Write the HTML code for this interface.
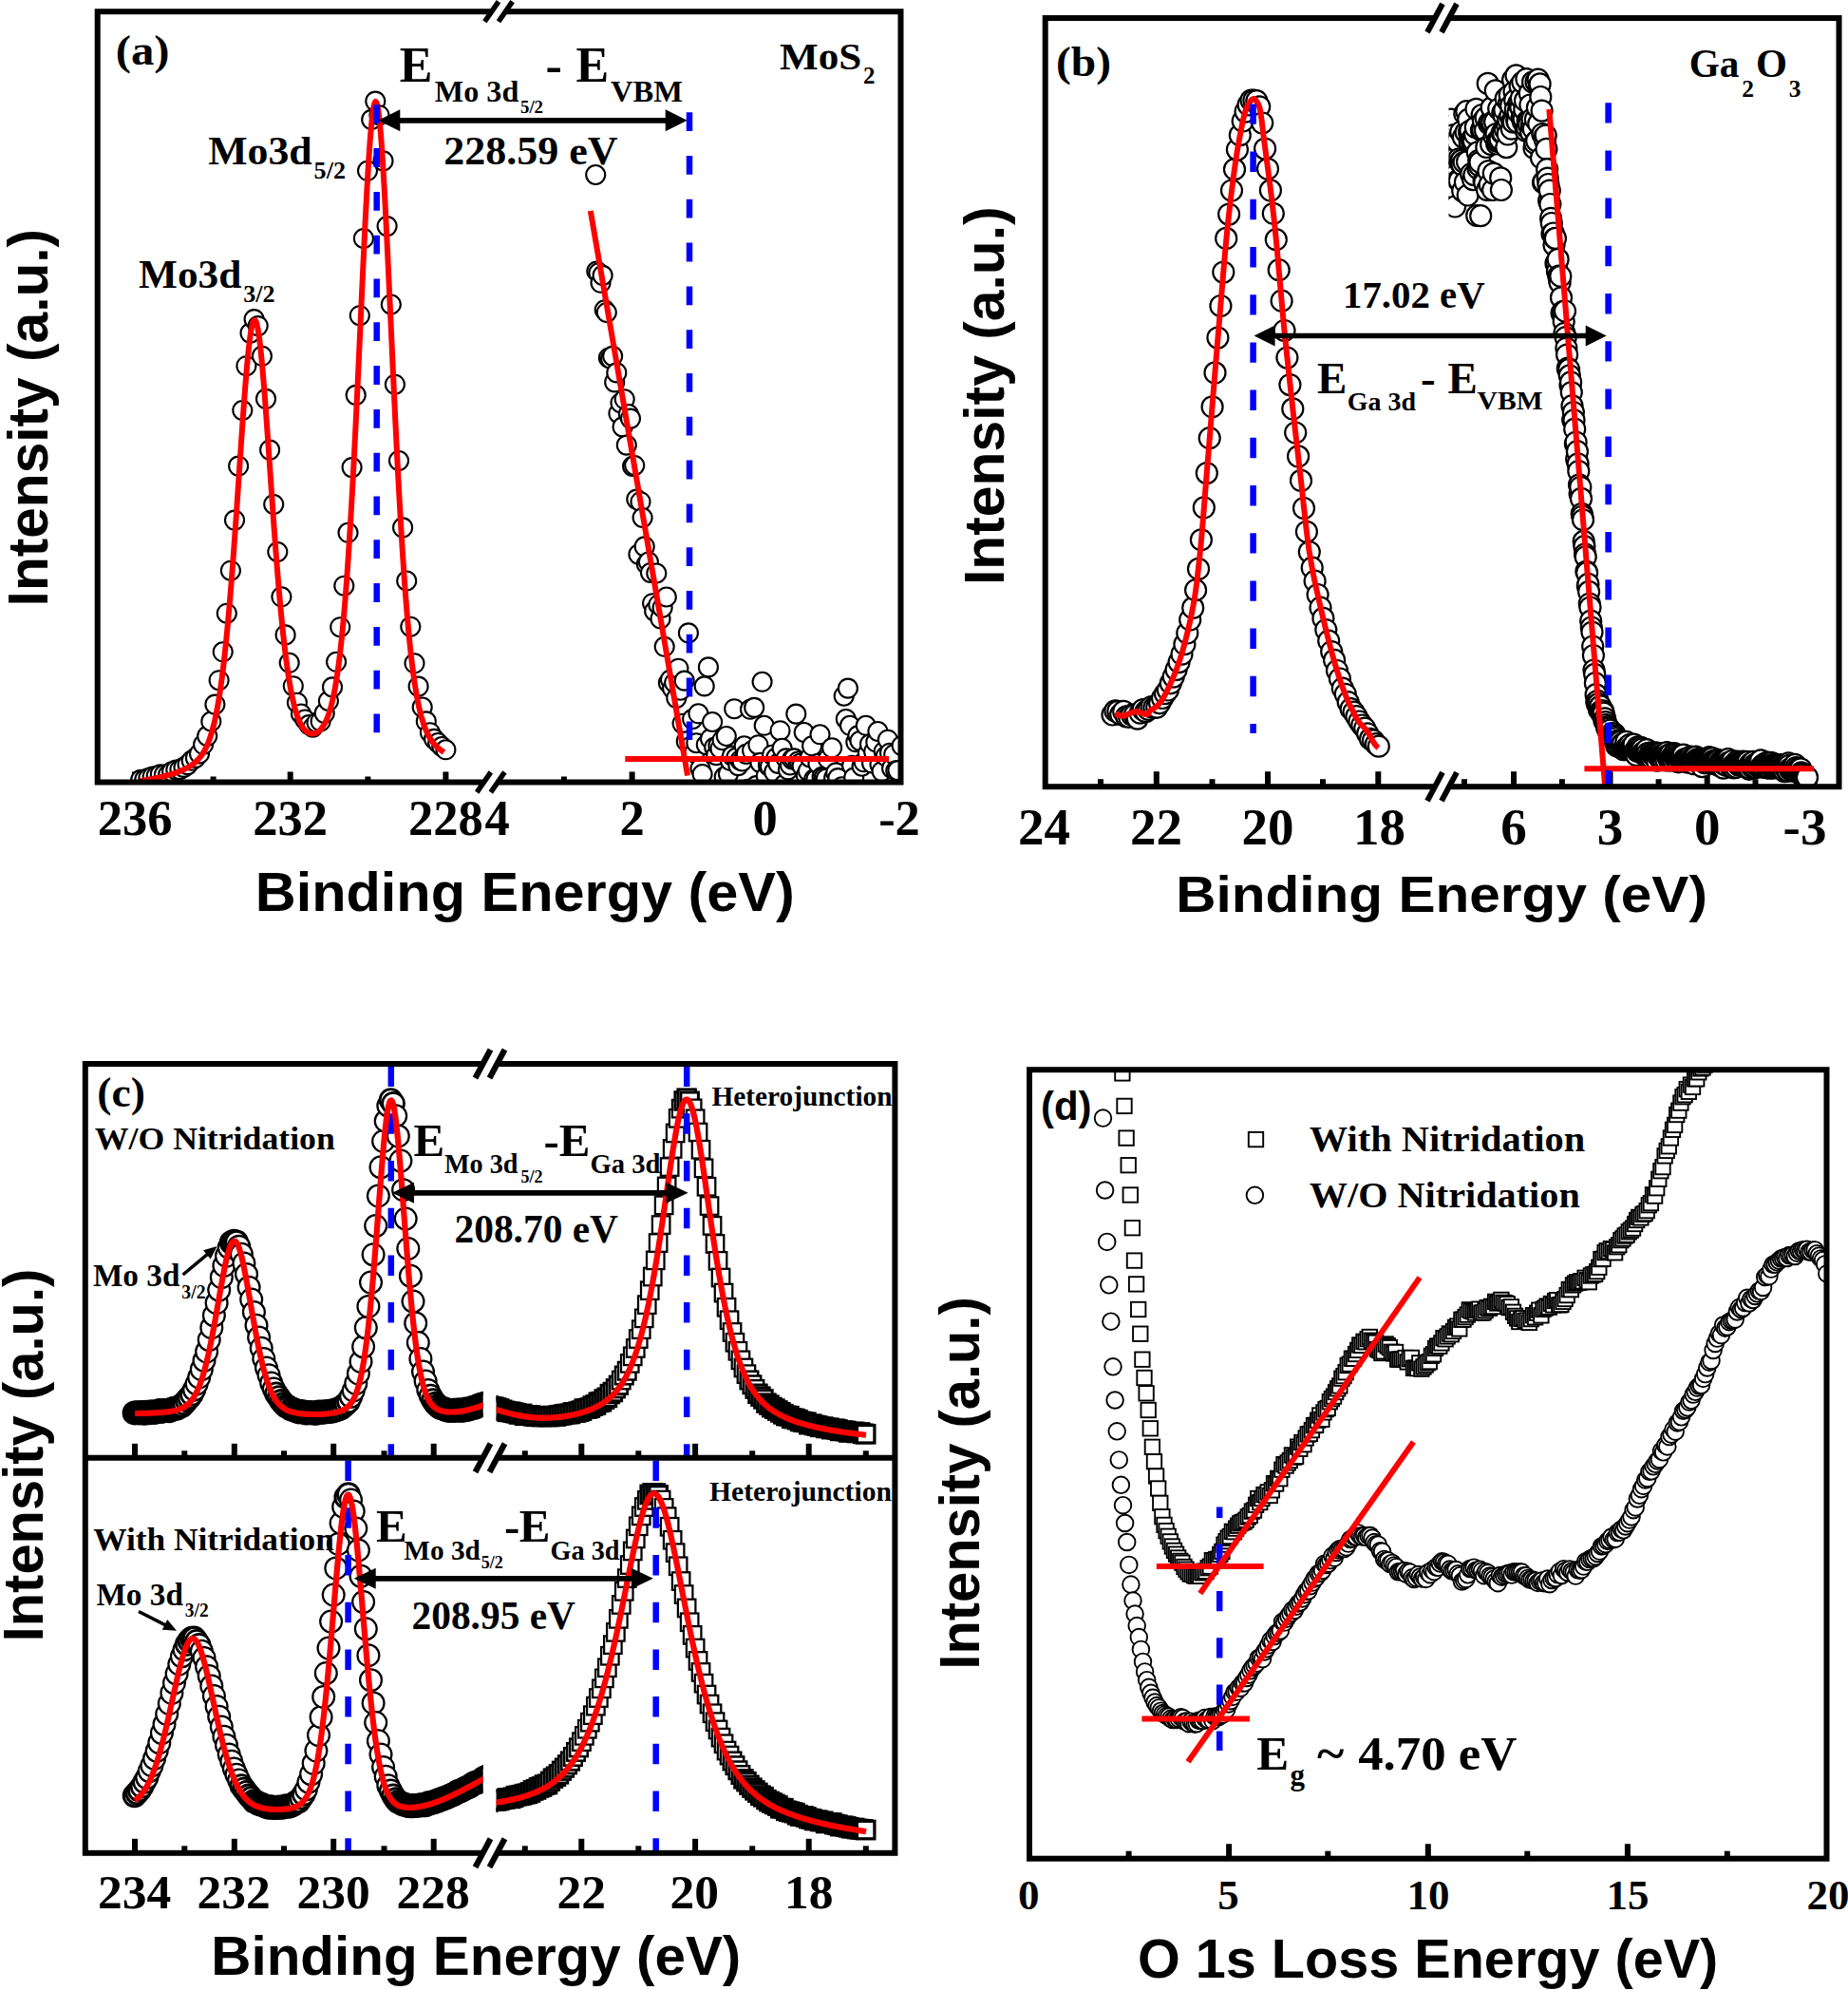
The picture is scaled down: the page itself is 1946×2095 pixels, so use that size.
<!DOCTYPE html>
<html><head><meta charset="utf-8"><title>XPS band alignment figure</title><style>html,body{margin:0;padding:0;background:#fff}svg{display:block}</style></head><body>
<svg width="1946" height="2095" viewBox="0 0 1946 2095">
<style>.se{font-family:'Liberation Serif',serif;font-weight:bold;fill:#000}.sa{font-family:'Liberation Sans',sans-serif;font-weight:bold;fill:#000}</style>
<rect width="1946" height="2095" fill="#fff"/>
<defs>
<clipPath id="ca"><rect x="102.7" y="12.2" width="845.8" height="811.3"/></clipPath>
<clipPath id="cb"><rect x="1525.5" y="19" width="411" height="809.2"/></clipPath>
<clipPath id="cb0"><rect x="1100.5" y="19" width="836" height="809.2"/></clipPath>
<clipPath id="cc1"><rect x="90" y="1120" width="852.4" height="414.8"/></clipPath>
<clipPath id="cc2"><rect x="90" y="1534.8" width="852.4" height="416"/></clipPath>
<clipPath id="cd"><rect x="1084" y="1126.2" width="839.5" height="830.5"/></clipPath>
</defs>
<line x1="142" y1="823.5" x2="142" y2="812.5" stroke="#000" stroke-width="6"/>
<line x1="305.7" y1="823.5" x2="305.7" y2="812.5" stroke="#000" stroke-width="6"/>
<line x1="469.4" y1="823.5" x2="469.4" y2="812.5" stroke="#000" stroke-width="6"/>
<line x1="665.6" y1="823.5" x2="665.6" y2="812.5" stroke="#000" stroke-width="6"/>
<line x1="805.7" y1="823.5" x2="805.7" y2="812.5" stroke="#000" stroke-width="6"/>
<line x1="224.6" y1="823.5" x2="224.6" y2="817.5" stroke="#000" stroke-width="6"/>
<line x1="387.4" y1="823.5" x2="387.4" y2="817.5" stroke="#000" stroke-width="6"/>
<line x1="593.9" y1="823.5" x2="593.9" y2="817.5" stroke="#000" stroke-width="6"/>
<line x1="735.6" y1="823.5" x2="735.6" y2="817.5" stroke="#000" stroke-width="6"/>
<line x1="875.8" y1="823.5" x2="875.8" y2="817.5" stroke="#000" stroke-width="6"/>
<g fill="#fff" stroke="#000" stroke-width="2.1" clip-path="url(#ca)">
<circle cx="148.2" cy="820.9" r="10"/><circle cx="152.3" cy="820.5" r="10"/><circle cx="156.4" cy="819.1" r="10"/><circle cx="160.6" cy="817.5" r="10"/><circle cx="164.7" cy="817.1" r="10"/><circle cx="168.8" cy="815.4" r="10"/><circle cx="172.9" cy="815.5" r="10"/><circle cx="177" cy="815.8" r="10"/><circle cx="181.1" cy="812.3" r="10"/><circle cx="185.3" cy="810.5" r="10"/><circle cx="189.4" cy="810.1" r="10"/><circle cx="193.5" cy="807.9" r="10"/><circle cx="197.6" cy="805.1" r="10"/><circle cx="201.7" cy="800.8" r="10"/><circle cx="205.9" cy="797.9" r="10"/><circle cx="210" cy="793.5" r="10"/><circle cx="214.1" cy="783.8" r="10"/><circle cx="218.2" cy="774.9" r="10"/><circle cx="222.3" cy="759.5" r="10"/><circle cx="226.4" cy="741.6" r="10"/><circle cx="230.6" cy="716.2" r="10"/><circle cx="234.7" cy="686.3" r="10"/><circle cx="238.8" cy="645.7" r="10"/><circle cx="242.9" cy="600.7" r="10"/><circle cx="247" cy="547.6" r="10"/><circle cx="251.1" cy="490.6" r="10"/><circle cx="255.3" cy="432" r="10"/><circle cx="259.4" cy="385.2" r="10"/><circle cx="263.5" cy="350.6" r="10"/><circle cx="267.6" cy="336.1" r="10"/><circle cx="271.7" cy="343.1" r="10"/><circle cx="275.9" cy="374.8" r="10"/><circle cx="280" cy="419.9" r="10"/><circle cx="284.1" cy="473.6" r="10"/><circle cx="288.2" cy="531" r="10"/><circle cx="292.3" cy="581" r="10"/><circle cx="296.4" cy="628.3" r="10"/><circle cx="300.6" cy="668.4" r="10"/><circle cx="304.7" cy="697.8" r="10"/><circle cx="308.8" cy="722.2" r="10"/><circle cx="312.9" cy="739.7" r="10"/><circle cx="317" cy="751.5" r="10"/><circle cx="321.2" cy="757.5" r="10"/><circle cx="325.3" cy="763" r="10"/><circle cx="329.4" cy="765.7" r="10"/><circle cx="333.5" cy="760.7" r="10"/><circle cx="337.6" cy="759.4" r="10"/><circle cx="341.7" cy="750.9" r="10"/><circle cx="345.9" cy="738" r="10"/><circle cx="350" cy="723.4" r="10"/><circle cx="354.1" cy="696.8" r="10"/><circle cx="358.2" cy="660.2" r="10"/><circle cx="362.3" cy="616.7" r="10"/><circle cx="366.5" cy="560.8" r="10"/><circle cx="370.6" cy="492.1" r="10"/><circle cx="374.7" cy="415.9" r="10"/><circle cx="378.8" cy="332.2" r="10"/><circle cx="382.9" cy="251" r="10"/><circle cx="387" cy="179.8" r="10"/><circle cx="391.2" cy="125.9" r="10"/><circle cx="395.3" cy="106.6" r="10"/><circle cx="399.4" cy="121.2" r="10"/><circle cx="403.5" cy="169.4" r="10"/><circle cx="407.6" cy="238.1" r="10"/><circle cx="411.8" cy="320.5" r="10"/><circle cx="415.9" cy="404.7" r="10"/><circle cx="420" cy="485" r="10"/><circle cx="424.1" cy="555.4" r="10"/><circle cx="428.2" cy="611.5" r="10"/><circle cx="432.3" cy="659.7" r="10"/><circle cx="436.5" cy="698.3" r="10"/><circle cx="440.6" cy="722.6" r="10"/><circle cx="444.7" cy="744.5" r="10"/><circle cx="448.8" cy="759.4" r="10"/><circle cx="452.9" cy="771.2" r="10"/><circle cx="457.1" cy="777.9" r="10"/><circle cx="461.2" cy="782" r="10"/><circle cx="465.3" cy="786" r="10"/><circle cx="469.4" cy="789.3" r="10"/>
</g>
<g fill="#fff" stroke="#000" stroke-width="2.1" clip-path="url(#ca)">
<circle cx="627.2" cy="184" r="10"/><circle cx="628.3" cy="285.5" r="10"/><circle cx="630.4" cy="287.3" r="10"/><circle cx="632.5" cy="297.8" r="10"/><circle cx="634.6" cy="289.9" r="10"/><circle cx="636.7" cy="326.3" r="10"/><circle cx="638.8" cy="329" r="10"/><circle cx="640.9" cy="376.7" r="10"/><circle cx="643" cy="377.6" r="10"/><circle cx="645.1" cy="374.9" r="10"/><circle cx="647.2" cy="402.4" r="10"/><circle cx="649.3" cy="392.4" r="10"/><circle cx="651.4" cy="435.2" r="10"/><circle cx="653.5" cy="424.2" r="10"/><circle cx="655.6" cy="449.4" r="10"/><circle cx="657.7" cy="420.3" r="10"/><circle cx="659.8" cy="468.6" r="10"/><circle cx="661.9" cy="436" r="10"/><circle cx="664" cy="440.6" r="10"/><circle cx="666.1" cy="490.9" r="10"/><circle cx="668.2" cy="490" r="10"/><circle cx="670.3" cy="525.6" r="10"/><circle cx="672.4" cy="583.6" r="10"/><circle cx="674.5" cy="528.2" r="10"/><circle cx="676.6" cy="545" r="10"/><circle cx="678.7" cy="575.4" r="10"/><circle cx="680.8" cy="594" r="10"/><circle cx="682.9" cy="591.5" r="10"/><circle cx="685" cy="603" r="10"/><circle cx="687.1" cy="635.2" r="10"/><circle cx="689.2" cy="643.4" r="10"/><circle cx="691.3" cy="603.5" r="10"/><circle cx="693.4" cy="636.7" r="10"/><circle cx="695.5" cy="651.4" r="10"/><circle cx="697.6" cy="639.7" r="10"/><circle cx="699.7" cy="680.8" r="10"/><circle cx="701.8" cy="628.5" r="10"/><circle cx="703.9" cy="718.9" r="10"/><circle cx="706" cy="715.6" r="10"/><circle cx="708.1" cy="724.7" r="10"/><circle cx="710.2" cy="718.7" r="10"/><circle cx="712.3" cy="735" r="10"/><circle cx="714.4" cy="703.7" r="10"/><circle cx="716.5" cy="726.7" r="10"/><circle cx="718.6" cy="761.7" r="10"/><circle cx="720.7" cy="716.6" r="10"/><circle cx="722.8" cy="780.4" r="10"/><circle cx="724.9" cy="666.4" r="10"/><circle cx="727" cy="786" r="10"/><circle cx="729.1" cy="757.1" r="10"/><circle cx="731.2" cy="792.5" r="10"/><circle cx="733.3" cy="782.2" r="10"/><circle cx="735.4" cy="751.3" r="10"/><circle cx="737.5" cy="809.2" r="10"/><circle cx="739.6" cy="815" r="10"/><circle cx="741.7" cy="722.4" r="10"/><circle cx="743.8" cy="784.1" r="10"/><circle cx="745.9" cy="702.4" r="10"/><circle cx="748" cy="777.8" r="10"/><circle cx="750.1" cy="760" r="10"/><circle cx="752.2" cy="786.7" r="10"/><circle cx="754.3" cy="795.1" r="10"/><circle cx="756.4" cy="784.9" r="10"/><circle cx="758.5" cy="788.2" r="10"/><circle cx="760.6" cy="779.2" r="10"/><circle cx="762.7" cy="817.9" r="10"/><circle cx="764.8" cy="775" r="10"/><circle cx="766.9" cy="814.8" r="10"/><circle cx="769" cy="801" r="10"/><circle cx="771.1" cy="795.6" r="10"/><circle cx="773.2" cy="746.2" r="10"/><circle cx="775.3" cy="797.6" r="10"/><circle cx="777.4" cy="806.1" r="10"/><circle cx="779.5" cy="800.4" r="10"/><circle cx="781.6" cy="801.5" r="10"/><circle cx="783.7" cy="785.3" r="10"/><circle cx="785.8" cy="793.9" r="10"/><circle cx="787.9" cy="830.8" r="10"/><circle cx="790" cy="746.8" r="10"/><circle cx="792.1" cy="790.2" r="10"/><circle cx="794.2" cy="744.9" r="10"/><circle cx="796.3" cy="827.1" r="10"/><circle cx="798.4" cy="784.2" r="10"/><circle cx="800.5" cy="802.9" r="10"/><circle cx="802.6" cy="717.8" r="10"/><circle cx="804.7" cy="763.8" r="10"/><circle cx="806.8" cy="817" r="10"/><circle cx="808.9" cy="805.6" r="10"/><circle cx="811" cy="807.1" r="10"/><circle cx="813.1" cy="794.7" r="10"/><circle cx="815.2" cy="812.8" r="10"/><circle cx="817.3" cy="797.9" r="10"/><circle cx="819.4" cy="803.9" r="10"/><circle cx="821.5" cy="769.2" r="10"/><circle cx="823.6" cy="787.8" r="10"/><circle cx="825.7" cy="826" r="10"/><circle cx="827.8" cy="798.4" r="10"/><circle cx="829.9" cy="810.4" r="10"/><circle cx="832" cy="805.5" r="10"/><circle cx="834.1" cy="799.4" r="10"/><circle cx="836.2" cy="798.4" r="10"/><circle cx="838.3" cy="751.6" r="10"/><circle cx="840.4" cy="801.5" r="10"/><circle cx="842.5" cy="803.7" r="10"/><circle cx="844.6" cy="806.3" r="10"/><circle cx="846.7" cy="771" r="10"/><circle cx="848.8" cy="816.2" r="10"/><circle cx="850.9" cy="811.7" r="10"/><circle cx="853" cy="797.5" r="10"/><circle cx="855.1" cy="785.3" r="10"/><circle cx="857.2" cy="820.2" r="10"/><circle cx="859.3" cy="820.5" r="10"/><circle cx="861.4" cy="803.9" r="10"/><circle cx="863.5" cy="773.3" r="10"/><circle cx="865.6" cy="817.7" r="10"/><circle cx="867.7" cy="818.5" r="10"/><circle cx="869.8" cy="819.8" r="10"/><circle cx="871.9" cy="799.2" r="10"/><circle cx="874" cy="828.7" r="10"/><circle cx="876.1" cy="787.3" r="10"/><circle cx="878.2" cy="818.9" r="10"/><circle cx="880.3" cy="813.4" r="10"/><circle cx="882.4" cy="819.1" r="10"/><circle cx="884.5" cy="834.2" r="10"/><circle cx="886.6" cy="828.3" r="10"/><circle cx="888.7" cy="732.7" r="10"/><circle cx="890.8" cy="757" r="10"/><circle cx="892.9" cy="724.6" r="10"/><circle cx="895" cy="763.8" r="10"/><circle cx="897.1" cy="805.8" r="10"/><circle cx="899.2" cy="818.6" r="10"/><circle cx="901.3" cy="781.3" r="10"/><circle cx="903.4" cy="774.4" r="10"/><circle cx="905.5" cy="780" r="10"/><circle cx="907.6" cy="806.7" r="10"/><circle cx="909.7" cy="802.3" r="10"/><circle cx="911.8" cy="763.8" r="10"/><circle cx="913.9" cy="793.1" r="10"/><circle cx="916" cy="783.3" r="10"/><circle cx="918.1" cy="803.5" r="10"/><circle cx="920.2" cy="791.4" r="10"/><circle cx="922.3" cy="781.3" r="10"/><circle cx="924.4" cy="770" r="10"/><circle cx="926.5" cy="805.1" r="10"/><circle cx="928.6" cy="812.1" r="10"/><circle cx="930.7" cy="791.2" r="10"/><circle cx="932.8" cy="796.1" r="10"/><circle cx="934.9" cy="778.7" r="10"/><circle cx="937" cy="792.7" r="10"/><circle cx="939.1" cy="808.9" r="10"/><circle cx="941.2" cy="794.3" r="10"/><circle cx="943.3" cy="811.3" r="10"/><circle cx="945.4" cy="811.1" r="10"/><circle cx="947.5" cy="836.4" r="10"/><circle cx="949.6" cy="785.1" r="10"/>
</g>
<polyline points="147.5,822.2 148.5,822.1 149.5,821.9 150.5,821.7 151.5,821.6 152.5,821.4 153.5,821.2 154.5,821.1 155.5,820.9 156.5,820.7 157.5,820.5 158.5,820.3 159.5,820.1 160.5,819.9 161.5,819.7 162.5,819.5 163.5,819.3 164.5,819.1 165.5,818.9 166.5,818.7 167.5,818.5 168.5,818.2 169.5,818 170.5,817.8 171.5,817.5 172.5,817.3 173.5,817 174.5,816.7 175.5,816.5 176.5,816.2 177.5,815.9 178.5,815.6 179.5,815.3 180.5,815 181.5,814.7 182.5,814.4 183.5,814.1 184.5,813.7 185.5,813.4 186.5,813 187.5,812.6 188.5,812.2 189.5,811.8 190.5,811.4 191.5,811 192.5,810.6 193.5,810.1 194.5,809.6 195.5,809.1 196.5,808.6 197.5,808.1 198.5,807.5 199.5,806.9 200.5,806.3 201.5,805.6 202.5,804.9 203.5,804.2 204.5,803.4 205.5,802.6 206.5,801.7 207.5,800.7 208.5,799.7 209.5,798.6 210.5,797.4 211.5,796.1 212.5,794.8 213.5,793.3 214.5,791.7 215.5,789.9 216.5,788 217.5,786 218.5,783.7 219.5,781.3 220.5,778.6 221.5,775.7 222.5,772.5 223.5,769.1 224.5,765.4 225.5,761.4 226.5,757 227.5,752.3 228.5,747.2 229.5,741.7 230.5,735.7 231.5,729.4 232.5,722.5 233.5,715.3 234.5,707.5 235.5,699.2 236.5,690.4 237.5,681.1 238.5,671.3 239.5,660.9 240.5,650 241.5,638.7 242.5,626.8 243.5,614.5 244.5,601.7 245.5,588.5 246.5,574.8 247.5,560.9 248.5,546.7 249.5,532.2 250.5,517.5 251.5,502.7 252.5,487.9 253.5,473.2 254.5,458.6 255.5,444.3 256.5,430.3 257.5,416.9 258.5,404 259.5,391.9 260.5,380.7 261.5,370.5 262.5,361.5 263.5,353.7 264.5,347.3 265.5,342.3 266.5,338.9 267.5,337.2 268.5,337 269.5,338.5 270.5,341.5 271.5,346.2 272.5,352.2 273.5,359.7 274.5,368.4 275.5,378.3 276.5,389.2 277.5,401 278.5,413.5 279.5,426.6 280.5,440.2 281.5,454.2 282.5,468.5 283.5,482.9 284.5,497.3 285.5,511.8 286.5,526.1 287.5,540.2 288.5,554.1 289.5,567.7 290.5,580.9 291.5,593.8 292.5,606.2 293.5,618.2 294.5,629.7 295.5,640.7 296.5,651.1 297.5,661.1 298.5,670.5 299.5,679.4 300.5,687.8 301.5,695.6 302.5,703 303.5,709.8 304.5,716.2 305.5,722.1 306.5,727.6 307.5,732.6 308.5,737.2 309.5,741.5 310.5,745.3 311.5,748.8 312.5,752 313.5,754.9 314.5,757.5 315.5,759.8 316.5,761.9 317.5,763.7 318.5,765.4 319.5,766.8 320.5,768 321.5,769.1 322.5,770 323.5,770.7 324.5,771.3 325.5,771.8 326.5,772.1 327.5,772.3 328.5,772.4 329.5,772.4 330.5,772.3 331.5,772 332.5,771.7 333.5,771.2 334.5,770.6 335.5,769.9 336.5,769 337.5,768 338.5,766.9 339.5,765.6 340.5,764.1 341.5,762.4 342.5,760.5 343.5,758.5 344.5,756.1 345.5,753.5 346.5,750.7 347.5,747.5 348.5,744 349.5,740.1 350.5,735.8 351.5,731.2 352.5,726.1 353.5,720.5 354.5,714.3 355.5,707.7 356.5,700.5 357.5,692.6 358.5,684.1 359.5,675 360.5,665.2 361.5,654.6 362.5,643.3 363.5,631.3 364.5,618.5 365.5,604.9 366.5,590.5 367.5,575.3 368.5,559.3 369.5,542.6 370.5,525.1 371.5,507 372.5,488.1 373.5,468.6 374.5,448.5 375.5,427.9 376.5,406.9 377.5,385.6 378.5,364 379.5,342.2 380.5,320.4 381.5,298.8 382.5,277.4 383.5,256.5 384.5,236.2 385.5,216.6 386.5,198 387.5,180.7 388.5,164.7 389.5,150.3 390.5,137.7 391.5,127.1 392.5,118.6 393.5,112.3 394.5,108.5 395.5,107 396.5,108.1 397.5,111.5 398.5,117.4 399.5,125.5 400.5,135.8 401.5,148.2 402.5,162.3 403.5,178.1 404.5,195.3 405.5,213.7 406.5,233.2 407.5,253.5 408.5,274.4 409.5,295.8 410.5,317.5 411.5,339.4 412.5,361.2 413.5,383 414.5,404.5 415.5,425.7 416.5,446.5 417.5,466.8 418.5,486.5 419.5,505.6 420.5,524.1 421.5,541.8 422.5,558.8 423.5,575.1 424.5,590.6 425.5,605.3 426.5,619.2 427.5,632.3 428.5,644.7 429.5,656.3 430.5,667.1 431.5,677.3 432.5,686.7 433.5,695.5 434.5,703.7 435.5,711.2 436.5,718.2 437.5,724.6 438.5,730.6 439.5,736 440.5,741 441.5,745.6 442.5,749.8 443.5,753.7 444.5,757.2 445.5,760.4 446.5,763.4 447.5,766.1 448.5,768.5 449.5,770.8 450.5,772.9 451.5,774.8 452.5,776.6 453.5,778.2 454.5,779.7 455.5,781.1 456.5,782.3 457.5,783.5 458.5,784.6 459.5,785.7 460.5,786.6 461.5,787.5 462.5,788.4 463.5,789.2 464.5,789.9 465.5,790.7 466.5,791.3 467.5,792" fill="none" stroke="#f00" stroke-width="6" stroke-linejoin="round"/>
<line x1="621.8" y1="221.9" x2="724" y2="816.5" stroke="#f00" stroke-width="6"/>
<line x1="658.3" y1="799" x2="936" y2="799" stroke="#f00" stroke-width="6"/>
<line x1="396.7" y1="110.3" x2="396.7" y2="772" stroke="#00f" stroke-width="6.5" stroke-dasharray="19.8 26" stroke-dashoffset="0"/>
<line x1="726" y1="118.2" x2="726" y2="779" stroke="#00f" stroke-width="6.5" stroke-dasharray="19.8 26" stroke-dashoffset="0"/>
<rect x="102.7" y="12.2" width="845.8" height="811.3" fill="none" stroke="#000" stroke-width="6"/>
<path d="M502.2 834.1 L516.8 812.9 L531.4 812.9 L516.8 834.1 z" fill="#fff"/>
<line x1="502.2" y1="834.1" x2="516.8" y2="812.9" stroke="#000" stroke-width="5.4"/>
<line x1="516.8" y1="834.1" x2="531.4" y2="812.9" stroke="#000" stroke-width="5.4"/>
<path d="M510.4 22.8 L525 1.6 L539.6 1.6 L525 22.8 z" fill="#fff"/>
<line x1="510.4" y1="22.8" x2="525" y2="1.6" stroke="#000" stroke-width="5.4"/>
<line x1="525" y1="22.8" x2="539.6" y2="1.6" stroke="#000" stroke-width="5.4"/>
<line x1="414.4" y1="126.8" x2="707.6" y2="126.8" stroke="#000" stroke-width="5.7"/>
<path d="M398.3 126.8 l23 -11.5 l0 23 z M723.7 126.8 l-23 -11.5 l0 23 z" fill="#000"/>
<text class="se" x="121.8" y="67.6" font-size="44" textLength="56.8" lengthAdjust="spacingAndGlyphs">(a)</text>
<text class="se" x="420.8" y="86.3" font-size="52">E</text>
<text class="se" x="457.8" y="106.7" font-size="31" textLength="88.5" lengthAdjust="spacingAndGlyphs">Mo 3d</text>
<text class="se" x="548" y="118.6" font-size="18" textLength="24" lengthAdjust="spacingAndGlyphs">5/2</text>
<text class="se" x="574.6" y="86.3" font-size="52">-</text>
<text class="se" x="606.6" y="86.3" font-size="52">E</text>
<text class="se" x="643" y="106.7" font-size="31" textLength="76" lengthAdjust="spacingAndGlyphs">VBM</text>
<text class="se" x="821" y="72.8" font-size="41" textLength="86.3" lengthAdjust="spacingAndGlyphs">MoS</text>
<text class="se" x="908.9" y="87.9" font-size="25">2</text>
<text class="se" x="467.3" y="173.3" font-size="42" textLength="183.3" lengthAdjust="spacingAndGlyphs">228.59 eV</text>
<text class="se" x="219.2" y="173.2" font-size="43" textLength="109.5" lengthAdjust="spacingAndGlyphs">Mo3d</text>
<text class="se" x="330.6" y="188" font-size="26" textLength="33.4" lengthAdjust="spacingAndGlyphs">5/2</text>
<text class="se" x="146.1" y="303" font-size="43" textLength="108.2" lengthAdjust="spacingAndGlyphs">Mo3d</text>
<text class="se" x="256.2" y="318" font-size="26" textLength="33.3" lengthAdjust="spacingAndGlyphs">3/2</text>
<text class="se" x="142" y="879.3" font-size="52.5" text-anchor="middle">236</text>
<text class="se" x="305.7" y="879.3" font-size="52.5" text-anchor="middle">232</text>
<text class="se" x="469.4" y="879.3" font-size="52.5" text-anchor="middle">228</text>
<text class="se" x="523.6" y="879.3" font-size="52.5" text-anchor="middle">4</text>
<text class="se" x="665.6" y="879.3" font-size="52.5" text-anchor="middle">2</text>
<text class="se" x="805.7" y="879.3" font-size="52.5" text-anchor="middle">0</text>
<text class="se" x="947" y="879.3" font-size="52.5" text-anchor="middle">-2</text>
<text class="sa" x="268.8" y="958.6" font-size="57" textLength="568" lengthAdjust="spacingAndGlyphs">Binding Energy (eV)</text>
<text class="sa" x="0" y="0" font-size="60" textLength="397.5" lengthAdjust="spacingAndGlyphs" transform="translate(50.3 638.4) rotate(-90)">Intensity (a.u.)</text>
<line x1="1217.8" y1="828.2" x2="1217.8" y2="812.2" stroke="#000" stroke-width="6"/>
<line x1="1335" y1="828.2" x2="1335" y2="812.2" stroke="#000" stroke-width="6"/>
<line x1="1451.3" y1="828.2" x2="1451.3" y2="812.2" stroke="#000" stroke-width="6"/>
<line x1="1594" y1="828.2" x2="1594" y2="812.2" stroke="#000" stroke-width="6"/>
<line x1="1695.5" y1="828.2" x2="1695.5" y2="812.2" stroke="#000" stroke-width="6"/>
<line x1="1797.7" y1="828.2" x2="1797.7" y2="812.2" stroke="#000" stroke-width="6"/>
<line x1="1899.3" y1="828.2" x2="1899.3" y2="812.2" stroke="#000" stroke-width="6"/>
<line x1="1159" y1="828.2" x2="1159" y2="820.2" stroke="#000" stroke-width="6"/>
<line x1="1276.5" y1="828.2" x2="1276.5" y2="820.2" stroke="#000" stroke-width="6"/>
<line x1="1393" y1="828.2" x2="1393" y2="820.2" stroke="#000" stroke-width="6"/>
<line x1="1542" y1="828.2" x2="1542" y2="820.2" stroke="#000" stroke-width="6"/>
<line x1="1644.9" y1="828.2" x2="1644.9" y2="820.2" stroke="#000" stroke-width="6"/>
<line x1="1746.6" y1="828.2" x2="1746.6" y2="820.2" stroke="#000" stroke-width="6"/>
<line x1="1848.5" y1="828.2" x2="1848.5" y2="820.2" stroke="#000" stroke-width="6"/>
<g fill="#fff" stroke="#000" stroke-width="2.2" clip-path="url(#cb0)">
<circle cx="1171.5" cy="752.5" r="11"/><circle cx="1174.4" cy="748.4" r="11"/><circle cx="1177.3" cy="748.8" r="11"/><circle cx="1180.2" cy="752.1" r="11"/><circle cx="1183.2" cy="748.9" r="11"/><circle cx="1186.1" cy="754.4" r="11"/><circle cx="1189" cy="754.8" r="11"/><circle cx="1191.9" cy="752.6" r="11"/><circle cx="1194.8" cy="752.7" r="11"/><circle cx="1197.8" cy="756.6" r="11"/><circle cx="1200.7" cy="750.7" r="11"/><circle cx="1203.6" cy="747.1" r="11"/><circle cx="1206.5" cy="749.2" r="11"/><circle cx="1209.4" cy="746.9" r="11"/><circle cx="1212.4" cy="744.2" r="11"/><circle cx="1215.3" cy="745" r="11"/><circle cx="1218.2" cy="744.7" r="11"/><circle cx="1221.1" cy="740.3" r="11"/><circle cx="1224" cy="735" r="11"/><circle cx="1227" cy="730.2" r="11"/><circle cx="1229.9" cy="726.5" r="11"/><circle cx="1232.8" cy="719.3" r="11"/><circle cx="1235.7" cy="712.6" r="11"/><circle cx="1238.6" cy="705.1" r="11"/><circle cx="1241.6" cy="697.1" r="11"/><circle cx="1244.5" cy="688.7" r="11"/><circle cx="1247.4" cy="678.2" r="11"/><circle cx="1250.3" cy="666.5" r="11"/><circle cx="1253.2" cy="652.5" r="11"/><circle cx="1256.2" cy="639.9" r="11"/><circle cx="1259.1" cy="621.2" r="11"/><circle cx="1262" cy="598.9" r="11"/><circle cx="1264.9" cy="568.3" r="11"/><circle cx="1267.8" cy="534.4" r="11"/><circle cx="1270.8" cy="498.1" r="11"/><circle cx="1273.7" cy="461.2" r="11"/><circle cx="1276.6" cy="428.3" r="11"/><circle cx="1279.5" cy="392.4" r="11"/><circle cx="1282.4" cy="355.6" r="11"/><circle cx="1285.4" cy="322" r="11"/><circle cx="1288.3" cy="286.6" r="11"/><circle cx="1291.2" cy="250.9" r="11"/><circle cx="1294.1" cy="225.6" r="11"/><circle cx="1297" cy="200.5" r="11"/><circle cx="1300" cy="178.2" r="11"/><circle cx="1302.9" cy="157.6" r="11"/><circle cx="1305.8" cy="142.2" r="11"/><circle cx="1308.7" cy="127.5" r="11"/><circle cx="1311.6" cy="117.6" r="11"/><circle cx="1314.6" cy="110.4" r="11"/><circle cx="1317.5" cy="105.5" r="11"/><circle cx="1320.4" cy="105.6" r="11"/><circle cx="1323.3" cy="106.2" r="11"/><circle cx="1326.2" cy="112.3" r="11"/><circle cx="1329.2" cy="129.5" r="11"/><circle cx="1332.1" cy="156.6" r="11"/><circle cx="1335" cy="177.8" r="11"/><circle cx="1337.9" cy="200.4" r="11"/><circle cx="1340.8" cy="224.8" r="11"/><circle cx="1343.8" cy="252.2" r="11"/><circle cx="1346.7" cy="284.2" r="11"/><circle cx="1349.6" cy="316.7" r="11"/><circle cx="1352.5" cy="348" r="11"/><circle cx="1355.4" cy="376.6" r="11"/><circle cx="1358.4" cy="405.1" r="11"/><circle cx="1361.3" cy="430.4" r="11"/><circle cx="1364.2" cy="455.5" r="11"/><circle cx="1367.1" cy="480.4" r="11"/><circle cx="1370" cy="505.9" r="11"/><circle cx="1373" cy="535" r="11"/><circle cx="1375.9" cy="559.8" r="11"/><circle cx="1378.8" cy="581.1" r="11"/><circle cx="1381.7" cy="597.7" r="11"/><circle cx="1384.6" cy="611.7" r="11"/><circle cx="1387.6" cy="626" r="11"/><circle cx="1390.5" cy="639.7" r="11"/><circle cx="1393.4" cy="650.9" r="11"/><circle cx="1396.3" cy="663.1" r="11"/><circle cx="1399.2" cy="674.7" r="11"/><circle cx="1402.2" cy="686.1" r="11"/><circle cx="1405.1" cy="694.9" r="11"/><circle cx="1408" cy="706" r="11"/><circle cx="1410.9" cy="714.5" r="11"/><circle cx="1413.8" cy="724.7" r="11"/><circle cx="1416.8" cy="730.8" r="11"/><circle cx="1419.7" cy="739.2" r="11"/><circle cx="1422.6" cy="746.2" r="11"/><circle cx="1425.5" cy="749.7" r="11"/><circle cx="1428.4" cy="754.2" r="11"/><circle cx="1431.4" cy="759.5" r="11"/><circle cx="1434.3" cy="763.5" r="11"/><circle cx="1437.2" cy="766.7" r="11"/><circle cx="1440.1" cy="772.3" r="11"/><circle cx="1443" cy="777.9" r="11"/><circle cx="1446" cy="779.5" r="11"/><circle cx="1448.9" cy="783.2" r="11"/><circle cx="1451.8" cy="785.7" r="11"/>
</g>
<g fill="#fff" stroke="#000" stroke-width="2.2" clip-path="url(#cb)">
<circle cx="1522.6" cy="170.5" r="11"/><circle cx="1523.3" cy="155.7" r="11"/><circle cx="1524" cy="146.9" r="11"/><circle cx="1524.6" cy="162.8" r="11"/><circle cx="1525.3" cy="140.8" r="11"/><circle cx="1526" cy="132.9" r="11"/><circle cx="1526.7" cy="170.5" r="11"/><circle cx="1527.4" cy="198.8" r="11"/><circle cx="1528" cy="125.6" r="11"/><circle cx="1528.7" cy="172.1" r="11"/><circle cx="1529.4" cy="152.3" r="11"/><circle cx="1530.1" cy="142.3" r="11"/><circle cx="1530.7" cy="197.9" r="11"/><circle cx="1531.4" cy="156.3" r="11"/><circle cx="1532.1" cy="217.5" r="11"/><circle cx="1532.8" cy="148.3" r="11"/><circle cx="1533.5" cy="183.7" r="11"/><circle cx="1534.1" cy="165.1" r="11"/><circle cx="1534.8" cy="149.1" r="11"/><circle cx="1535.5" cy="189.8" r="11"/><circle cx="1536.2" cy="167.3" r="11"/><circle cx="1536.8" cy="190.3" r="11"/><circle cx="1537.5" cy="170.6" r="11"/><circle cx="1538.2" cy="139" r="11"/><circle cx="1538.9" cy="168.9" r="11"/><circle cx="1539.6" cy="173.6" r="11"/><circle cx="1540.2" cy="201.1" r="11"/><circle cx="1540.9" cy="144.5" r="11"/><circle cx="1541.6" cy="170.8" r="11"/><circle cx="1542.3" cy="119.7" r="11"/><circle cx="1542.9" cy="191.8" r="11"/><circle cx="1543.6" cy="139.2" r="11"/><circle cx="1544.3" cy="117.2" r="11"/><circle cx="1545" cy="170.2" r="11"/><circle cx="1545.7" cy="205.5" r="11"/><circle cx="1546.3" cy="125.7" r="11"/><circle cx="1547" cy="138.9" r="11"/><circle cx="1547.7" cy="149.3" r="11"/><circle cx="1548.4" cy="137.5" r="11"/><circle cx="1549.1" cy="183.2" r="11"/><circle cx="1549.7" cy="147.1" r="11"/><circle cx="1550.4" cy="149.6" r="11"/><circle cx="1551.1" cy="189.1" r="11"/><circle cx="1551.8" cy="148.3" r="11"/><circle cx="1552.4" cy="184.2" r="11"/><circle cx="1553.1" cy="141.4" r="11"/><circle cx="1553.8" cy="133.9" r="11"/><circle cx="1554.5" cy="114.8" r="11"/><circle cx="1555.2" cy="227" r="11"/><circle cx="1555.8" cy="160.4" r="11"/><circle cx="1556.5" cy="177.4" r="11"/><circle cx="1557.2" cy="168.8" r="11"/><circle cx="1557.9" cy="174.4" r="11"/><circle cx="1558.5" cy="170.8" r="11"/><circle cx="1559.2" cy="227.2" r="11"/><circle cx="1559.9" cy="137.1" r="11"/><circle cx="1560.6" cy="121" r="11"/><circle cx="1561.3" cy="137.4" r="11"/><circle cx="1561.9" cy="127.3" r="11"/><circle cx="1562.6" cy="190.5" r="11"/><circle cx="1563.3" cy="192.4" r="11"/><circle cx="1564" cy="137.5" r="11"/><circle cx="1564.6" cy="123.9" r="11"/><circle cx="1565.3" cy="155" r="11"/><circle cx="1566" cy="200" r="11"/><circle cx="1566.7" cy="87.9" r="11"/><circle cx="1567.4" cy="180.1" r="11"/><circle cx="1568" cy="130.1" r="11"/><circle cx="1568.7" cy="194.4" r="11"/><circle cx="1569.4" cy="128.4" r="11"/><circle cx="1570.1" cy="152" r="11"/><circle cx="1570.7" cy="113.4" r="11"/><circle cx="1571.4" cy="128.8" r="11"/><circle cx="1572.1" cy="200" r="11"/><circle cx="1572.8" cy="182.6" r="11"/><circle cx="1573.5" cy="143.8" r="11"/><circle cx="1574.1" cy="128.2" r="11"/><circle cx="1574.8" cy="95.4" r="11"/><circle cx="1575.5" cy="141.1" r="11"/><circle cx="1576.2" cy="151.5" r="11"/><circle cx="1576.8" cy="148.9" r="11"/><circle cx="1577.5" cy="147.7" r="11"/><circle cx="1578.2" cy="114.6" r="11"/><circle cx="1578.9" cy="146.7" r="11"/><circle cx="1579.6" cy="146.5" r="11"/><circle cx="1580.2" cy="187.3" r="11"/><circle cx="1580.9" cy="200" r="11"/><circle cx="1581.6" cy="140" r="11"/><circle cx="1582.3" cy="118.9" r="11"/><circle cx="1583" cy="139.9" r="11"/><circle cx="1583.6" cy="121.4" r="11"/><circle cx="1584.3" cy="115.8" r="11"/><circle cx="1585" cy="136.3" r="11"/><circle cx="1585.7" cy="103.7" r="11"/><circle cx="1586.3" cy="155.1" r="11"/><circle cx="1587" cy="131.3" r="11"/><circle cx="1587.7" cy="141.5" r="11"/><circle cx="1588.4" cy="126.5" r="11"/><circle cx="1589.1" cy="108" r="11"/><circle cx="1589.7" cy="100" r="11"/><circle cx="1590.4" cy="122" r="11"/><circle cx="1591.1" cy="111.2" r="11"/><circle cx="1591.8" cy="135.7" r="11"/><circle cx="1592.4" cy="127.5" r="11"/><circle cx="1593.1" cy="84" r="11"/><circle cx="1593.8" cy="128.7" r="11"/><circle cx="1594.5" cy="96.5" r="11"/><circle cx="1595.2" cy="105.7" r="11"/><circle cx="1595.8" cy="115.5" r="11"/><circle cx="1596.5" cy="79.4" r="11"/><circle cx="1597.2" cy="127" r="11"/><circle cx="1597.9" cy="128.5" r="11"/><circle cx="1598.5" cy="118.1" r="11"/><circle cx="1599.2" cy="109.1" r="11"/><circle cx="1599.9" cy="110.4" r="11"/><circle cx="1600.6" cy="90.6" r="11"/><circle cx="1601.3" cy="113" r="11"/><circle cx="1601.9" cy="103.6" r="11"/><circle cx="1602.6" cy="124.1" r="11"/><circle cx="1603.3" cy="86.6" r="11"/><circle cx="1604" cy="128.2" r="11"/><circle cx="1604.6" cy="125" r="11"/><circle cx="1605.3" cy="115.6" r="11"/><circle cx="1606" cy="105.9" r="11"/><circle cx="1606.7" cy="137.6" r="11"/><circle cx="1607.4" cy="83.1" r="11"/><circle cx="1608" cy="134.4" r="11"/><circle cx="1608.7" cy="127.2" r="11"/><circle cx="1609.4" cy="128.4" r="11"/><circle cx="1610.1" cy="131.5" r="11"/><circle cx="1610.7" cy="97.9" r="11"/><circle cx="1611.4" cy="110.5" r="11"/><circle cx="1612.1" cy="139.3" r="11"/><circle cx="1612.8" cy="132.5" r="11"/><circle cx="1613.5" cy="125.2" r="11"/><circle cx="1614.1" cy="86.4" r="11"/><circle cx="1614.8" cy="135.7" r="11"/><circle cx="1615.5" cy="155.9" r="11"/><circle cx="1616.2" cy="150.7" r="11"/><circle cx="1616.9" cy="125.7" r="11"/><circle cx="1617.5" cy="86.2" r="11"/><circle cx="1618.2" cy="148.4" r="11"/><circle cx="1618.9" cy="113.3" r="11"/><circle cx="1619.6" cy="83.7" r="11"/><circle cx="1620.2" cy="130.2" r="11"/><circle cx="1620.9" cy="90.4" r="11"/><circle cx="1621.6" cy="88.4" r="11"/><circle cx="1622.3" cy="102" r="11"/><circle cx="1623" cy="166.2" r="11"/><circle cx="1623.6" cy="116.6" r="11"/><circle cx="1624.3" cy="141" r="11"/><circle cx="1625" cy="192.2" r="11"/><circle cx="1625.7" cy="191.4" r="11"/><circle cx="1626.3" cy="144.3" r="11"/><circle cx="1627" cy="147.5" r="11"/><circle cx="1627.7" cy="142.6" r="11"/><circle cx="1628.4" cy="156.9" r="11"/><circle cx="1629.1" cy="178.2" r="11"/><circle cx="1629.7" cy="187.6" r="11"/><circle cx="1630.4" cy="194" r="11"/><circle cx="1631.1" cy="211.2" r="11"/><circle cx="1631.8" cy="200.6" r="11"/><circle cx="1632.4" cy="215" r="11"/><circle cx="1633.1" cy="229.8" r="11"/><circle cx="1633.8" cy="235" r="11"/><circle cx="1634.5" cy="246.3" r="11"/><circle cx="1635.2" cy="246.1" r="11"/><circle cx="1635.8" cy="245.5" r="11"/><circle cx="1636.5" cy="258.1" r="11"/><circle cx="1637.2" cy="251" r="11"/><circle cx="1637.9" cy="250.9" r="11"/><circle cx="1638.5" cy="277.3" r="11"/><circle cx="1639.2" cy="276.9" r="11"/><circle cx="1639.9" cy="285.7" r="11"/><circle cx="1640.6" cy="272.9" r="11"/><circle cx="1641.3" cy="290.6" r="11"/><circle cx="1641.9" cy="294.1" r="11"/><circle cx="1642.6" cy="297.4" r="11"/><circle cx="1643.3" cy="290.8" r="11"/><circle cx="1644" cy="313.3" r="11"/><circle cx="1644.6" cy="329.6" r="11"/><circle cx="1645.3" cy="330.7" r="11"/><circle cx="1646" cy="327.9" r="11"/><circle cx="1646.7" cy="338.6" r="11"/><circle cx="1647.4" cy="350.8" r="11"/><circle cx="1648" cy="327.5" r="11"/><circle cx="1648.7" cy="355.2" r="11"/><circle cx="1649.4" cy="366.6" r="11"/><circle cx="1650.1" cy="373.6" r="11"/><circle cx="1650.8" cy="387.7" r="11"/><circle cx="1651.4" cy="389.3" r="11"/><circle cx="1652.1" cy="389" r="11"/><circle cx="1652.8" cy="395.4" r="11"/><circle cx="1653.5" cy="405.6" r="11"/><circle cx="1654.1" cy="402.4" r="11"/><circle cx="1654.8" cy="413.1" r="11"/><circle cx="1655.5" cy="427.2" r="11"/><circle cx="1656.2" cy="442" r="11"/><circle cx="1656.9" cy="434.1" r="11"/><circle cx="1657.5" cy="442.4" r="11"/><circle cx="1658.2" cy="451.7" r="11"/><circle cx="1658.9" cy="467.3" r="11"/><circle cx="1659.6" cy="465.6" r="11"/><circle cx="1660.2" cy="483.4" r="11"/><circle cx="1660.9" cy="475.2" r="11"/><circle cx="1661.6" cy="488.3" r="11"/><circle cx="1662.3" cy="496.1" r="11"/><circle cx="1663" cy="510.3" r="11"/><circle cx="1663.6" cy="520" r="11"/><circle cx="1664.3" cy="512.8" r="11"/><circle cx="1665" cy="524.9" r="11"/><circle cx="1665.7" cy="540.8" r="11"/><circle cx="1666.3" cy="543.6" r="11"/><circle cx="1667" cy="547.3" r="11"/><circle cx="1667.7" cy="569.9" r="11"/><circle cx="1668.4" cy="575.2" r="11"/><circle cx="1669.1" cy="583.3" r="11"/><circle cx="1669.7" cy="586.2" r="11"/><circle cx="1670.4" cy="601.6" r="11"/><circle cx="1671.1" cy="602.9" r="11"/><circle cx="1671.8" cy="616.9" r="11"/><circle cx="1672.4" cy="614.9" r="11"/><circle cx="1673.1" cy="622.9" r="11"/><circle cx="1673.8" cy="635.6" r="11"/><circle cx="1674.5" cy="639.5" r="11"/><circle cx="1675.2" cy="653.7" r="11"/><circle cx="1675.8" cy="660.5" r="11"/><circle cx="1676.5" cy="665.6" r="11"/><circle cx="1677.2" cy="680.5" r="11"/><circle cx="1677.9" cy="690" r="11"/><circle cx="1678.5" cy="705.5" r="11"/><circle cx="1679.2" cy="709.9" r="11"/><circle cx="1679.9" cy="719.2" r="11"/><circle cx="1680.6" cy="731.2" r="11"/><circle cx="1681.3" cy="738.6" r="11"/><circle cx="1681.9" cy="741.1" r="11"/><circle cx="1682.6" cy="737.8" r="11"/><circle cx="1683.3" cy="740.9" r="11"/><circle cx="1684" cy="747.3" r="11"/><circle cx="1684.7" cy="744.2" r="11"/><circle cx="1685.3" cy="743.5" r="11"/><circle cx="1686" cy="748.6" r="11"/><circle cx="1686.7" cy="751.3" r="11"/><circle cx="1687.4" cy="749.1" r="11"/><circle cx="1688" cy="748.4" r="11"/><circle cx="1688.7" cy="750.7" r="11"/><circle cx="1689.4" cy="758.7" r="11"/><circle cx="1690.1" cy="756.4" r="11"/><circle cx="1690.8" cy="760.1" r="11"/><circle cx="1691.4" cy="763" r="11"/><circle cx="1692.1" cy="766" r="11"/><circle cx="1692.8" cy="765.1" r="11"/><circle cx="1693.5" cy="769" r="11"/><circle cx="1694.1" cy="766.7" r="11"/><circle cx="1694.8" cy="769.3" r="11"/><circle cx="1695.5" cy="768.6" r="11"/><circle cx="1696.2" cy="775.3" r="11"/><circle cx="1696.9" cy="773.1" r="11"/><circle cx="1697.5" cy="772" r="11"/><circle cx="1698.2" cy="773.8" r="11"/><circle cx="1698.9" cy="774.9" r="11"/><circle cx="1699.6" cy="778.1" r="11"/><circle cx="1700.2" cy="772.7" r="11"/><circle cx="1700.9" cy="774.8" r="11"/><circle cx="1701.6" cy="777.1" r="11"/><circle cx="1702.3" cy="785.3" r="11"/><circle cx="1703" cy="781.8" r="11"/><circle cx="1703.6" cy="779.5" r="11"/><circle cx="1704.3" cy="782.2" r="11"/><circle cx="1705" cy="786.2" r="11"/><circle cx="1705.7" cy="780.8" r="11"/><circle cx="1706.3" cy="780.9" r="11"/><circle cx="1707" cy="785.5" r="11"/><circle cx="1707.7" cy="784.1" r="11"/><circle cx="1708.4" cy="785.1" r="11"/><circle cx="1709.1" cy="782.5" r="11"/><circle cx="1709.7" cy="789.2" r="11"/><circle cx="1710.4" cy="789.1" r="11"/><circle cx="1711.1" cy="786.6" r="11"/><circle cx="1711.8" cy="787.3" r="11"/><circle cx="1712.4" cy="780.9" r="11"/><circle cx="1713.1" cy="788" r="11"/><circle cx="1713.8" cy="786.2" r="11"/><circle cx="1714.5" cy="788.2" r="11"/><circle cx="1715.2" cy="789.1" r="11"/><circle cx="1715.8" cy="786.8" r="11"/><circle cx="1716.5" cy="783.8" r="11"/><circle cx="1717.2" cy="789.1" r="11"/><circle cx="1717.9" cy="786.6" r="11"/><circle cx="1718.6" cy="787.9" r="11"/><circle cx="1719.2" cy="787.5" r="11"/><circle cx="1719.9" cy="788.4" r="11"/><circle cx="1720.6" cy="783.7" r="11"/><circle cx="1721.3" cy="792.7" r="11"/><circle cx="1721.9" cy="790.5" r="11"/><circle cx="1722.6" cy="792.8" r="11"/><circle cx="1723.3" cy="795.2" r="11"/><circle cx="1724" cy="790.6" r="11"/><circle cx="1724.7" cy="786.3" r="11"/><circle cx="1725.3" cy="788.7" r="11"/><circle cx="1726" cy="788.2" r="11"/><circle cx="1726.7" cy="790.1" r="11"/><circle cx="1727.4" cy="791.7" r="11"/><circle cx="1728" cy="786.8" r="11"/><circle cx="1728.7" cy="792.7" r="11"/><circle cx="1729.4" cy="788.4" r="11"/><circle cx="1730.1" cy="792.9" r="11"/><circle cx="1730.8" cy="792.1" r="11"/><circle cx="1731.4" cy="791.8" r="11"/><circle cx="1732.1" cy="792.5" r="11"/><circle cx="1732.8" cy="791.5" r="11"/><circle cx="1733.5" cy="791.5" r="11"/><circle cx="1734.1" cy="789.1" r="11"/><circle cx="1734.8" cy="793.2" r="11"/><circle cx="1735.5" cy="797.9" r="11"/><circle cx="1736.2" cy="798.4" r="11"/><circle cx="1736.9" cy="796.9" r="11"/><circle cx="1737.5" cy="795.6" r="11"/><circle cx="1738.2" cy="792.4" r="11"/><circle cx="1738.9" cy="797.6" r="11"/><circle cx="1739.6" cy="794.1" r="11"/><circle cx="1740.2" cy="794.2" r="11"/><circle cx="1740.9" cy="793.8" r="11"/><circle cx="1741.6" cy="794.9" r="11"/><circle cx="1742.3" cy="793.7" r="11"/><circle cx="1743" cy="794.7" r="11"/><circle cx="1743.6" cy="792.4" r="11"/><circle cx="1744.3" cy="794.2" r="11"/><circle cx="1745" cy="800.7" r="11"/><circle cx="1745.7" cy="795.2" r="11"/><circle cx="1746.3" cy="794.9" r="11"/><circle cx="1747" cy="796.9" r="11"/><circle cx="1747.7" cy="797.4" r="11"/><circle cx="1748.4" cy="793.1" r="11"/><circle cx="1749.1" cy="795.4" r="11"/><circle cx="1749.7" cy="798.2" r="11"/><circle cx="1750.4" cy="796.8" r="11"/><circle cx="1751.1" cy="796.5" r="11"/><circle cx="1751.8" cy="800.1" r="11"/><circle cx="1752.5" cy="794.8" r="11"/><circle cx="1753.1" cy="796.8" r="11"/><circle cx="1753.8" cy="795.4" r="11"/><circle cx="1754.5" cy="800.3" r="11"/><circle cx="1755.2" cy="792.2" r="11"/><circle cx="1755.8" cy="795.4" r="11"/><circle cx="1756.5" cy="795.8" r="11"/><circle cx="1757.2" cy="798.7" r="11"/><circle cx="1757.9" cy="798.7" r="11"/><circle cx="1758.6" cy="800.7" r="11"/><circle cx="1759.2" cy="793.7" r="11"/><circle cx="1759.9" cy="799.3" r="11"/><circle cx="1760.6" cy="797" r="11"/><circle cx="1761.3" cy="796.2" r="11"/><circle cx="1761.9" cy="799.1" r="11"/><circle cx="1762.6" cy="795.8" r="11"/><circle cx="1763.3" cy="793.1" r="11"/><circle cx="1764" cy="797.2" r="11"/><circle cx="1764.7" cy="794.7" r="11"/><circle cx="1765.3" cy="796.8" r="11"/><circle cx="1766" cy="799.3" r="11"/><circle cx="1766.7" cy="799.2" r="11"/><circle cx="1767.4" cy="802.3" r="11"/><circle cx="1768" cy="798.2" r="11"/><circle cx="1768.7" cy="795.1" r="11"/><circle cx="1769.4" cy="797" r="11"/><circle cx="1770.1" cy="796.7" r="11"/><circle cx="1770.8" cy="796.1" r="11"/><circle cx="1771.4" cy="800.1" r="11"/><circle cx="1772.1" cy="797.6" r="11"/><circle cx="1772.8" cy="794.6" r="11"/><circle cx="1773.5" cy="800.9" r="11"/><circle cx="1774.1" cy="799.1" r="11"/><circle cx="1774.8" cy="800.3" r="11"/><circle cx="1775.5" cy="799.8" r="11"/><circle cx="1776.2" cy="801.1" r="11"/><circle cx="1776.9" cy="799.8" r="11"/><circle cx="1777.5" cy="802.6" r="11"/><circle cx="1778.2" cy="800.8" r="11"/><circle cx="1778.9" cy="800.8" r="11"/><circle cx="1779.6" cy="800.9" r="11"/><circle cx="1780.2" cy="796.7" r="11"/><circle cx="1780.9" cy="799.7" r="11"/><circle cx="1781.6" cy="799.6" r="11"/><circle cx="1782.3" cy="800.8" r="11"/><circle cx="1783" cy="797.2" r="11"/><circle cx="1783.6" cy="804.2" r="11"/><circle cx="1784.3" cy="800.7" r="11"/><circle cx="1785" cy="797.7" r="11"/><circle cx="1785.7" cy="796.6" r="11"/><circle cx="1786.4" cy="800" r="11"/><circle cx="1787" cy="800.5" r="11"/><circle cx="1787.7" cy="799.1" r="11"/><circle cx="1788.4" cy="801.1" r="11"/><circle cx="1789.1" cy="799.4" r="11"/><circle cx="1789.7" cy="802.3" r="11"/><circle cx="1790.4" cy="799.4" r="11"/><circle cx="1791.1" cy="801" r="11"/><circle cx="1791.8" cy="803.5" r="11"/><circle cx="1792.5" cy="807.2" r="11"/><circle cx="1793.1" cy="799" r="11"/><circle cx="1793.8" cy="800.3" r="11"/><circle cx="1794.5" cy="799.5" r="11"/><circle cx="1795.2" cy="803.3" r="11"/><circle cx="1795.8" cy="798.9" r="11"/><circle cx="1796.5" cy="800.5" r="11"/><circle cx="1797.2" cy="801.6" r="11"/><circle cx="1797.9" cy="799.5" r="11"/><circle cx="1798.6" cy="799.6" r="11"/><circle cx="1799.2" cy="800.7" r="11"/><circle cx="1799.9" cy="797" r="11"/><circle cx="1800.6" cy="798.6" r="11"/><circle cx="1801.3" cy="801" r="11"/><circle cx="1801.9" cy="802.4" r="11"/><circle cx="1802.6" cy="801.7" r="11"/><circle cx="1803.3" cy="798.1" r="11"/><circle cx="1804" cy="801.1" r="11"/><circle cx="1804.7" cy="804.1" r="11"/><circle cx="1805.3" cy="803.6" r="11"/><circle cx="1806" cy="802.2" r="11"/><circle cx="1806.7" cy="800.3" r="11"/><circle cx="1807.4" cy="803.9" r="11"/><circle cx="1808" cy="801.2" r="11"/><circle cx="1808.7" cy="799.8" r="11"/><circle cx="1809.4" cy="800.7" r="11"/><circle cx="1810.1" cy="805.9" r="11"/><circle cx="1810.8" cy="803.2" r="11"/><circle cx="1811.4" cy="805.4" r="11"/><circle cx="1812.1" cy="801.7" r="11"/><circle cx="1812.8" cy="805" r="11"/><circle cx="1813.5" cy="801.5" r="11"/><circle cx="1814.1" cy="802.5" r="11"/><circle cx="1814.8" cy="808.6" r="11"/><circle cx="1815.5" cy="804.7" r="11"/><circle cx="1816.2" cy="801.9" r="11"/><circle cx="1816.9" cy="802.9" r="11"/><circle cx="1817.5" cy="803.8" r="11"/><circle cx="1818.2" cy="805.9" r="11"/><circle cx="1818.9" cy="802.1" r="11"/><circle cx="1819.6" cy="799.2" r="11"/><circle cx="1820.3" cy="802.6" r="11"/><circle cx="1820.9" cy="803.3" r="11"/><circle cx="1821.6" cy="803.6" r="11"/><circle cx="1822.3" cy="806.4" r="11"/><circle cx="1823" cy="804.1" r="11"/><circle cx="1823.6" cy="805.3" r="11"/><circle cx="1824.3" cy="801" r="11"/><circle cx="1825" cy="805.5" r="11"/><circle cx="1825.7" cy="808.4" r="11"/><circle cx="1826.4" cy="805.4" r="11"/><circle cx="1827" cy="804.2" r="11"/><circle cx="1827.7" cy="804" r="11"/><circle cx="1828.4" cy="807.8" r="11"/><circle cx="1829.1" cy="801.6" r="11"/><circle cx="1829.7" cy="803.5" r="11"/><circle cx="1830.4" cy="804.9" r="11"/><circle cx="1831.1" cy="805.6" r="11"/><circle cx="1831.8" cy="802.9" r="11"/><circle cx="1832.5" cy="804.6" r="11"/><circle cx="1833.1" cy="803.4" r="11"/><circle cx="1833.8" cy="804.3" r="11"/><circle cx="1834.5" cy="803.8" r="11"/><circle cx="1835.2" cy="801.5" r="11"/><circle cx="1835.8" cy="804.1" r="11"/><circle cx="1836.5" cy="806.2" r="11"/><circle cx="1837.2" cy="802" r="11"/><circle cx="1837.9" cy="803.7" r="11"/><circle cx="1838.6" cy="805.8" r="11"/><circle cx="1839.2" cy="801.9" r="11"/><circle cx="1839.9" cy="804.8" r="11"/><circle cx="1840.6" cy="802" r="11"/><circle cx="1841.3" cy="807" r="11"/><circle cx="1841.9" cy="809.8" r="11"/><circle cx="1842.6" cy="809.1" r="11"/><circle cx="1843.3" cy="804.1" r="11"/><circle cx="1844" cy="806.3" r="11"/><circle cx="1844.7" cy="804.9" r="11"/><circle cx="1845.3" cy="804.9" r="11"/><circle cx="1846" cy="808.3" r="11"/><circle cx="1846.7" cy="801.8" r="11"/><circle cx="1847.4" cy="807.2" r="11"/><circle cx="1848" cy="804.8" r="11"/><circle cx="1848.7" cy="808.1" r="11"/><circle cx="1849.4" cy="805.4" r="11"/><circle cx="1850.1" cy="803.5" r="11"/><circle cx="1850.8" cy="805.7" r="11"/><circle cx="1851.4" cy="806.8" r="11"/><circle cx="1852.1" cy="805.2" r="11"/><circle cx="1852.8" cy="806.3" r="11"/><circle cx="1853.5" cy="804" r="11"/><circle cx="1854.2" cy="800.4" r="11"/><circle cx="1854.8" cy="807.3" r="11"/><circle cx="1855.5" cy="806.9" r="11"/><circle cx="1856.2" cy="805.7" r="11"/><circle cx="1856.9" cy="805.6" r="11"/><circle cx="1857.5" cy="807.8" r="11"/><circle cx="1858.2" cy="804.4" r="11"/><circle cx="1858.9" cy="803.9" r="11"/><circle cx="1859.6" cy="805.1" r="11"/><circle cx="1860.3" cy="808.3" r="11"/><circle cx="1860.9" cy="802.5" r="11"/><circle cx="1861.6" cy="808.3" r="11"/><circle cx="1862.3" cy="804.2" r="11"/><circle cx="1863" cy="803.2" r="11"/><circle cx="1863.6" cy="808.6" r="11"/><circle cx="1864.3" cy="805.6" r="11"/><circle cx="1865" cy="802.9" r="11"/><circle cx="1865.7" cy="805.1" r="11"/><circle cx="1866.4" cy="808" r="11"/><circle cx="1867" cy="808.6" r="11"/><circle cx="1867.7" cy="805" r="11"/><circle cx="1868.4" cy="807" r="11"/><circle cx="1869.1" cy="807.7" r="11"/><circle cx="1869.7" cy="804.7" r="11"/><circle cx="1870.4" cy="807" r="11"/><circle cx="1871.1" cy="806.2" r="11"/><circle cx="1871.8" cy="805.1" r="11"/><circle cx="1872.5" cy="805.2" r="11"/><circle cx="1873.1" cy="806.6" r="11"/><circle cx="1873.8" cy="806.5" r="11"/><circle cx="1874.5" cy="805.3" r="11"/><circle cx="1875.2" cy="805.6" r="11"/><circle cx="1875.8" cy="809.2" r="11"/><circle cx="1876.5" cy="807.2" r="11"/><circle cx="1877.2" cy="808.8" r="11"/><circle cx="1877.9" cy="809.6" r="11"/><circle cx="1878.6" cy="808.3" r="11"/><circle cx="1879.2" cy="812.1" r="11"/><circle cx="1879.9" cy="805.3" r="11"/><circle cx="1880.6" cy="809" r="11"/><circle cx="1881.3" cy="806.6" r="11"/><circle cx="1881.9" cy="811.6" r="11"/><circle cx="1882.6" cy="811.4" r="11"/><circle cx="1883.3" cy="803.4" r="11"/><circle cx="1884" cy="805.8" r="11"/><circle cx="1884.7" cy="809.6" r="11"/><circle cx="1885.3" cy="810" r="11"/><circle cx="1886" cy="810.1" r="11"/><circle cx="1886.7" cy="808.5" r="11"/><circle cx="1887.4" cy="809.9" r="11"/><circle cx="1888.1" cy="810.6" r="11"/><circle cx="1888.7" cy="809.2" r="11"/><circle cx="1889.4" cy="811.9" r="11"/><circle cx="1890.1" cy="804.9" r="11"/><circle cx="1890.8" cy="811.5" r="11"/><circle cx="1891.4" cy="808.1" r="11"/><circle cx="1892.1" cy="812.8" r="11"/><circle cx="1892.8" cy="810.5" r="11"/><circle cx="1893.5" cy="809.3" r="11"/><circle cx="1894.2" cy="812.4" r="11"/><circle cx="1894.8" cy="809.9" r="11"/><circle cx="1895.5" cy="810.3" r="11"/><circle cx="1896.2" cy="809.3" r="11"/><circle cx="1896.9" cy="813.3" r="11"/><circle cx="1897.5" cy="815.1" r="11"/><circle cx="1898.2" cy="817" r="11"/><circle cx="1898.9" cy="815.2" r="11"/><circle cx="1899.6" cy="818.5" r="11"/><circle cx="1900.3" cy="817" r="11"/><circle cx="1900.9" cy="817.4" r="11"/><circle cx="1901.6" cy="819.4" r="11"/><circle cx="1902.3" cy="821" r="11"/><circle cx="1903" cy="818.2" r="11"/>
</g>
<polyline points="1174.5,751.3 1175.5,751.8 1176.5,752.3 1177.5,752.8 1178.5,753.1 1179.5,753.3 1180.5,753.5 1181.5,753.5 1182.5,753.5 1183.5,753.3 1184.5,753.1 1185.5,752.8 1186.5,752.5 1187.5,752 1188.5,751.6 1189.5,751.1 1190.5,750.7 1191.5,750.3 1192.5,749.9 1193.5,749.6 1194.5,749.4 1195.5,749.3 1196.5,749.3 1197.5,749.4 1198.5,749.6 1199.5,749.9 1200.5,750.2 1201.5,750.5 1202.5,750.9 1203.5,751.2 1204.5,751.5 1205.5,751.8 1206.5,751.9 1207.5,751.9 1208.5,751.7 1209.5,751.3 1210.5,748.4 1211.5,747.9 1212.5,747.3 1213.5,746.7 1214.5,746.1 1215.5,745.4 1216.5,744.7 1217.5,743.9 1218.5,743.1 1219.5,742.1 1220.5,741 1221.5,739.8 1222.5,738.5 1223.5,737 1224.5,735.4 1225.5,733.8 1226.5,732 1227.5,730.1 1228.5,728.2 1229.5,726.2 1230.5,724.1 1231.5,722 1232.5,719.8 1233.5,717.6 1234.5,715.4 1235.5,713.1 1236.5,710.6 1237.5,708.2 1238.5,705.6 1239.5,702.9 1240.5,700.1 1241.5,697.2 1242.5,694.2 1243.5,691.1 1244.5,687.8 1245.5,684.5 1246.5,680.9 1247.5,677.3 1248.5,673.5 1249.5,669.6 1250.5,665.5 1251.5,661.3 1252.5,656.9 1253.5,652.3 1254.5,647.6 1255.5,642.7 1256.5,637.6 1257.5,632.2 1258.5,625.9 1259.5,618.7 1260.5,610.8 1261.5,602.2 1262.5,593.2 1263.5,583.9 1264.5,574 1265.5,563.1 1266.5,551.2 1267.5,538.9 1268.5,526.2 1269.5,513.5 1270.5,501.2 1271.5,489.1 1272.5,477 1273.5,464.7 1274.5,452.5 1275.5,440.2 1276.5,427.9 1277.5,415.6 1278.5,403.3 1279.5,391.2 1280.5,379.1 1281.5,367.1 1282.5,355.3 1283.5,343.6 1284.5,331.6 1285.5,319.5 1286.5,307.4 1287.5,295.4 1288.5,283.6 1289.5,272.1 1290.5,261 1291.5,250.4 1292.5,240.3 1293.5,230.9 1294.5,222 1295.5,213.4 1296.5,205 1297.5,196.9 1298.5,189 1299.5,181.5 1300.5,174.3 1301.5,167.5 1302.5,161 1303.5,155 1304.5,149.5 1305.5,144.1 1306.5,138.7 1307.5,133.6 1308.5,128.7 1309.5,124.2 1310.5,120.2 1311.5,116.8 1312.5,114.1 1313.5,112 1314.5,110.1 1315.5,108.4 1316.5,106.8 1317.5,105.5 1318.5,104.6 1319.5,104.1 1320.5,104.1 1321.5,104.6 1322.5,105.6 1323.5,107.1 1324.5,108.8 1325.5,110.9 1326.5,113.5 1327.5,118.7 1328.5,125.9 1329.5,134.3 1330.5,142.8 1331.5,150.7 1332.5,158.1 1333.5,165.6 1334.5,173 1335.5,180.6 1336.5,188.3 1337.5,196.1 1338.5,204.2 1339.5,212.5 1340.5,221.1 1341.5,230 1342.5,239.4 1343.5,249.4 1344.5,259.9 1345.5,270.8 1346.5,281.9 1347.5,293.2 1348.5,304.6 1349.5,315.8 1350.5,326.9 1351.5,337.7 1352.5,348 1353.5,357.9 1354.5,367.6 1355.5,377.1 1356.5,386.5 1357.5,395.8 1358.5,404.9 1359.5,414 1360.5,422.9 1361.5,431.8 1362.5,440.7 1363.5,449.4 1364.5,458.2 1365.5,466.9 1366.5,475.6 1367.5,484.3 1368.5,493 1369.5,501.8 1370.5,510.7 1371.5,519.9 1372.5,529.2 1373.5,538.4 1374.5,547.4 1375.5,556.1 1376.5,564.4 1377.5,572.1 1378.5,579.1 1379.5,585.3 1380.5,591.3 1381.5,596.9 1382.5,602.2 1383.5,607.2 1384.5,612.1 1385.5,616.8 1386.5,621.4 1387.5,625.8 1388.5,630.2 1389.5,634.6 1390.5,638.9 1391.5,643.2 1392.5,647.5 1393.5,651.7 1394.5,655.9 1395.5,660 1396.5,664.1 1397.5,668.1 1398.5,672 1399.5,675.9 1400.5,679.8 1401.5,683.5 1402.5,687.2 1403.5,690.9 1404.5,694.4 1405.5,697.9 1406.5,701.3 1407.5,704.6 1408.5,707.9 1409.5,711 1410.5,714.1 1411.5,717.1 1412.5,720 1413.5,722.8 1414.5,725.6 1415.5,728.3 1416.5,730.9 1417.5,733.4 1418.5,735.9 1419.5,738.2 1420.5,740.4 1421.5,742.5 1422.5,744.5 1423.5,746.4 1424.5,748.2 1425.5,750.2 1426.5,752.4 1427.5,754.4 1428.5,756.3 1429.5,758 1430.5,759.4 1431.5,760.7 1432.5,761.8 1433.5,762.8 1434.5,763.8 1435.5,764.8 1436.5,765.8 1437.5,766.9 1438.5,768.1 1439.5,769.5 1440.5,771.1 1441.5,772.7 1442.5,774.5 1443.5,776.3 1444.5,778.1 1445.5,779.9 1446.5,781.6 1447.5,783.1 1448.5,784.4 1449.5,785.5 1450.5,786.5 1451.5,787.3" fill="none" stroke="#f00" stroke-width="6" stroke-linejoin="round"/>
<line x1="1631.3" y1="115" x2="1690" y2="826" stroke="#f00" stroke-width="6"/>
<line x1="1668.4" y1="809.3" x2="1910" y2="809.3" stroke="#f00" stroke-width="6"/>
<line x1="1319.6" y1="109.4" x2="1319.6" y2="772" stroke="#00f" stroke-width="6.5" stroke-dasharray="21.4 28.8" stroke-dashoffset="0"/>
<line x1="1693.6" y1="108.2" x2="1693.6" y2="826" stroke="#00f" stroke-width="6.5" stroke-dasharray="21.4 28.8" stroke-dashoffset="0"/>
<rect x="1100.7" y="19" width="835.8" height="809.2" fill="none" stroke="#000" stroke-width="6"/>
<path d="M1503 843.2 L1519 813.2 L1534 813.2 L1518 843.2 z" fill="#fff"/>
<line x1="1503" y1="843.2" x2="1519" y2="813.2" stroke="#000" stroke-width="6"/>
<line x1="1518" y1="843.2" x2="1534" y2="813.2" stroke="#000" stroke-width="6"/>
<path d="M1503 34 L1519 4 L1534 4 L1518 34 z" fill="#fff"/>
<line x1="1503" y1="34" x2="1519" y2="4" stroke="#000" stroke-width="6"/>
<line x1="1518" y1="34" x2="1534" y2="4" stroke="#000" stroke-width="6"/>
<line x1="1336" y1="353.5" x2="1676.3" y2="353.5" stroke="#000" stroke-width="5.7"/>
<path d="M1320.6 353.5 l22 -11 l0 22 z M1691.7 353.5 l-22 -11 l0 22 z" fill="#000"/>
<text class="se" x="1112" y="79.8" font-size="44" textLength="58" lengthAdjust="spacingAndGlyphs">(b)</text>
<text class="se" x="1778.8" y="81.2" font-size="42" textLength="52.7" lengthAdjust="spacingAndGlyphs">Ga</text>
<text class="se" x="1834.3" y="101.5" font-size="25.5">2</text>
<text class="se" x="1849" y="81.2" font-size="42" textLength="33" lengthAdjust="spacingAndGlyphs">O</text>
<text class="se" x="1883.8" y="101.5" font-size="25.5">3</text>
<text class="se" x="1414" y="324" font-size="39.5" textLength="149.7" lengthAdjust="spacingAndGlyphs">17.02 eV</text>
<text class="se" x="1387" y="414" font-size="47">E</text>
<text class="se" x="1418.8" y="431.5" font-size="27.5" textLength="72.2" lengthAdjust="spacingAndGlyphs">Ga 3d</text>
<text class="se" x="1496" y="414" font-size="47">-</text>
<text class="se" x="1524.5" y="414" font-size="47">E</text>
<text class="se" x="1555.6" y="430.8" font-size="27.5" textLength="69" lengthAdjust="spacingAndGlyphs">VBM</text>
<text class="se" x="1099.6" y="889" font-size="55" text-anchor="middle">24</text>
<text class="se" x="1217.5" y="889" font-size="55" text-anchor="middle">22</text>
<text class="se" x="1335" y="889" font-size="55" text-anchor="middle">20</text>
<text class="se" x="1452.4" y="889" font-size="55" text-anchor="middle">18</text>
<text class="se" x="1594" y="889" font-size="55" text-anchor="middle">6</text>
<text class="se" x="1695.5" y="889" font-size="55" text-anchor="middle">3</text>
<text class="se" x="1797.7" y="889" font-size="55" text-anchor="middle">0</text>
<text class="se" x="1900.5" y="889" font-size="55" text-anchor="middle">-3</text>
<text class="sa" x="1238.2" y="960" font-size="54.5" textLength="559.7" lengthAdjust="spacingAndGlyphs">Binding Energy (eV)</text>
<text class="sa" x="0" y="0" font-size="60" textLength="398.7" lengthAdjust="spacingAndGlyphs" transform="translate(1056.9 616) rotate(-90)">Intensity (a.u.)</text>
<defs>
<clipPath id="cm1"><rect x="90" y="1120" width="418.6" height="414.8"/></clipPath>
<clipPath id="cg1"><rect x="522.6" y="1120" width="419.8" height="414.8"/></clipPath>
<clipPath id="cm2"><rect x="90" y="1534.8" width="418.6" height="416"/></clipPath>
<clipPath id="cg2"><rect x="522.6" y="1534.8" width="419.8" height="416"/></clipPath>
</defs>
<g fill="#fff" stroke="#000" stroke-width="2.3" clip-path="url(#cm1)">
<circle cx="141.6" cy="1487.4" r="11.4" stroke-width="3.25"/><circle cx="144.2" cy="1487.2" r="11.4" stroke-width="3.25"/><circle cx="146.8" cy="1487.4" r="11.4" stroke-width="3.25"/><circle cx="149.5" cy="1487.1" r="11.4" stroke-width="3.25"/><circle cx="152.1" cy="1487.8" r="11.4" stroke-width="3.25"/><circle cx="154.7" cy="1486.7" r="11.4" stroke-width="3.25"/><circle cx="157.3" cy="1487.3" r="11.4" stroke-width="3.25"/><circle cx="159.9" cy="1486.3" r="11.4" stroke-width="3.25"/><circle cx="162.6" cy="1486.9" r="11.4" stroke-width="3.25"/><circle cx="165.2" cy="1486.4" r="11.4" stroke-width="3.25"/><circle cx="167.8" cy="1485.1" r="11.4" stroke-width="3.25"/><circle cx="170.4" cy="1485.9" r="11.4" stroke-width="3.25"/><circle cx="173" cy="1485.1" r="11.4" stroke-width="3.25"/><circle cx="175.7" cy="1485" r="11.4" stroke-width="3.25"/><circle cx="178.3" cy="1485.3" r="11.4" stroke-width="3.25"/><circle cx="180.9" cy="1483.6" r="11.4" stroke-width="3.25"/><circle cx="183.5" cy="1482.8" r="11.4" stroke-width="3.25"/><circle cx="186.1" cy="1482.8" r="11.4" stroke-width="3.25"/><circle cx="188.8" cy="1481" r="11.4" stroke-width="3.25"/><circle cx="191.4" cy="1480" r="11.4" stroke-width="3.25"/><circle cx="194" cy="1477.4" r="11.4" stroke-width="3"/><circle cx="196.6" cy="1474.3" r="11.4" stroke-width="3"/><circle cx="199.2" cy="1471.4" r="11.4" stroke-width="3"/><circle cx="201.9" cy="1468" r="11.4" stroke-width="2.75"/><circle cx="204.5" cy="1463" r="11.4" stroke-width="2.5"/><circle cx="207.1" cy="1456.8" r="11.4" stroke-width="2.25"/><circle cx="209.7" cy="1449.9" r="11.4" stroke-width="2.25"/><circle cx="212.3" cy="1441.7" r="11.4" stroke-width="2.25"/><circle cx="215" cy="1432.3" r="11.4" stroke-width="2.25"/><circle cx="217.6" cy="1422.9" r="11.4" stroke-width="2.25"/><circle cx="220.2" cy="1410.6" r="11.4" stroke-width="2.25"/><circle cx="222.8" cy="1397.7" r="11.4" stroke-width="2.25"/><circle cx="225.4" cy="1384.8" r="11.4" stroke-width="2.25"/><circle cx="228.1" cy="1371.7" r="11.4" stroke-width="2.25"/><circle cx="230.7" cy="1358.1" r="11.4" stroke-width="2.25"/><circle cx="233.3" cy="1344.7" r="11.4" stroke-width="2.25"/><circle cx="235.9" cy="1332.4" r="11.4" stroke-width="2.25"/><circle cx="238.5" cy="1322.2" r="11.4" stroke-width="2.25"/><circle cx="241.2" cy="1313.3" r="11.4" stroke-width="2.25"/><circle cx="243.8" cy="1308" r="11.4" stroke-width="3.25"/><circle cx="246.4" cy="1306.7" r="11.4" stroke-width="3.25"/><circle cx="249" cy="1307.4" r="11.4" stroke-width="3.25"/><circle cx="251.6" cy="1312.3" r="11.4" stroke-width="2.5"/><circle cx="254.3" cy="1320.2" r="11.4" stroke-width="2.25"/><circle cx="256.9" cy="1329.9" r="11.4" stroke-width="2.25"/><circle cx="259.5" cy="1341.4" r="11.4" stroke-width="2.25"/><circle cx="262.1" cy="1355.2" r="11.4" stroke-width="2.25"/><circle cx="264.7" cy="1368.1" r="11.4" stroke-width="2.25"/><circle cx="267.4" cy="1381.4" r="11.4" stroke-width="2.25"/><circle cx="270" cy="1395.3" r="11.4" stroke-width="2.25"/><circle cx="272.6" cy="1407.9" r="11.4" stroke-width="2.25"/><circle cx="275.2" cy="1419.3" r="11.4" stroke-width="2.25"/><circle cx="277.8" cy="1430.5" r="11.4" stroke-width="2.25"/><circle cx="280.5" cy="1440.1" r="11.4" stroke-width="2.25"/><circle cx="283.1" cy="1447.8" r="11.4" stroke-width="2.25"/><circle cx="285.7" cy="1455.9" r="11.4" stroke-width="2.25"/><circle cx="288.3" cy="1462.1" r="11.4" stroke-width="2.25"/><circle cx="290.9" cy="1467.2" r="11.4" stroke-width="2.75"/><circle cx="293.6" cy="1471" r="11.4" stroke-width="2.75"/><circle cx="296.2" cy="1475" r="11.4" stroke-width="3"/><circle cx="298.8" cy="1478" r="11.4" stroke-width="3"/><circle cx="301.4" cy="1480.2" r="11.4" stroke-width="3.25"/><circle cx="304" cy="1481.5" r="11.4" stroke-width="3.25"/><circle cx="306.7" cy="1483.6" r="11.4" stroke-width="3.25"/><circle cx="309.3" cy="1483.9" r="11.4" stroke-width="3.25"/><circle cx="311.9" cy="1485.2" r="11.4" stroke-width="3.25"/><circle cx="314.5" cy="1486.4" r="11.4" stroke-width="3.25"/><circle cx="317.1" cy="1486.1" r="11.4" stroke-width="3.25"/><circle cx="319.8" cy="1486.5" r="11.4" stroke-width="3.25"/><circle cx="322.4" cy="1487.5" r="11.4" stroke-width="3.25"/><circle cx="325" cy="1487.1" r="11.4" stroke-width="3.25"/><circle cx="327.6" cy="1487.2" r="11.4" stroke-width="3.25"/><circle cx="330.2" cy="1487.5" r="11.4" stroke-width="3.25"/><circle cx="332.9" cy="1487.8" r="11.4" stroke-width="3.25"/><circle cx="335.5" cy="1486.4" r="11.4" stroke-width="3.25"/><circle cx="338.1" cy="1486.8" r="11.4" stroke-width="3.25"/><circle cx="340.7" cy="1486.6" r="11.4" stroke-width="3.25"/><circle cx="343.3" cy="1486.3" r="11.4" stroke-width="3.25"/><circle cx="346" cy="1486" r="11.4" stroke-width="3.25"/><circle cx="348.6" cy="1485.6" r="11.4" stroke-width="3.25"/><circle cx="351.2" cy="1485.4" r="11.4" stroke-width="3.25"/><circle cx="353.8" cy="1484.2" r="11.4" stroke-width="3.25"/><circle cx="356.4" cy="1483.6" r="11.4" stroke-width="3.25"/><circle cx="359.1" cy="1482.4" r="11.4" stroke-width="3.25"/><circle cx="361.7" cy="1480.1" r="11.4" stroke-width="3"/><circle cx="364.3" cy="1478" r="11.4" stroke-width="3"/><circle cx="366.9" cy="1475.4" r="11.4" stroke-width="3"/><circle cx="369.5" cy="1470.4" r="11.4" stroke-width="2.5"/><circle cx="372.2" cy="1464" r="11.4" stroke-width="2.25"/><circle cx="374.8" cy="1456.4" r="11.4" stroke-width="2.25"/><circle cx="377.4" cy="1445.9" r="11.4" stroke-width="2.25"/><circle cx="380" cy="1433.5" r="11.4" stroke-width="2.25"/><circle cx="382.6" cy="1417.8" r="11.4" stroke-width="2.25"/><circle cx="385.3" cy="1397.8" r="11.4" stroke-width="2.25"/><circle cx="387.9" cy="1375.4" r="11.4" stroke-width="2.25"/><circle cx="390.5" cy="1350.1" r="11.4" stroke-width="2.25"/><circle cx="393.1" cy="1320.8" r="11.4" stroke-width="2.25"/><circle cx="395.7" cy="1290.6" r="11.4" stroke-width="2.25"/><circle cx="398.4" cy="1258.9" r="11.4" stroke-width="2.25"/><circle cx="401" cy="1228.8" r="11.4" stroke-width="2.25"/><circle cx="403.6" cy="1201.5" r="11.4" stroke-width="2.25"/><circle cx="406.2" cy="1180.2" r="11.4" stroke-width="2.25"/><circle cx="408.8" cy="1164.1" r="11.4" stroke-width="2.25"/><circle cx="411.5" cy="1158" r="11.4" stroke-width="2.75"/><circle cx="414.1" cy="1161.7" r="11.4" stroke-width="2.75"/><circle cx="416.7" cy="1174.8" r="11.4" stroke-width="2.25"/><circle cx="419.3" cy="1195.9" r="11.4" stroke-width="2.25"/><circle cx="421.9" cy="1222.1" r="11.4" stroke-width="2.25"/><circle cx="424.6" cy="1252.7" r="11.4" stroke-width="2.25"/><circle cx="427.2" cy="1283.1" r="11.4" stroke-width="2.25"/><circle cx="429.8" cy="1314.5" r="11.4" stroke-width="2.25"/><circle cx="432.4" cy="1343.3" r="11.4" stroke-width="2.25"/><circle cx="435" cy="1370.1" r="11.4" stroke-width="2.25"/><circle cx="437.7" cy="1392.9" r="11.4" stroke-width="2.25"/><circle cx="440.3" cy="1413.6" r="11.4" stroke-width="2.25"/><circle cx="442.9" cy="1430.5" r="11.4" stroke-width="2.25"/><circle cx="445.5" cy="1444" r="11.4" stroke-width="2.25"/><circle cx="448.1" cy="1454.1" r="11.4" stroke-width="2.25"/><circle cx="450.8" cy="1463.6" r="11.4" stroke-width="2.25"/><circle cx="453.4" cy="1469.5" r="11.4" stroke-width="2.5"/><circle cx="456" cy="1474.1" r="11.4" stroke-width="2.75"/><circle cx="458.6" cy="1477.6" r="11.4" stroke-width="3"/><circle cx="461.2" cy="1480.1" r="11.4" stroke-width="3"/><circle cx="463.9" cy="1482.1" r="11.4" stroke-width="3.25"/><circle cx="466.5" cy="1482.7" r="11.4" stroke-width="3.25"/><circle cx="469.1" cy="1483.7" r="11.4" stroke-width="3.25"/><circle cx="471.7" cy="1484.7" r="11.4" stroke-width="3.25"/><circle cx="474.3" cy="1484.9" r="11.4" stroke-width="3.25"/><circle cx="477" cy="1484.8" r="11.4" stroke-width="3.25"/><circle cx="479.6" cy="1484.7" r="11.4" stroke-width="3.25"/><circle cx="482.2" cy="1484.5" r="11.4" stroke-width="3.25"/><circle cx="484.8" cy="1484.6" r="11.4" stroke-width="3.25"/><circle cx="487.4" cy="1484.7" r="11.4" stroke-width="3.25"/><circle cx="490.1" cy="1483.4" r="11.4" stroke-width="3.25"/><circle cx="492.7" cy="1483.9" r="11.4" stroke-width="3.25"/><circle cx="495.3" cy="1483" r="11.4" stroke-width="3.25"/><circle cx="497.9" cy="1481.8" r="11.4" stroke-width="3.25"/><circle cx="500.5" cy="1481.6" r="11.4" stroke-width="3.25"/><circle cx="503.2" cy="1479.9" r="11.4" stroke-width="3.25"/><circle cx="505.8" cy="1479" r="11.4" stroke-width="3.25"/><circle cx="508.4" cy="1478.3" r="11.4" stroke-width="3.25"/><circle cx="511" cy="1477.7" r="11.4" stroke-width="3.25"/><circle cx="513.6" cy="1476.8" r="11.4" stroke-width="3.25"/><circle cx="516.3" cy="1475.7" r="11.4" stroke-width="3.25"/><circle cx="518.9" cy="1474.9" r="11.4" stroke-width="3.25"/><circle cx="521.5" cy="1473" r="11.4" stroke-width="3.25"/><circle cx="524.1" cy="1473.1" r="11.4" stroke-width="3.25"/>
</g>
<g fill="#fff" stroke="#000" stroke-width="2.3" clip-path="url(#cg1)">
<rect x="501.4" y="1469.3" width="18.5" height="18.5" stroke-width="3.25"/><rect x="504.4" y="1470.4" width="18.5" height="18.5" stroke-width="3.25"/><rect x="507.4" y="1471.4" width="18.5" height="18.5" stroke-width="3.25"/><rect x="510.4" y="1472" width="18.5" height="18.5" stroke-width="3.25"/><rect x="513.4" y="1472.8" width="18.5" height="18.5" stroke-width="3.25"/><rect x="516.4" y="1473.8" width="18.5" height="18.5" stroke-width="3.25"/><rect x="519.4" y="1475.1" width="18.5" height="18.5" stroke-width="3.25"/><rect x="522.4" y="1476.2" width="18.5" height="18.5" stroke-width="3.25"/><rect x="525.3" y="1477" width="18.5" height="18.5" stroke-width="3.25"/><rect x="528.3" y="1477.1" width="18.5" height="18.5" stroke-width="3.25"/><rect x="531.3" y="1477.9" width="18.5" height="18.5" stroke-width="3.25"/><rect x="534.3" y="1478.5" width="18.5" height="18.5" stroke-width="3.25"/><rect x="537.3" y="1479.6" width="18.5" height="18.5" stroke-width="3.25"/><rect x="540.3" y="1479.2" width="18.5" height="18.5" stroke-width="3.25"/><rect x="543.3" y="1480.9" width="18.5" height="18.5" stroke-width="3.25"/><rect x="546.3" y="1480.6" width="18.5" height="18.5" stroke-width="3.25"/><rect x="549.3" y="1480.8" width="18.5" height="18.5" stroke-width="3.25"/><rect x="552.3" y="1481.5" width="18.5" height="18.5" stroke-width="3.25"/><rect x="555.3" y="1482" width="18.5" height="18.5" stroke-width="3.25"/><rect x="558.3" y="1481.9" width="18.5" height="18.5" stroke-width="3.25"/><rect x="561.3" y="1482.2" width="18.5" height="18.5" stroke-width="3.25"/><rect x="564.2" y="1481.8" width="18.5" height="18.5" stroke-width="3.25"/><rect x="567.2" y="1482.2" width="18.5" height="18.5" stroke-width="3.25"/><rect x="570.2" y="1482.1" width="18.5" height="18.5" stroke-width="3.25"/><rect x="573.2" y="1481.3" width="18.5" height="18.5" stroke-width="3.25"/><rect x="576.2" y="1481.7" width="18.5" height="18.5" stroke-width="3.25"/><rect x="579.2" y="1480.8" width="18.5" height="18.5" stroke-width="3.25"/><rect x="582.2" y="1480.4" width="18.5" height="18.5" stroke-width="3.25"/><rect x="585.2" y="1479.6" width="18.5" height="18.5" stroke-width="3.25"/><rect x="588.2" y="1479.3" width="18.5" height="18.5" stroke-width="3.25"/><rect x="591.2" y="1479.1" width="18.5" height="18.5" stroke-width="3.25"/><rect x="594.2" y="1477.7" width="18.5" height="18.5" stroke-width="3.25"/><rect x="597.2" y="1477.7" width="18.5" height="18.5" stroke-width="3.25"/><rect x="600.2" y="1476.8" width="18.5" height="18.5" stroke-width="3.25"/><rect x="603.2" y="1475.9" width="18.5" height="18.5" stroke-width="3.25"/><rect x="606.1" y="1473.9" width="18.5" height="18.5" stroke-width="3.25"/><rect x="609.1" y="1473.7" width="18.5" height="18.5" stroke-width="3.25"/><rect x="612.1" y="1472.8" width="18.5" height="18.5" stroke-width="3.25"/><rect x="615.1" y="1470.9" width="18.5" height="18.5" stroke-width="3.25"/><rect x="618.1" y="1469.7" width="18.5" height="18.5" stroke-width="3.25"/><rect x="621.1" y="1467.1" width="18.5" height="18.5" stroke-width="3.25"/><rect x="624.1" y="1466.4" width="18.5" height="18.5" stroke-width="3.25"/><rect x="627.1" y="1463.8" width="18.5" height="18.5" stroke-width="3.25"/><rect x="630.1" y="1462.1" width="18.5" height="18.5" stroke-width="3.25"/><rect x="633.1" y="1458.3" width="18.5" height="18.5" stroke-width="3"/><rect x="636.1" y="1456.3" width="18.5" height="18.5" stroke-width="3"/><rect x="639.1" y="1452.5" width="18.5" height="18.5" stroke-width="2.75"/><rect x="642.1" y="1449" width="18.5" height="18.5" stroke-width="2.75"/><rect x="645" y="1443.8" width="18.5" height="18.5" stroke-width="2.25"/><rect x="648" y="1438.8" width="18.5" height="18.5" stroke-width="2.5"/><rect x="651" y="1434" width="18.5" height="18.5" stroke-width="2.5"/><rect x="654" y="1426.1" width="18.5" height="18.5" stroke-width="2.25"/><rect x="657" y="1418.6" width="18.5" height="18.5" stroke-width="2.25"/><rect x="660" y="1410.2" width="18.5" height="18.5" stroke-width="2.25"/><rect x="663" y="1400.3" width="18.5" height="18.5" stroke-width="2.25"/><rect x="666" y="1390.4" width="18.5" height="18.5" stroke-width="2.25"/><rect x="669" y="1378.6" width="18.5" height="18.5" stroke-width="2.25"/><rect x="672" y="1364.4" width="18.5" height="18.5" stroke-width="2.25"/><rect x="675" y="1349.4" width="18.5" height="18.5" stroke-width="2.25"/><rect x="678" y="1334.8" width="18.5" height="18.5" stroke-width="2.25"/><rect x="681" y="1317.6" width="18.5" height="18.5" stroke-width="2.25"/><rect x="683.9" y="1299.3" width="18.5" height="18.5" stroke-width="2.25"/><rect x="686.9" y="1280.3" width="18.5" height="18.5" stroke-width="2.25"/><rect x="689.9" y="1259.6" width="18.5" height="18.5" stroke-width="2.25"/><rect x="692.9" y="1239.7" width="18.5" height="18.5" stroke-width="2.25"/><rect x="695.9" y="1219.3" width="18.5" height="18.5" stroke-width="2.25"/><rect x="698.9" y="1200.2" width="18.5" height="18.5" stroke-width="2.25"/><rect x="701.9" y="1183.7" width="18.5" height="18.5" stroke-width="2.25"/><rect x="704.9" y="1168.1" width="18.5" height="18.5" stroke-width="2.25"/><rect x="707.9" y="1157.9" width="18.5" height="18.5" stroke-width="2.25"/><rect x="710.9" y="1149.7" width="18.5" height="18.5" stroke-width="3"/><rect x="713.9" y="1146.9" width="18.5" height="18.5" stroke-width="3"/><rect x="716.9" y="1150" width="18.5" height="18.5" stroke-width="3"/><rect x="719.9" y="1157.6" width="18.5" height="18.5" stroke-width="2.25"/><rect x="722.9" y="1168.5" width="18.5" height="18.5" stroke-width="2.25"/><rect x="725.8" y="1182.8" width="18.5" height="18.5" stroke-width="2.25"/><rect x="728.8" y="1201" width="18.5" height="18.5" stroke-width="2.25"/><rect x="731.8" y="1220.6" width="18.5" height="18.5" stroke-width="2.25"/><rect x="734.8" y="1240" width="18.5" height="18.5" stroke-width="2.25"/><rect x="737.8" y="1260.3" width="18.5" height="18.5" stroke-width="2.25"/><rect x="740.8" y="1281.1" width="18.5" height="18.5" stroke-width="2.25"/><rect x="743.8" y="1300.2" width="18.5" height="18.5" stroke-width="2.25"/><rect x="746.8" y="1318.1" width="18.5" height="18.5" stroke-width="2.25"/><rect x="749.8" y="1335.8" width="18.5" height="18.5" stroke-width="2.25"/><rect x="752.8" y="1351.8" width="18.5" height="18.5" stroke-width="2.25"/><rect x="755.8" y="1367" width="18.5" height="18.5" stroke-width="2.25"/><rect x="758.8" y="1380.5" width="18.5" height="18.5" stroke-width="2.25"/><rect x="761.8" y="1393.2" width="18.5" height="18.5" stroke-width="2.25"/><rect x="764.7" y="1404" width="18.5" height="18.5" stroke-width="2.25"/><rect x="767.7" y="1413" width="18.5" height="18.5" stroke-width="2.25"/><rect x="770.7" y="1422.6" width="18.5" height="18.5" stroke-width="2.25"/><rect x="773.7" y="1430.7" width="18.5" height="18.5" stroke-width="2.25"/><rect x="776.7" y="1437.4" width="18.5" height="18.5" stroke-width="2.25"/><rect x="779.7" y="1443.7" width="18.5" height="18.5" stroke-width="2.5"/><rect x="782.7" y="1448.5" width="18.5" height="18.5" stroke-width="2.5"/><rect x="785.7" y="1453.1" width="18.5" height="18.5" stroke-width="2.5"/><rect x="788.7" y="1458" width="18.5" height="18.5" stroke-width="3"/><rect x="791.7" y="1460.9" width="18.5" height="18.5" stroke-width="3"/><rect x="794.7" y="1463.7" width="18.5" height="18.5" stroke-width="3"/><rect x="797.7" y="1467.9" width="18.5" height="18.5" stroke-width="3"/><rect x="800.7" y="1469.8" width="18.5" height="18.5" stroke-width="3"/><rect x="803.6" y="1472.3" width="18.5" height="18.5" stroke-width="3.25"/><rect x="806.6" y="1473.9" width="18.5" height="18.5" stroke-width="3.25"/><rect x="809.6" y="1475.8" width="18.5" height="18.5" stroke-width="3.25"/><rect x="812.6" y="1477.6" width="18.5" height="18.5" stroke-width="3.25"/><rect x="815.6" y="1479.5" width="18.5" height="18.5" stroke-width="3.25"/><rect x="818.6" y="1481.2" width="18.5" height="18.5" stroke-width="3.25"/><rect x="821.6" y="1481.5" width="18.5" height="18.5" stroke-width="3.25"/><rect x="824.6" y="1483.9" width="18.5" height="18.5" stroke-width="3.25"/><rect x="827.6" y="1484.3" width="18.5" height="18.5" stroke-width="3.25"/><rect x="830.6" y="1485.4" width="18.5" height="18.5" stroke-width="3.25"/><rect x="833.6" y="1487.1" width="18.5" height="18.5" stroke-width="3.25"/><rect x="836.6" y="1487.8" width="18.5" height="18.5" stroke-width="3.25"/><rect x="839.6" y="1488.1" width="18.5" height="18.5" stroke-width="3.25"/><rect x="842.6" y="1490.3" width="18.5" height="18.5" stroke-width="3.25"/><rect x="845.5" y="1490" width="18.5" height="18.5" stroke-width="3.25"/><rect x="848.5" y="1491.2" width="18.5" height="18.5" stroke-width="3.25"/><rect x="851.5" y="1491.8" width="18.5" height="18.5" stroke-width="3.25"/><rect x="854.5" y="1493" width="18.5" height="18.5" stroke-width="3.25"/><rect x="857.5" y="1492.9" width="18.5" height="18.5" stroke-width="3.25"/><rect x="860.5" y="1494.1" width="18.5" height="18.5" stroke-width="3.25"/><rect x="863.5" y="1494" width="18.5" height="18.5" stroke-width="3.25"/><rect x="866.5" y="1495.3" width="18.5" height="18.5" stroke-width="3.25"/><rect x="869.5" y="1495" width="18.5" height="18.5" stroke-width="3.25"/><rect x="872.5" y="1495.7" width="18.5" height="18.5" stroke-width="3.25"/><rect x="875.5" y="1497.1" width="18.5" height="18.5" stroke-width="3.25"/><rect x="878.5" y="1496.9" width="18.5" height="18.5" stroke-width="3.25"/><rect x="881.5" y="1497.3" width="18.5" height="18.5" stroke-width="3.25"/><rect x="884.4" y="1498.6" width="18.5" height="18.5" stroke-width="3.25"/><rect x="887.4" y="1498.3" width="18.5" height="18.5" stroke-width="3.25"/><rect x="890.4" y="1498.2" width="18.5" height="18.5" stroke-width="3.25"/><rect x="893.4" y="1499.2" width="18.5" height="18.5" stroke-width="3.25"/><rect x="896.4" y="1498.8" width="18.5" height="18.5" stroke-width="3.25"/><rect x="899.4" y="1500.1" width="18.5" height="18.5" stroke-width="3.25"/><rect x="902.4" y="1500.5" width="18.5" height="18.5" stroke-width="3.25"/>
</g>
<line x1="411.8" y1="1122.6" x2="411.8" y2="1534.8" stroke="#00f" stroke-width="6.5" stroke-dasharray="21.5 28.2" stroke-dashoffset="0"/>
<line x1="723.2" y1="1122.6" x2="723.2" y2="1534.8" stroke="#00f" stroke-width="6.5" stroke-dasharray="21.5 28.2" stroke-dashoffset="0"/>
<polyline points="142,1488 143,1488 144,1488 145,1488 146,1488 147,1487.9 148,1487.9 149,1487.9 150,1487.9 151,1487.9 152,1487.8 153,1487.8 154,1487.8 155,1487.7 156,1487.7 157,1487.7 158,1487.6 159,1487.6 160,1487.6 161,1487.5 162,1487.5 163,1487.4 164,1487.4 165,1487.3 166,1487.2 167,1487.2 168,1487.1 169,1487 170,1487 171,1486.9 172,1486.8 173,1486.7 174,1486.6 175,1486.5 176,1486.4 177,1486.3 178,1486.1 179,1486 180,1485.9 181,1485.7 182,1485.5 183,1485.3 184,1485.1 185,1484.8 186,1484.6 187,1484.3 188,1484 189,1483.6 190,1483.3 191,1482.8 192,1482.4 193,1481.8 194,1481.3 195,1480.6 196,1479.9 197,1479.2 198,1478.3 199,1477.4 200,1476.3 201,1475.2 202,1473.9 203,1472.6 204,1471.1 205,1469.4 206,1467.6 207,1465.7 208,1463.6 209,1461.3 210,1458.9 211,1456.2 212,1453.4 213,1450.4 214,1447.1 215,1443.7 216,1440.1 217,1436.2 218,1432.1 219,1427.9 220,1423.4 221,1418.7 222,1413.9 223,1408.9 224,1403.7 225,1398.4 226,1392.9 227,1387.4 228,1381.7 229,1376 230,1370.3 231,1364.6 232,1358.9 233,1353.3 234,1347.8 235,1342.5 236,1337.3 237,1332.4 238,1327.8 239,1323.6 240,1319.7 241,1316.3 242,1313.3 243,1310.8 244,1308.9 245,1307.5 246,1306.8 247,1306.6 248,1307 249,1308.1 250,1309.7 251,1311.9 252,1314.6 253,1317.8 254,1321.5 255,1325.6 256,1330 257,1334.8 258,1339.8 259,1345.1 260,1350.5 261,1356.1 262,1361.8 263,1367.5 264,1373.3 265,1379 266,1384.7 267,1390.4 268,1395.9 269,1401.4 270,1406.7 271,1411.8 272,1416.8 273,1421.6 274,1426.3 275,1430.7 276,1434.9 277,1438.9 278,1442.7 279,1446.3 280,1449.7 281,1452.9 282,1455.9 283,1458.7 284,1461.3 285,1463.7 286,1465.9 287,1468 288,1469.9 289,1471.6 290,1473.2 291,1474.7 292,1476.1 293,1477.3 294,1478.4 295,1479.4 296,1480.4 297,1481.2 298,1482 299,1482.7 300,1483.3 301,1483.9 302,1484.4 303,1484.9 304,1485.3 305,1485.7 306,1486 307,1486.3 308,1486.6 309,1486.9 310,1487.1 311,1487.3 312,1487.5 313,1487.7 314,1487.8 315,1488 316,1488.1 317,1488.2 318,1488.4 319,1488.5 320,1488.5 321,1488.6 322,1488.7 323,1488.8 324,1488.8 325,1488.9 326,1488.9 327,1488.9 328,1489 329,1489 330,1489 331,1489 332,1489 333,1489 334,1489 335,1489 336,1488.9 337,1488.9 338,1488.9 339,1488.8 340,1488.8 341,1488.7 342,1488.6 343,1488.5 344,1488.5 345,1488.4 346,1488.2 347,1488.1 348,1488 349,1487.8 350,1487.7 351,1487.5 352,1487.3 353,1487.1 354,1486.9 355,1486.7 356,1486.4 357,1486.1 358,1485.8 359,1485.4 360,1485 361,1484.5 362,1484 363,1483.5 364,1482.8 365,1482.1 366,1481.3 367,1480.4 368,1479.3 369,1478.1 370,1476.8 371,1475.3 372,1473.6 373,1471.6 374,1469.4 375,1466.9 376,1464.1 377,1461 378,1457.5 379,1453.6 380,1449.3 381,1444.4 382,1439.1 383,1433.3 384,1426.9 385,1420 386,1412.5 387,1404.4 388,1395.6 389,1386.3 390,1376.4 391,1365.9 392,1354.9 393,1343.4 394,1331.4 395,1319.1 396,1306.4 397,1293.4 398,1280.4 399,1267.2 400,1254.2 401,1241.4 402,1228.9 403,1216.9 404,1205.7 405,1195.2 406,1185.7 407,1177.5 408,1170.5 409,1165 410,1161.1 411,1158.9 412,1158.4 413,1159.6 414,1162.6 415,1167.1 416,1173.3 417,1180.8 418,1189.6 419,1199.5 420,1210.4 421,1222 422,1234.2 423,1246.9 424,1259.8 425,1272.9 426,1286.1 427,1299.1 428,1312 429,1324.6 430,1336.9 431,1348.7 432,1360 433,1370.9 434,1381.1 435,1390.8 436,1399.9 437,1408.4 438,1416.3 439,1423.6 440,1430.3 441,1436.5 442,1442.1 443,1447.2 444,1451.8 445,1455.9 446,1459.7 447,1463 448,1466 449,1468.6 450,1471 451,1473 452,1474.9 453,1476.5 454,1477.9 455,1479.1 456,1480.2 457,1481.1 458,1481.9 459,1482.6 460,1483.3 461,1483.8 462,1484.3 463,1484.7 464,1485 465,1485.3 466,1485.6 467,1485.8 468,1486 469,1486.1 470,1486.3 471,1486.4 472,1486.4 473,1486.5 474,1486.5 475,1486.5 476,1486.5 477,1486.5 478,1486.4 479,1486.4 480,1486.3 481,1486.2 482,1486.1 483,1486 484,1485.9 485,1485.7 486,1485.6 487,1485.4 488,1485.3 489,1485.1 490,1484.9 491,1484.7 492,1484.4 493,1484.2 494,1484 495,1483.7 496,1483.4 497,1483.2 498,1482.9 499,1482.6 500,1482.3 501,1482 502,1481.7 503,1481.4 504,1481 505,1480.7 506,1480.4 507,1480 508,1479.6 509,1479.3 510,1478.9 511,1478.6" fill="none" stroke="#f00" stroke-width="6.2" stroke-linejoin="round" clip-path="url(#cm1)"/>
<polyline points="518,1482.6 519,1482.9 520,1483.2 521,1483.5 522,1483.8 523,1484.1 524,1484.4 525,1484.7 526,1485 527,1485.3 528,1485.6 529,1485.9 530,1486.2 531,1486.4 532,1486.7 533,1487 534,1487.3 535,1487.5 536,1487.8 537,1488 538,1488.3 539,1488.5 540,1488.8 541,1489 542,1489.2 543,1489.5 544,1489.7 545,1489.9 546,1490.1 547,1490.3 548,1490.4 549,1490.6 550,1490.8 551,1491 552,1491.1 553,1491.3 554,1491.4 555,1491.5 556,1491.7 557,1491.8 558,1491.9 559,1492 560,1492.1 561,1492.2 562,1492.3 563,1492.4 564,1492.4 565,1492.5 566,1492.5 567,1492.6 568,1492.6 569,1492.6 570,1492.7 571,1492.7 572,1492.7 573,1492.7 574,1492.7 575,1492.7 576,1492.7 577,1492.6 578,1492.6 579,1492.6 580,1492.5 581,1492.5 582,1492.4 583,1492.3 584,1492.2 585,1492.2 586,1492.1 587,1492 588,1491.9 589,1491.8 590,1491.7 591,1491.5 592,1491.4 593,1491.3 594,1491.1 595,1491 596,1490.8 597,1490.7 598,1490.5 599,1490.3 600,1490.1 601,1489.9 602,1489.7 603,1489.5 604,1489.3 605,1489.1 606,1488.8 607,1488.6 608,1488.4 609,1488.1 610,1487.8 611,1487.6 612,1487.3 613,1487 614,1486.7 615,1486.4 616,1486 617,1485.7 618,1485.4 619,1485 620,1484.6 621,1484.2 622,1483.9 623,1483.4 624,1483 625,1482.6 626,1482.1 627,1481.6 628,1481.2 629,1480.6 630,1480.1 631,1479.6 632,1479 633,1478.4 634,1477.8 635,1477.2 636,1476.5 637,1475.8 638,1475.1 639,1474.3 640,1473.5 641,1472.7 642,1471.9 643,1471 644,1470.1 645,1469.1 646,1468.1 647,1467 648,1465.9 649,1464.7 650,1463.5 651,1462.2 652,1460.9 653,1459.5 654,1458.1 655,1456.5 656,1455 657,1453.3 658,1451.5 659,1449.7 660,1447.8 661,1445.8 662,1443.7 663,1441.5 664,1439.2 665,1436.8 666,1434.3 667,1431.7 668,1429 669,1426.2 670,1423.2 671,1420.1 672,1416.9 673,1413.6 674,1410.1 675,1406.5 676,1402.7 677,1398.8 678,1394.8 679,1390.6 680,1386.2 681,1381.8 682,1377.1 683,1372.3 684,1367.4 685,1362.3 686,1357 687,1351.6 688,1346 689,1340.3 690,1334.5 691,1328.5 692,1322.4 693,1316.1 694,1309.7 695,1303.2 696,1296.6 697,1289.9 698,1283.2 699,1276.3 700,1269.4 701,1262.5 702,1255.5 703,1248.6 704,1241.7 705,1234.8 706,1228 707,1221.3 708,1214.8 709,1208.5 710,1202.3 711,1196.4 712,1190.8 713,1185.5 714,1180.6 715,1176 716,1171.9 717,1168.3 718,1165.1 719,1162.4 720,1160.3 721,1158.8 722,1157.8 723,1157.5 724,1157.7 725,1158.5 726,1159.8 727,1161.8 728,1164.3 729,1167.3 730,1170.9 731,1174.9 732,1179.3 733,1184.2 734,1189.4 735,1195 736,1200.8 737,1206.9 738,1213.3 739,1219.8 740,1226.5 741,1233.3 742,1240.2 743,1247.2 744,1254.2 745,1261.2 746,1268.2 747,1275.2 748,1282.2 749,1289 750,1295.8 751,1302.5 752,1309.2 753,1315.7 754,1322 755,1328.3 756,1334.4 757,1340.4 758,1346.2 759,1351.9 760,1357.4 761,1362.8 762,1368.1 763,1373.1 764,1378.1 765,1382.8 766,1387.5 767,1391.9 768,1396.3 769,1400.4 770,1404.5 771,1408.3 772,1412.1 773,1415.7 774,1419.1 775,1422.5 776,1425.7 777,1428.8 778,1431.7 779,1434.6 780,1437.3 781,1439.9 782,1442.4 783,1444.8 784,1447.1 785,1449.3 786,1451.4 787,1453.4 788,1455.4 789,1457.2 790,1459 791,1460.7 792,1462.3 793,1463.8 794,1465.3 795,1466.8 796,1468.1 797,1469.4 798,1470.7 799,1471.9 800,1473 801,1474.1 802,1475.2 803,1476.2 804,1477.2 805,1478.1 806,1479 807,1479.9 808,1480.7 809,1481.5 810,1482.3 811,1483.1 812,1483.8 813,1484.5 814,1485.2 815,1485.8 816,1486.4 817,1487 818,1487.6 819,1488.2 820,1488.8 821,1489.3 822,1489.8 823,1490.3 824,1490.8 825,1491.3 826,1491.8 827,1492.2 828,1492.7 829,1493.1 830,1493.5 831,1493.9 832,1494.3 833,1494.7 834,1495.1 835,1495.5 836,1495.8 837,1496.2 838,1496.5 839,1496.9 840,1497.2 841,1497.5 842,1497.8 843,1498.2 844,1498.5 845,1498.8 846,1499.1 847,1499.3 848,1499.6 849,1499.9 850,1500.2 851,1500.4 852,1500.7 853,1500.9 854,1501.2 855,1501.4 856,1501.7 857,1501.9 858,1502.2 859,1502.4 860,1502.6 861,1502.8 862,1503.1 863,1503.3 864,1503.5 865,1503.7 866,1503.9 867,1504.1 868,1504.3 869,1504.5 870,1504.7 871,1504.9 872,1505 873,1505.2 874,1505.4 875,1505.6 876,1505.8 877,1505.9 878,1506.1 879,1506.3 880,1506.4 881,1506.6 882,1506.8 883,1506.9 884,1507.1 885,1507.2 886,1507.4 887,1507.5 888,1507.7 889,1507.8 890,1508 891,1508.1 892,1508.2 893,1508.4 894,1508.5 895,1508.6 896,1508.8 897,1508.9 898,1509 899,1509.2 900,1509.3 901,1509.4 902,1509.5 903,1509.7 904,1509.8 905,1509.9 906,1510 907,1510.1 908,1510.3 909,1510.4 910,1510.5 911,1510.6 912,1510.7" fill="none" stroke="#f00" stroke-width="6.2" stroke-linejoin="round" clip-path="url(#cg1)"/>
<g fill="#fff" stroke="#000" stroke-width="2.3" clip-path="url(#cm2)">
<circle cx="141.6" cy="1890.3" r="11.4" stroke-width="3"/><circle cx="144.2" cy="1887.6" r="11.4" stroke-width="3"/><circle cx="146.8" cy="1884.7" r="11.4" stroke-width="3"/><circle cx="149.5" cy="1880.8" r="11.4" stroke-width="2.75"/><circle cx="152.1" cy="1876" r="11.4" stroke-width="2.5"/><circle cx="154.7" cy="1871.5" r="11.4" stroke-width="2.5"/><circle cx="157.3" cy="1864.6" r="11.4" stroke-width="2.25"/><circle cx="159.9" cy="1858.7" r="11.4" stroke-width="2.25"/><circle cx="162.6" cy="1851.3" r="11.4" stroke-width="2.25"/><circle cx="165.2" cy="1843.3" r="11.4" stroke-width="2.25"/><circle cx="167.8" cy="1834.7" r="11.4" stroke-width="2.25"/><circle cx="170.4" cy="1824.6" r="11.4" stroke-width="2.25"/><circle cx="173" cy="1815.3" r="11.4" stroke-width="2.25"/><circle cx="175.7" cy="1804.5" r="11.4" stroke-width="2.25"/><circle cx="178.3" cy="1793.5" r="11.4" stroke-width="2.25"/><circle cx="180.9" cy="1782.4" r="11.4" stroke-width="2.25"/><circle cx="183.5" cy="1771.8" r="11.4" stroke-width="2.25"/><circle cx="186.1" cy="1762.1" r="11.4" stroke-width="2.25"/><circle cx="188.8" cy="1752" r="11.4" stroke-width="2.25"/><circle cx="191.4" cy="1743.8" r="11.4" stroke-width="2.25"/><circle cx="194" cy="1736.8" r="11.4" stroke-width="2.25"/><circle cx="196.6" cy="1731" r="11.4" stroke-width="2.75"/><circle cx="199.2" cy="1727.3" r="11.4" stroke-width="3"/><circle cx="201.9" cy="1724.7" r="11.4" stroke-width="3.25"/><circle cx="204.5" cy="1724.6" r="11.4" stroke-width="3.25"/><circle cx="207.1" cy="1727.7" r="11.4" stroke-width="2.75"/><circle cx="209.7" cy="1731.7" r="11.4" stroke-width="2.75"/><circle cx="212.3" cy="1738.2" r="11.4" stroke-width="2.25"/><circle cx="215" cy="1745.4" r="11.4" stroke-width="2.25"/><circle cx="217.6" cy="1754.7" r="11.4" stroke-width="2.25"/><circle cx="220.2" cy="1764.4" r="11.4" stroke-width="2.25"/><circle cx="222.8" cy="1774.9" r="11.4" stroke-width="2.25"/><circle cx="225.4" cy="1785.6" r="11.4" stroke-width="2.25"/><circle cx="228.1" cy="1796.5" r="11.4" stroke-width="2.25"/><circle cx="230.7" cy="1807.3" r="11.4" stroke-width="2.25"/><circle cx="233.3" cy="1817.9" r="11.4" stroke-width="2.25"/><circle cx="235.9" cy="1828.3" r="11.4" stroke-width="2.25"/><circle cx="238.5" cy="1837.2" r="11.4" stroke-width="2.25"/><circle cx="241.2" cy="1846.9" r="11.4" stroke-width="2.25"/><circle cx="243.8" cy="1854.3" r="11.4" stroke-width="2.25"/><circle cx="246.4" cy="1862.1" r="11.4" stroke-width="2.25"/><circle cx="249" cy="1868.2" r="11.4" stroke-width="2.25"/><circle cx="251.6" cy="1874" r="11.4" stroke-width="2.25"/><circle cx="254.3" cy="1879.9" r="11.4" stroke-width="2.75"/><circle cx="256.9" cy="1883.4" r="11.4" stroke-width="2.75"/><circle cx="259.5" cy="1886.8" r="11.4" stroke-width="2.75"/><circle cx="262.1" cy="1890.2" r="11.4" stroke-width="3"/><circle cx="264.7" cy="1893" r="11.4" stroke-width="3"/><circle cx="267.4" cy="1896.2" r="11.4" stroke-width="3.25"/><circle cx="270" cy="1897.3" r="11.4" stroke-width="3.25"/><circle cx="272.6" cy="1899" r="11.4" stroke-width="3.25"/><circle cx="275.2" cy="1899.5" r="11.4" stroke-width="3.25"/><circle cx="277.8" cy="1900.9" r="11.4" stroke-width="3.25"/><circle cx="280.5" cy="1901.8" r="11.4" stroke-width="3.25"/><circle cx="283.1" cy="1902.8" r="11.4" stroke-width="3.25"/><circle cx="285.7" cy="1902.2" r="11.4" stroke-width="3.25"/><circle cx="288.3" cy="1903" r="11.4" stroke-width="3.25"/><circle cx="290.9" cy="1903" r="11.4" stroke-width="3.25"/><circle cx="293.6" cy="1902.5" r="11.4" stroke-width="3.25"/><circle cx="296.2" cy="1902.7" r="11.4" stroke-width="3.25"/><circle cx="298.8" cy="1902.4" r="11.4" stroke-width="3.25"/><circle cx="301.4" cy="1901.2" r="11.4" stroke-width="3.25"/><circle cx="304" cy="1901.7" r="11.4" stroke-width="3.25"/><circle cx="306.7" cy="1900.9" r="11.4" stroke-width="3.25"/><circle cx="309.3" cy="1899.3" r="11.4" stroke-width="3.25"/><circle cx="311.9" cy="1897.3" r="11.4" stroke-width="3.25"/><circle cx="314.5" cy="1896.2" r="11.4" stroke-width="3.25"/><circle cx="317.1" cy="1892.7" r="11.4" stroke-width="2.75"/><circle cx="319.8" cy="1888.9" r="11.4" stroke-width="2.75"/><circle cx="322.4" cy="1883.8" r="11.4" stroke-width="2.25"/><circle cx="325" cy="1876.1" r="11.4" stroke-width="2.25"/><circle cx="327.6" cy="1867.8" r="11.4" stroke-width="2.25"/><circle cx="330.2" cy="1856.4" r="11.4" stroke-width="2.25"/><circle cx="332.9" cy="1843" r="11.4" stroke-width="2.25"/><circle cx="335.5" cy="1826.7" r="11.4" stroke-width="2.25"/><circle cx="338.1" cy="1807.7" r="11.4" stroke-width="2.25"/><circle cx="340.7" cy="1786.4" r="11.4" stroke-width="2.25"/><circle cx="343.3" cy="1761.6" r="11.4" stroke-width="2.25"/><circle cx="346" cy="1735.1" r="11.4" stroke-width="2.25"/><circle cx="348.6" cy="1707.1" r="11.4" stroke-width="2.25"/><circle cx="351.2" cy="1679" r="11.4" stroke-width="2.25"/><circle cx="353.8" cy="1650.9" r="11.4" stroke-width="2.25"/><circle cx="356.4" cy="1625.4" r="11.4" stroke-width="2.25"/><circle cx="359.1" cy="1603.5" r="11.4" stroke-width="2.25"/><circle cx="361.7" cy="1586.4" r="11.4" stroke-width="2.25"/><circle cx="364.3" cy="1576.2" r="11.4" stroke-width="3"/><circle cx="366.9" cy="1573.1" r="11.4" stroke-width="3"/><circle cx="369.5" cy="1579" r="11.4" stroke-width="2.25"/><circle cx="372.2" cy="1590.9" r="11.4" stroke-width="2.25"/><circle cx="374.8" cy="1609" r="11.4" stroke-width="2.25"/><circle cx="377.4" cy="1632" r="11.4" stroke-width="2.25"/><circle cx="380" cy="1659.3" r="11.4" stroke-width="2.25"/><circle cx="382.6" cy="1686.6" r="11.4" stroke-width="2.25"/><circle cx="385.3" cy="1714.8" r="11.4" stroke-width="2.25"/><circle cx="387.9" cy="1742.7" r="11.4" stroke-width="2.25"/><circle cx="390.5" cy="1768.7" r="11.4" stroke-width="2.25"/><circle cx="393.1" cy="1792.9" r="11.4" stroke-width="2.25"/><circle cx="395.7" cy="1813.5" r="11.4" stroke-width="2.25"/><circle cx="398.4" cy="1832.8" r="11.4" stroke-width="2.25"/><circle cx="401" cy="1847.1" r="11.4" stroke-width="2.25"/><circle cx="403.6" cy="1860.6" r="11.4" stroke-width="2.25"/><circle cx="406.2" cy="1870.3" r="11.4" stroke-width="2.25"/><circle cx="408.8" cy="1879.7" r="11.4" stroke-width="2.25"/><circle cx="411.5" cy="1885.2" r="11.4" stroke-width="2.5"/><circle cx="414.1" cy="1890.2" r="11.4" stroke-width="2.75"/><circle cx="416.7" cy="1894.2" r="11.4" stroke-width="3"/><circle cx="419.3" cy="1896.9" r="11.4" stroke-width="3.25"/><circle cx="421.9" cy="1897.9" r="11.4" stroke-width="3.25"/><circle cx="424.6" cy="1899.5" r="11.4" stroke-width="3.25"/><circle cx="427.2" cy="1899.9" r="11.4" stroke-width="3.25"/><circle cx="429.8" cy="1901" r="11.4" stroke-width="3.25"/><circle cx="432.4" cy="1901.2" r="11.4" stroke-width="3.25"/><circle cx="435" cy="1901.1" r="11.4" stroke-width="3.25"/><circle cx="437.7" cy="1900.9" r="11.4" stroke-width="3.25"/><circle cx="440.3" cy="1900.8" r="11.4" stroke-width="3.25"/><circle cx="442.9" cy="1900.3" r="11.4" stroke-width="3.25"/><circle cx="445.5" cy="1900.3" r="11.4" stroke-width="3.25"/><circle cx="448.1" cy="1900.2" r="11.4" stroke-width="3.25"/><circle cx="450.8" cy="1898.2" r="11.4" stroke-width="3.25"/><circle cx="453.4" cy="1898.2" r="11.4" stroke-width="3.25"/><circle cx="456" cy="1897.3" r="11.4" stroke-width="3.25"/><circle cx="458.6" cy="1896.8" r="11.4" stroke-width="3.25"/><circle cx="461.2" cy="1895.3" r="11.4" stroke-width="3.25"/><circle cx="463.9" cy="1894.7" r="11.4" stroke-width="3.25"/><circle cx="466.5" cy="1893.3" r="11.4" stroke-width="3.25"/><circle cx="469.1" cy="1892.9" r="11.4" stroke-width="3.25"/><circle cx="471.7" cy="1891.6" r="11.4" stroke-width="3.25"/><circle cx="474.3" cy="1890.3" r="11.4" stroke-width="3.25"/><circle cx="477" cy="1889.3" r="11.4" stroke-width="3.25"/><circle cx="479.6" cy="1887.8" r="11.4" stroke-width="3.25"/><circle cx="482.2" cy="1886" r="11.4" stroke-width="3.25"/><circle cx="484.8" cy="1885.5" r="11.4" stroke-width="3.25"/><circle cx="487.4" cy="1884.1" r="11.4" stroke-width="3.25"/><circle cx="490.1" cy="1882.5" r="11.4" stroke-width="3.25"/><circle cx="492.7" cy="1881.6" r="11.4" stroke-width="3.25"/><circle cx="495.3" cy="1880.3" r="11.4" stroke-width="3.25"/><circle cx="497.9" cy="1878" r="11.4" stroke-width="3.25"/><circle cx="500.5" cy="1876.7" r="11.4" stroke-width="3.25"/><circle cx="503.2" cy="1876.3" r="11.4" stroke-width="3.25"/><circle cx="505.8" cy="1874.9" r="11.4" stroke-width="3.25"/><circle cx="508.4" cy="1872.6" r="11.4" stroke-width="3.25"/><circle cx="511" cy="1871.1" r="11.4" stroke-width="3.25"/><circle cx="513.6" cy="1870.1" r="11.4" stroke-width="3.25"/><circle cx="516.3" cy="1868.9" r="11.4" stroke-width="3.25"/><circle cx="518.9" cy="1867.2" r="11.4" stroke-width="3.25"/><circle cx="521.5" cy="1866.7" r="11.4" stroke-width="3.25"/><circle cx="524.1" cy="1865.1" r="11.4" stroke-width="3.25"/>
</g>
<g fill="#fff" stroke="#000" stroke-width="2.3" clip-path="url(#cg2)">
<rect x="501.4" y="1887.5" width="18.5" height="18.5" stroke-width="3.25"/><rect x="504.4" y="1888" width="18.5" height="18.5" stroke-width="3.25"/><rect x="507.4" y="1886.9" width="18.5" height="18.5" stroke-width="3.25"/><rect x="510.4" y="1886.7" width="18.5" height="18.5" stroke-width="3.25"/><rect x="513.4" y="1886.6" width="18.5" height="18.5" stroke-width="3.25"/><rect x="516.4" y="1886.1" width="18.5" height="18.5" stroke-width="3.25"/><rect x="519.4" y="1885.1" width="18.5" height="18.5" stroke-width="3.25"/><rect x="522.4" y="1884.7" width="18.5" height="18.5" stroke-width="3.25"/><rect x="525.3" y="1883.7" width="18.5" height="18.5" stroke-width="3.25"/><rect x="528.3" y="1884.1" width="18.5" height="18.5" stroke-width="3.25"/><rect x="531.3" y="1883" width="18.5" height="18.5" stroke-width="3.25"/><rect x="534.3" y="1881.5" width="18.5" height="18.5" stroke-width="3.25"/><rect x="537.3" y="1881.1" width="18.5" height="18.5" stroke-width="3.25"/><rect x="540.3" y="1880.5" width="18.5" height="18.5" stroke-width="3.25"/><rect x="543.3" y="1879.5" width="18.5" height="18.5" stroke-width="3.25"/><rect x="546.3" y="1879" width="18.5" height="18.5" stroke-width="3.25"/><rect x="549.3" y="1877.7" width="18.5" height="18.5" stroke-width="3.25"/><rect x="552.3" y="1875.7" width="18.5" height="18.5" stroke-width="3.25"/><rect x="555.3" y="1874.6" width="18.5" height="18.5" stroke-width="3.25"/><rect x="558.3" y="1872.7" width="18.5" height="18.5" stroke-width="3.25"/><rect x="561.3" y="1871.7" width="18.5" height="18.5" stroke-width="3.25"/><rect x="564.2" y="1869.9" width="18.5" height="18.5" stroke-width="3.25"/><rect x="567.2" y="1869.1" width="18.5" height="18.5" stroke-width="3.25"/><rect x="570.2" y="1866" width="18.5" height="18.5" stroke-width="2.75"/><rect x="573.2" y="1862.9" width="18.5" height="18.5" stroke-width="3"/><rect x="576.2" y="1861" width="18.5" height="18.5" stroke-width="3"/><rect x="579.2" y="1858.6" width="18.5" height="18.5" stroke-width="3"/><rect x="582.2" y="1855" width="18.5" height="18.5" stroke-width="2.75"/><rect x="585.2" y="1851.9" width="18.5" height="18.5" stroke-width="2.75"/><rect x="588.2" y="1848.5" width="18.5" height="18.5" stroke-width="2.75"/><rect x="591.2" y="1844.8" width="18.5" height="18.5" stroke-width="2.75"/><rect x="594.2" y="1840.2" width="18.5" height="18.5" stroke-width="2.5"/><rect x="597.2" y="1835.2" width="18.5" height="18.5" stroke-width="2.5"/><rect x="600.2" y="1830.6" width="18.5" height="18.5" stroke-width="2.5"/><rect x="603.2" y="1824.4" width="18.5" height="18.5" stroke-width="2.25"/><rect x="606.1" y="1818.1" width="18.5" height="18.5" stroke-width="2.25"/><rect x="609.1" y="1811" width="18.5" height="18.5" stroke-width="2.25"/><rect x="612.1" y="1803.9" width="18.5" height="18.5" stroke-width="2.25"/><rect x="615.1" y="1796.4" width="18.5" height="18.5" stroke-width="2.25"/><rect x="618.1" y="1786.9" width="18.5" height="18.5" stroke-width="2.25"/><rect x="621.1" y="1778.3" width="18.5" height="18.5" stroke-width="2.25"/><rect x="624.1" y="1768.6" width="18.5" height="18.5" stroke-width="2.25"/><rect x="627.1" y="1757.6" width="18.5" height="18.5" stroke-width="2.25"/><rect x="630.1" y="1746.5" width="18.5" height="18.5" stroke-width="2.25"/><rect x="633.1" y="1734" width="18.5" height="18.5" stroke-width="2.25"/><rect x="636.1" y="1722.4" width="18.5" height="18.5" stroke-width="2.25"/><rect x="639.1" y="1709.1" width="18.5" height="18.5" stroke-width="2.25"/><rect x="642.1" y="1695.1" width="18.5" height="18.5" stroke-width="2.25"/><rect x="645" y="1680.2" width="18.5" height="18.5" stroke-width="2.25"/><rect x="648" y="1666.1" width="18.5" height="18.5" stroke-width="2.25"/><rect x="651" y="1652.4" width="18.5" height="18.5" stroke-width="2.25"/><rect x="654" y="1638.3" width="18.5" height="18.5" stroke-width="2.25"/><rect x="657" y="1623.7" width="18.5" height="18.5" stroke-width="2.25"/><rect x="660" y="1610.7" width="18.5" height="18.5" stroke-width="2.25"/><rect x="663" y="1597.5" width="18.5" height="18.5" stroke-width="2.25"/><rect x="666" y="1586.6" width="18.5" height="18.5" stroke-width="2.25"/><rect x="669" y="1577.3" width="18.5" height="18.5" stroke-width="2.25"/><rect x="672" y="1570.1" width="18.5" height="18.5" stroke-width="2.25"/><rect x="675" y="1564.2" width="18.5" height="18.5" stroke-width="3.25"/><rect x="678" y="1562.7" width="18.5" height="18.5" stroke-width="3.25"/><rect x="681" y="1562.9" width="18.5" height="18.5" stroke-width="3.25"/><rect x="683.9" y="1564.7" width="18.5" height="18.5" stroke-width="3.25"/><rect x="686.9" y="1569.8" width="18.5" height="18.5" stroke-width="2.25"/><rect x="689.9" y="1578.1" width="18.5" height="18.5" stroke-width="2.25"/><rect x="692.9" y="1587.4" width="18.5" height="18.5" stroke-width="2.25"/><rect x="695.9" y="1598" width="18.5" height="18.5" stroke-width="2.25"/><rect x="698.9" y="1612" width="18.5" height="18.5" stroke-width="2.25"/><rect x="701.9" y="1625.4" width="18.5" height="18.5" stroke-width="2.25"/><rect x="704.9" y="1639.5" width="18.5" height="18.5" stroke-width="2.25"/><rect x="707.9" y="1655.3" width="18.5" height="18.5" stroke-width="2.25"/><rect x="710.9" y="1669.3" width="18.5" height="18.5" stroke-width="2.25"/><rect x="713.9" y="1683.7" width="18.5" height="18.5" stroke-width="2.25"/><rect x="716.9" y="1698.5" width="18.5" height="18.5" stroke-width="2.25"/><rect x="719.9" y="1712.1" width="18.5" height="18.5" stroke-width="2.25"/><rect x="722.9" y="1725.8" width="18.5" height="18.5" stroke-width="2.25"/><rect x="725.8" y="1739.2" width="18.5" height="18.5" stroke-width="2.25"/><rect x="728.8" y="1751.2" width="18.5" height="18.5" stroke-width="2.25"/><rect x="731.8" y="1762.9" width="18.5" height="18.5" stroke-width="2.25"/><rect x="734.8" y="1774.8" width="18.5" height="18.5" stroke-width="2.25"/><rect x="737.8" y="1784.8" width="18.5" height="18.5" stroke-width="2.25"/><rect x="740.8" y="1794.5" width="18.5" height="18.5" stroke-width="2.25"/><rect x="743.8" y="1803.4" width="18.5" height="18.5" stroke-width="2.25"/><rect x="746.8" y="1811.7" width="18.5" height="18.5" stroke-width="2.25"/><rect x="749.8" y="1819.9" width="18.5" height="18.5" stroke-width="2.25"/><rect x="752.8" y="1826.5" width="18.5" height="18.5" stroke-width="2.25"/><rect x="755.8" y="1833.8" width="18.5" height="18.5" stroke-width="2.25"/><rect x="758.8" y="1838.8" width="18.5" height="18.5" stroke-width="2.25"/><rect x="761.8" y="1844.7" width="18.5" height="18.5" stroke-width="2.5"/><rect x="764.7" y="1849.4" width="18.5" height="18.5" stroke-width="2.5"/><rect x="767.7" y="1854.5" width="18.5" height="18.5" stroke-width="2.5"/><rect x="770.7" y="1859.2" width="18.5" height="18.5" stroke-width="2.5"/><rect x="773.7" y="1863.6" width="18.5" height="18.5" stroke-width="3"/><rect x="776.7" y="1866.4" width="18.5" height="18.5" stroke-width="3"/><rect x="779.7" y="1870" width="18.5" height="18.5" stroke-width="3"/><rect x="782.7" y="1872.9" width="18.5" height="18.5" stroke-width="3"/><rect x="785.7" y="1875.6" width="18.5" height="18.5" stroke-width="3"/><rect x="788.7" y="1878.1" width="18.5" height="18.5" stroke-width="3"/><rect x="791.7" y="1881" width="18.5" height="18.5" stroke-width="3.25"/><rect x="794.7" y="1882.5" width="18.5" height="18.5" stroke-width="3.25"/><rect x="797.7" y="1885.3" width="18.5" height="18.5" stroke-width="3"/><rect x="800.7" y="1887.2" width="18.5" height="18.5" stroke-width="3.25"/><rect x="803.6" y="1888.7" width="18.5" height="18.5" stroke-width="3.25"/><rect x="806.6" y="1890.2" width="18.5" height="18.5" stroke-width="3.25"/><rect x="809.6" y="1891.7" width="18.5" height="18.5" stroke-width="3.25"/><rect x="812.6" y="1894.4" width="18.5" height="18.5" stroke-width="3.25"/><rect x="815.6" y="1894.5" width="18.5" height="18.5" stroke-width="3.25"/><rect x="818.6" y="1897" width="18.5" height="18.5" stroke-width="3.25"/><rect x="821.6" y="1897.8" width="18.5" height="18.5" stroke-width="3.25"/><rect x="824.6" y="1898.6" width="18.5" height="18.5" stroke-width="3.25"/><rect x="827.6" y="1899.4" width="18.5" height="18.5" stroke-width="3.25"/><rect x="830.6" y="1901.4" width="18.5" height="18.5" stroke-width="3.25"/><rect x="833.6" y="1902.7" width="18.5" height="18.5" stroke-width="3.25"/><rect x="836.6" y="1902.6" width="18.5" height="18.5" stroke-width="3.25"/><rect x="839.6" y="1903.7" width="18.5" height="18.5" stroke-width="3.25"/><rect x="842.6" y="1905.2" width="18.5" height="18.5" stroke-width="3.25"/><rect x="845.5" y="1905.7" width="18.5" height="18.5" stroke-width="3.25"/><rect x="848.5" y="1907.2" width="18.5" height="18.5" stroke-width="3.25"/><rect x="851.5" y="1907" width="18.5" height="18.5" stroke-width="3.25"/><rect x="854.5" y="1908.2" width="18.5" height="18.5" stroke-width="3.25"/><rect x="857.5" y="1908.2" width="18.5" height="18.5" stroke-width="3.25"/><rect x="860.5" y="1910.2" width="18.5" height="18.5" stroke-width="3.25"/><rect x="863.5" y="1909.8" width="18.5" height="18.5" stroke-width="3.25"/><rect x="866.5" y="1909.8" width="18.5" height="18.5" stroke-width="3.25"/><rect x="869.5" y="1911.3" width="18.5" height="18.5" stroke-width="3.25"/><rect x="872.5" y="1911.9" width="18.5" height="18.5" stroke-width="3.25"/><rect x="875.5" y="1913.3" width="18.5" height="18.5" stroke-width="3.25"/><rect x="878.5" y="1913" width="18.5" height="18.5" stroke-width="3.25"/><rect x="881.5" y="1913.7" width="18.5" height="18.5" stroke-width="3.25"/><rect x="884.4" y="1914.5" width="18.5" height="18.5" stroke-width="3.25"/><rect x="887.4" y="1915.4" width="18.5" height="18.5" stroke-width="3.25"/><rect x="890.4" y="1915.3" width="18.5" height="18.5" stroke-width="3.25"/><rect x="893.4" y="1916.2" width="18.5" height="18.5" stroke-width="3.25"/><rect x="896.4" y="1916.5" width="18.5" height="18.5" stroke-width="3.25"/><rect x="899.4" y="1916.7" width="18.5" height="18.5" stroke-width="3.25"/><rect x="902.4" y="1917.3" width="18.5" height="18.5" stroke-width="3.25"/>
</g>
<line x1="366.6" y1="1537.6" x2="366.6" y2="1950.8" stroke="#00f" stroke-width="6.5" stroke-dasharray="21.5 28.2" stroke-dashoffset="0"/>
<line x1="690.7" y1="1537.6" x2="690.7" y2="1950.8" stroke="#00f" stroke-width="6.5" stroke-dasharray="21.5 28.2" stroke-dashoffset="0"/>
<polyline points="142,1895.3 143,1894.6 144,1893.8 145,1892.9 146,1892 147,1891 148,1890 149,1888.8 150,1887.6 151,1886.3 152,1884.8 153,1883.3 154,1881.7 155,1879.9 156,1878.1 157,1876.1 158,1874 159,1871.8 160,1869.4 161,1867 162,1864.3 163,1861.6 164,1858.7 165,1855.7 166,1852.5 167,1849.3 168,1845.8 169,1842.3 170,1838.6 171,1834.8 172,1830.9 173,1826.9 174,1822.8 175,1818.6 176,1814.3 177,1809.9 178,1805.5 179,1801 180,1796.4 181,1791.9 182,1787.3 183,1782.8 184,1778.3 185,1773.8 186,1769.4 187,1765.1 188,1760.8 189,1756.8 190,1752.8 191,1749 192,1745.5 193,1742.1 194,1739 195,1736.1 196,1733.6 197,1731.3 198,1729.3 199,1727.7 200,1726.5 201,1725.6 202,1725 203,1724.9 204,1725.1 205,1725.7 206,1726.6 207,1727.9 208,1729.6 209,1731.6 210,1733.9 211,1736.6 212,1739.5 213,1742.7 214,1746.1 215,1749.7 216,1753.5 217,1757.5 218,1761.7 219,1765.9 220,1770.3 221,1774.8 222,1779.3 223,1783.9 224,1788.5 225,1793.1 226,1797.7 227,1802.3 228,1806.8 229,1811.3 230,1815.7 231,1820.1 232,1824.3 233,1828.5 234,1832.6 235,1836.5 236,1840.4 237,1844.1 238,1847.7 239,1851.1 240,1854.5 241,1857.7 242,1860.7 243,1863.7 244,1866.4 245,1869.1 246,1871.6 247,1874 248,1876.3 249,1878.4 250,1880.4 251,1882.3 252,1884.1 253,1885.8 254,1887.3 255,1888.8 256,1890.1 257,1891.4 258,1892.6 259,1893.7 260,1894.7 261,1895.6 262,1896.5 263,1897.3 264,1898.1 265,1898.7 266,1899.4 267,1899.9 268,1900.5 269,1901 270,1901.4 271,1901.8 272,1902.2 273,1902.5 274,1902.8 275,1903.1 276,1903.3 277,1903.6 278,1903.8 279,1904 280,1904.1 281,1904.3 282,1904.4 283,1904.5 284,1904.6 285,1904.7 286,1904.8 287,1904.8 288,1904.9 289,1904.9 290,1905 291,1905 292,1905 293,1905 294,1905 295,1904.9 296,1904.9 297,1904.8 298,1904.8 299,1904.7 300,1904.6 301,1904.5 302,1904.4 303,1904.3 304,1904.1 305,1903.9 306,1903.7 307,1903.5 308,1903.2 309,1903 310,1902.6 311,1902.3 312,1901.8 313,1901.3 314,1900.8 315,1900.2 316,1899.5 317,1898.7 318,1897.8 319,1896.8 320,1895.6 321,1894.3 322,1892.9 323,1891.2 324,1889.4 325,1887.3 326,1885 327,1882.4 328,1879.5 329,1876.3 330,1872.8 331,1868.9 332,1864.6 333,1859.9 334,1854.7 335,1849.2 336,1843.1 337,1836.6 338,1829.6 339,1822.1 340,1814.1 341,1805.5 342,1796.6 343,1787.1 344,1777.2 345,1766.8 346,1756.1 347,1745 348,1733.7 349,1722 350,1710.2 351,1698.3 352,1686.4 353,1674.5 354,1662.8 355,1651.4 356,1640.3 357,1629.6 358,1619.6 359,1610.2 360,1601.7 361,1594.2 362,1587.6 363,1582.2 364,1578.1 365,1575.3 366,1573.8 367,1573.6 368,1574.9 369,1577.5 370,1581.4 371,1586.6 372,1593 373,1600.4 374,1608.7 375,1618 376,1627.9 377,1638.5 378,1649.5 379,1660.9 380,1672.6 381,1684.5 382,1696.5 383,1708.4 384,1720.3 385,1732 386,1743.4 387,1754.6 388,1765.4 389,1775.8 390,1785.8 391,1795.4 392,1804.5 393,1813.1 394,1821.2 395,1828.9 396,1836 397,1842.6 398,1848.7 399,1854.4 400,1859.6 401,1864.4 402,1868.7 403,1872.7 404,1876.3 405,1879.5 406,1882.4 407,1885 408,1887.4 409,1889.5 410,1891.3 411,1893 412,1894.4 413,1895.7 414,1896.8 415,1897.8 416,1898.6 417,1899.4 418,1900 419,1900.6 420,1901 421,1901.4 422,1901.8 423,1902.1 424,1902.3 425,1902.5 426,1902.7 427,1902.8 428,1902.9 429,1902.9 430,1903 431,1903 432,1903 433,1902.9 434,1902.9 435,1902.8 436,1902.7 437,1902.6 438,1902.5 439,1902.4 440,1902.2 441,1902.1 442,1901.9 443,1901.7 444,1901.5 445,1901.3 446,1901.1 447,1900.9 448,1900.6 449,1900.4 450,1900.1 451,1899.9 452,1899.6 453,1899.3 454,1899 455,1898.7 456,1898.4 457,1898 458,1897.7 459,1897.3 460,1897 461,1896.6 462,1896.2 463,1895.9 464,1895.5 465,1895.1 466,1894.7 467,1894.3 468,1893.8 469,1893.4 470,1893 471,1892.5 472,1892.1 473,1891.6 474,1891.2 475,1890.7 476,1890.2 477,1889.8 478,1889.3 479,1888.8 480,1888.3 481,1887.8 482,1887.3 483,1886.8 484,1886.3 485,1885.7 486,1885.2 487,1884.7 488,1884.2 489,1883.7 490,1883.1 491,1882.6 492,1882.1 493,1881.5 494,1881 495,1880.5 496,1879.9 497,1879.4 498,1878.8 499,1878.3 500,1877.8 501,1877.2 502,1876.7 503,1876.2 504,1875.6 505,1875.1 506,1874.6 507,1874.1 508,1873.5 509,1873 510,1872.5 511,1872" fill="none" stroke="#f00" stroke-width="6.2" stroke-linejoin="round" clip-path="url(#cm2)"/>
<polyline points="518,1898.3 519,1898.1 520,1898 521,1897.8 522,1897.7 523,1897.5 524,1897.4 525,1897.2 526,1897.1 527,1896.9 528,1896.7 529,1896.6 530,1896.4 531,1896.2 532,1896 533,1895.8 534,1895.6 535,1895.4 536,1895.2 537,1895 538,1894.8 539,1894.6 540,1894.4 541,1894.2 542,1893.9 543,1893.7 544,1893.4 545,1893.2 546,1892.9 547,1892.7 548,1892.4 549,1892.1 550,1891.8 551,1891.5 552,1891.2 553,1890.9 554,1890.6 555,1890.3 556,1889.9 557,1889.6 558,1889.2 559,1888.9 560,1888.5 561,1888.1 562,1887.7 563,1887.3 564,1886.9 565,1886.5 566,1886 567,1885.6 568,1885.1 569,1884.6 570,1884.2 571,1883.6 572,1883.1 573,1882.6 574,1882 575,1881.4 576,1880.9 577,1880.2 578,1879.6 579,1879 580,1878.3 581,1877.6 582,1876.9 583,1876.1 584,1875.4 585,1874.6 586,1873.8 587,1872.9 588,1872.1 589,1871.2 590,1870.3 591,1869.3 592,1868.3 593,1867.3 594,1866.3 595,1865.2 596,1864 597,1862.9 598,1861.7 599,1860.4 600,1859.2 601,1857.8 602,1856.5 603,1855.1 604,1853.6 605,1852.1 606,1850.6 607,1849 608,1847.3 609,1845.6 610,1843.8 611,1842 612,1840.2 613,1838.2 614,1836.2 615,1834.2 616,1832.1 617,1829.9 618,1827.7 619,1825.3 620,1823 621,1820.5 622,1818 623,1815.4 624,1812.8 625,1810.1 626,1807.3 627,1804.4 628,1801.4 629,1798.4 630,1795.3 631,1792.1 632,1788.8 633,1785.5 634,1782.1 635,1778.5 636,1775 637,1771.3 638,1767.6 639,1763.7 640,1759.8 641,1755.8 642,1751.8 643,1747.6 644,1743.4 645,1739.1 646,1734.8 647,1730.3 648,1725.8 649,1721.3 650,1716.6 651,1711.9 652,1707.2 653,1702.4 654,1697.6 655,1692.7 656,1687.8 657,1682.8 658,1677.8 659,1672.9 660,1667.9 661,1662.9 662,1657.9 663,1652.9 664,1648 665,1643.1 666,1638.3 667,1633.5 668,1628.8 669,1624.2 670,1619.7 671,1615.3 672,1611.1 673,1607 674,1603 675,1599.3 676,1595.7 677,1592.3 678,1589.2 679,1586.2 680,1583.6 681,1581.2 682,1579 683,1577.2 684,1575.6 685,1574.3 686,1573.3 687,1572.7 688,1572.3 689,1572.3 690,1572.6 691,1573.2 692,1574.1 693,1575.3 694,1576.8 695,1578.6 696,1580.7 697,1583.1 698,1585.7 699,1588.6 700,1591.7 701,1595.1 702,1598.6 703,1602.4 704,1606.3 705,1610.5 706,1614.8 707,1619.2 708,1623.7 709,1628.4 710,1633.1 711,1638 712,1642.9 713,1647.9 714,1652.9 715,1658 716,1663 717,1668.1 718,1673.3 719,1678.4 720,1683.5 721,1688.5 722,1693.6 723,1698.6 724,1703.6 725,1708.5 726,1713.4 727,1718.3 728,1723 729,1727.8 730,1732.4 731,1737 732,1741.5 733,1746 734,1750.4 735,1754.7 736,1758.9 737,1763 738,1767.1 739,1771.1 740,1775 741,1778.8 742,1782.6 743,1786.3 744,1789.9 745,1793.4 746,1796.8 747,1800.2 748,1803.4 749,1806.6 750,1809.7 751,1812.8 752,1815.7 753,1818.6 754,1821.4 755,1824.2 756,1826.9 757,1829.5 758,1832 759,1834.5 760,1836.8 761,1839.2 762,1841.4 763,1843.6 764,1845.8 765,1847.9 766,1849.9 767,1851.9 768,1853.8 769,1855.6 770,1857.4 771,1859.2 772,1860.9 773,1862.5 774,1864.1 775,1865.7 776,1867.2 777,1868.6 778,1870.1 779,1871.4 780,1872.8 781,1874.1 782,1875.3 783,1876.6 784,1877.8 785,1878.9 786,1880 787,1881.1 788,1882.2 789,1883.2 790,1884.2 791,1885.2 792,1886.1 793,1887 794,1887.9 795,1888.8 796,1889.7 797,1890.5 798,1891.3 799,1892.1 800,1892.8 801,1893.5 802,1894.3 803,1895 804,1895.7 805,1896.3 806,1897 807,1897.6 808,1898.2 809,1898.8 810,1899.4 811,1900 812,1900.6 813,1901.1 814,1901.7 815,1902.2 816,1902.7 817,1903.2 818,1903.7 819,1904.2 820,1904.7 821,1905.1 822,1905.6 823,1906 824,1906.5 825,1906.9 826,1907.3 827,1907.7 828,1908.1 829,1908.5 830,1908.9 831,1909.3 832,1909.7 833,1910.1 834,1910.4 835,1910.8 836,1911.2 837,1911.5 838,1911.8 839,1912.2 840,1912.5 841,1912.8 842,1913.2 843,1913.5 844,1913.8 845,1914.1 846,1914.4 847,1914.7 848,1915 849,1915.3 850,1915.6 851,1915.9 852,1916.1 853,1916.4 854,1916.7 855,1916.9 856,1917.2 857,1917.5 858,1917.7 859,1918 860,1918.2 861,1918.5 862,1918.7 863,1919 864,1919.2 865,1919.4 866,1919.7 867,1919.9 868,1920.1 869,1920.4 870,1920.6 871,1920.8 872,1921 873,1921.2 874,1921.5 875,1921.7 876,1921.9 877,1922.1 878,1922.3 879,1922.5 880,1922.7 881,1922.9 882,1923.1 883,1923.3 884,1923.5 885,1923.7 886,1923.8 887,1924 888,1924.2 889,1924.4 890,1924.6 891,1924.8 892,1924.9 893,1925.1 894,1925.3 895,1925.5 896,1925.6 897,1925.8 898,1926 899,1926.1 900,1926.3 901,1926.5 902,1926.6 903,1926.8 904,1926.9 905,1927.1 906,1927.3 907,1927.4 908,1927.6 909,1927.7 910,1927.9 911,1928 912,1928.2" fill="none" stroke="#f00" stroke-width="6.2" stroke-linejoin="round" clip-path="url(#cg2)"/>
<rect x="89.8" y="1120" width="852.6" height="830.8" fill="none" stroke="#000" stroke-width="6"/>
<line x1="89.8" y1="1534.8" x2="942.4" y2="1534.8" stroke="#000" stroke-width="6"/>
<line x1="142" y1="1534.8" x2="142" y2="1519.8" stroke="#000" stroke-width="6"/>
<line x1="246.8" y1="1534.8" x2="246.8" y2="1519.8" stroke="#000" stroke-width="6"/>
<line x1="351.2" y1="1534.8" x2="351.2" y2="1519.8" stroke="#000" stroke-width="6"/>
<line x1="456.7" y1="1534.8" x2="456.7" y2="1519.8" stroke="#000" stroke-width="6"/>
<line x1="612.3" y1="1534.8" x2="612.3" y2="1519.8" stroke="#000" stroke-width="6"/>
<line x1="732.1" y1="1534.8" x2="732.1" y2="1519.8" stroke="#000" stroke-width="6"/>
<line x1="851.7" y1="1534.8" x2="851.7" y2="1519.8" stroke="#000" stroke-width="6"/>
<line x1="194.3" y1="1534.8" x2="194.3" y2="1527.3" stroke="#000" stroke-width="6"/>
<line x1="299" y1="1534.8" x2="299" y2="1527.3" stroke="#000" stroke-width="6"/>
<line x1="404.5" y1="1534.8" x2="404.5" y2="1527.3" stroke="#000" stroke-width="6"/>
<line x1="552.8" y1="1534.8" x2="552.8" y2="1527.3" stroke="#000" stroke-width="6"/>
<line x1="672.3" y1="1534.8" x2="672.3" y2="1527.3" stroke="#000" stroke-width="6"/>
<line x1="792.2" y1="1534.8" x2="792.2" y2="1527.3" stroke="#000" stroke-width="6"/>
<line x1="911.8" y1="1534.8" x2="911.8" y2="1527.3" stroke="#000" stroke-width="6"/>
<line x1="142" y1="1950.8" x2="142" y2="1935.8" stroke="#000" stroke-width="6"/>
<line x1="246.8" y1="1950.8" x2="246.8" y2="1935.8" stroke="#000" stroke-width="6"/>
<line x1="351.2" y1="1950.8" x2="351.2" y2="1935.8" stroke="#000" stroke-width="6"/>
<line x1="456.7" y1="1950.8" x2="456.7" y2="1935.8" stroke="#000" stroke-width="6"/>
<line x1="612.3" y1="1950.8" x2="612.3" y2="1935.8" stroke="#000" stroke-width="6"/>
<line x1="732.1" y1="1950.8" x2="732.1" y2="1935.8" stroke="#000" stroke-width="6"/>
<line x1="851.7" y1="1950.8" x2="851.7" y2="1935.8" stroke="#000" stroke-width="6"/>
<line x1="194.3" y1="1950.8" x2="194.3" y2="1943.3" stroke="#000" stroke-width="6"/>
<line x1="299" y1="1950.8" x2="299" y2="1943.3" stroke="#000" stroke-width="6"/>
<line x1="404.5" y1="1950.8" x2="404.5" y2="1943.3" stroke="#000" stroke-width="6"/>
<line x1="552.8" y1="1950.8" x2="552.8" y2="1943.3" stroke="#000" stroke-width="6"/>
<line x1="672.3" y1="1950.8" x2="672.3" y2="1943.3" stroke="#000" stroke-width="6"/>
<line x1="792.2" y1="1950.8" x2="792.2" y2="1943.3" stroke="#000" stroke-width="6"/>
<line x1="911.8" y1="1950.8" x2="911.8" y2="1943.3" stroke="#000" stroke-width="6"/>
<path d="M500.5 1135 L516.5 1105 L531.5 1105 L515.5 1135 z" fill="#fff"/>
<line x1="500.5" y1="1135" x2="516.5" y2="1105" stroke="#000" stroke-width="6.2"/>
<line x1="515.5" y1="1135" x2="531.5" y2="1105" stroke="#000" stroke-width="6.2"/>
<path d="M500.5 1549.8 L516.5 1519.8 L531.5 1519.8 L515.5 1549.8 z" fill="#fff"/>
<line x1="500.5" y1="1549.8" x2="516.5" y2="1519.8" stroke="#000" stroke-width="6.2"/>
<line x1="515.5" y1="1549.8" x2="531.5" y2="1519.8" stroke="#000" stroke-width="6.2"/>
<path d="M500.5 1965.8 L516.5 1935.8 L531.5 1935.8 L515.5 1965.8 z" fill="#fff"/>
<line x1="500.5" y1="1965.8" x2="516.5" y2="1935.8" stroke="#000" stroke-width="6.2"/>
<line x1="515.5" y1="1965.8" x2="531.5" y2="1935.8" stroke="#000" stroke-width="6.2"/>
<line x1="429.1" y1="1255.8" x2="708.5" y2="1255.8" stroke="#000" stroke-width="5.7"/>
<path d="M413 1255.8 l23 -11 l0 22 z M724.6 1255.8 l-23 -11 l0 22 z" fill="#000"/>
<line x1="388.8" y1="1661.8" x2="671.7" y2="1661.8" stroke="#000" stroke-width="5.7"/>
<path d="M372.7 1661.8 l23 -11 l0 22 z M687.8 1661.8 l-23 -11 l0 22 z" fill="#000"/>
<line x1="192.6" y1="1342" x2="219.4" y2="1319.6" stroke="#000" stroke-width="3.5"/>
<path d="M228.6 1311.9 L221.7 1325.5 L214 1316.3 z" fill="#000"/>
<line x1="146" y1="1696.5" x2="175.3" y2="1711.4" stroke="#000" stroke-width="3.5"/>
<path d="M186 1716.8 L170.8 1715.8 L176.2 1705.1 z" fill="#000"/>
<text class="se" x="102.3" y="1165" font-size="44" textLength="50.6" lengthAdjust="spacingAndGlyphs">(c)</text>
<text class="se" x="99.8" y="1210.4" font-size="34" textLength="253" lengthAdjust="spacingAndGlyphs">W/O Nitridation</text>
<text class="se" x="98" y="1354.3" font-size="34" textLength="91.4" lengthAdjust="spacingAndGlyphs">Mo 3d</text>
<text class="se" x="191.3" y="1366.5" font-size="20" textLength="25.2" lengthAdjust="spacingAndGlyphs">3/2</text>
<text class="se" x="435.5" y="1217" font-size="49">E</text>
<text class="se" x="468" y="1235" font-size="29" textLength="77.5" lengthAdjust="spacingAndGlyphs">Mo 3d</text>
<text class="se" x="548.5" y="1244.7" font-size="19" textLength="23" lengthAdjust="spacingAndGlyphs">5/2</text>
<text class="se" x="572.5" y="1217" font-size="49">-</text>
<text class="se" x="588.8" y="1217" font-size="49">E</text>
<text class="se" x="621.5" y="1235" font-size="29" textLength="74" lengthAdjust="spacingAndGlyphs">Ga 3d</text>
<text class="se" x="478.5" y="1308.3" font-size="42" textLength="172.5" lengthAdjust="spacingAndGlyphs">208.70 eV</text>
<text class="se" x="749.5" y="1163.5" font-size="29.5" textLength="190" lengthAdjust="spacingAndGlyphs">Heterojunction</text>
<text class="se" x="98.3" y="1631.5" font-size="34" textLength="253.5" lengthAdjust="spacingAndGlyphs">With Nitridation</text>
<text class="se" x="101.5" y="1689.7" font-size="34" textLength="91.4" lengthAdjust="spacingAndGlyphs">Mo 3d</text>
<text class="se" x="194.8" y="1701.9" font-size="20" textLength="24.9" lengthAdjust="spacingAndGlyphs">3/2</text>
<text class="se" x="396" y="1623.4" font-size="49">E</text>
<text class="se" x="425.3" y="1642" font-size="29" textLength="80.5" lengthAdjust="spacingAndGlyphs">Mo 3d</text>
<text class="se" x="506.8" y="1651" font-size="19" textLength="23" lengthAdjust="spacingAndGlyphs">5/2</text>
<text class="se" x="531" y="1623.4" font-size="49">-</text>
<text class="se" x="546.8" y="1623.4" font-size="49">E</text>
<text class="se" x="579.5" y="1642" font-size="29" textLength="73" lengthAdjust="spacingAndGlyphs">Ga 3d</text>
<text class="se" x="433.5" y="1715.4" font-size="42" textLength="172.5" lengthAdjust="spacingAndGlyphs">208.95 eV</text>
<text class="se" x="747" y="1580" font-size="29.5" textLength="192" lengthAdjust="spacingAndGlyphs">Heterojunction</text>
<text class="se" x="141.5" y="2009" font-size="51.5" text-anchor="middle">234</text>
<text class="se" x="246.2" y="2009" font-size="51.5" text-anchor="middle">232</text>
<text class="se" x="351.2" y="2009" font-size="51.5" text-anchor="middle">230</text>
<text class="se" x="456" y="2009" font-size="51.5" text-anchor="middle">228</text>
<text class="se" x="612.3" y="2009" font-size="51.5" text-anchor="middle">22</text>
<text class="se" x="731.3" y="2009" font-size="51.5" text-anchor="middle">20</text>
<text class="se" x="851.7" y="2009" font-size="51.5" text-anchor="middle">18</text>
<text class="sa" x="222.3" y="2079.3" font-size="57" textLength="558" lengthAdjust="spacingAndGlyphs">Binding Energy (eV)</text>
<text class="sa" x="0" y="0" font-size="60" textLength="392.7" lengthAdjust="spacingAndGlyphs" transform="translate(44.6 1728.4) rotate(-90)">Intensity (a.u.)</text>
<g fill="#fff" stroke="#000" stroke-width="1.9" clip-path="url(#cd)">
<rect x="1174.2" y="1122.2" width="15.4" height="15.4"/><rect x="1176.3" y="1156.7" width="15.4" height="15.4"/><rect x="1178.4" y="1190.4" width="15.4" height="15.4"/><rect x="1180.5" y="1219" width="15.4" height="15.4"/><rect x="1182.6" y="1250.3" width="15.4" height="15.4"/><rect x="1184.7" y="1285" width="15.4" height="15.4"/><rect x="1186.8" y="1319.4" width="15.4" height="15.4"/><rect x="1188.9" y="1344.2" width="15.4" height="15.4"/><rect x="1191" y="1370.8" width="15.4" height="15.4"/><rect x="1193.1" y="1396.5" width="15.4" height="15.4"/><rect x="1195.2" y="1423.5" width="15.4" height="15.4"/><rect x="1197.3" y="1442.8" width="15.4" height="15.4"/><rect x="1199.4" y="1459.1" width="15.4" height="15.4"/><rect x="1201.5" y="1476.8" width="15.4" height="15.4"/><rect x="1203.6" y="1496.1" width="15.4" height="15.4"/><rect x="1205.7" y="1515.6" width="15.4" height="15.4"/><rect x="1207.8" y="1531" width="15.4" height="15.4"/><rect x="1209.9" y="1546.3" width="15.4" height="15.4"/><rect x="1212" y="1559.3" width="15.4" height="15.4"/><rect x="1214.1" y="1574.7" width="15.4" height="15.4"/><rect x="1216.2" y="1589" width="15.4" height="15.4"/><rect x="1218.3" y="1597.7" width="15.4" height="15.4"/><rect x="1220.4" y="1603.9" width="15.4" height="15.4"/><rect x="1222.5" y="1609.6" width="15.4" height="15.4"/><rect x="1224.6" y="1615.2" width="15.4" height="15.4"/><rect x="1226.7" y="1620.3" width="15.4" height="15.4"/><rect x="1228.8" y="1624.7" width="15.4" height="15.4"/><rect x="1230.9" y="1628.5" width="15.4" height="15.4"/><rect x="1233" y="1632.3" width="15.4" height="15.4"/><rect x="1235.1" y="1635.7" width="15.4" height="15.4"/><rect x="1237.2" y="1637.5" width="15.4" height="15.4"/><rect x="1239.3" y="1641.8" width="15.4" height="15.4"/><rect x="1241.4" y="1644.5" width="15.4" height="15.4"/><rect x="1243.5" y="1647" width="15.4" height="15.4"/><rect x="1245.6" y="1649.3" width="15.4" height="15.4"/><rect x="1247.7" y="1649.5" width="15.4" height="15.4"/><rect x="1249.8" y="1651" width="15.4" height="15.4"/><rect x="1251.9" y="1651.5" width="15.4" height="15.4"/><rect x="1254" y="1651.6" width="15.4" height="15.4"/><rect x="1256.1" y="1651.6" width="15.4" height="15.4"/><rect x="1258.2" y="1648.1" width="15.4" height="15.4"/><rect x="1260.3" y="1646.5" width="15.4" height="15.4"/><rect x="1262.4" y="1646.6" width="15.4" height="15.4"/><rect x="1264.5" y="1643" width="15.4" height="15.4"/><rect x="1266.6" y="1641.4" width="15.4" height="15.4"/><rect x="1268.7" y="1634.9" width="15.4" height="15.4"/><rect x="1270.8" y="1635.1" width="15.4" height="15.4"/><rect x="1272.9" y="1634" width="15.4" height="15.4"/><rect x="1275" y="1633.5" width="15.4" height="15.4"/><rect x="1277.1" y="1628.7" width="15.4" height="15.4"/><rect x="1279.2" y="1625.7" width="15.4" height="15.4"/><rect x="1281.3" y="1618.4" width="15.4" height="15.4"/><rect x="1283.4" y="1614.9" width="15.4" height="15.4"/><rect x="1285.5" y="1611.6" width="15.4" height="15.4"/><rect x="1287.6" y="1609.8" width="15.4" height="15.4"/><rect x="1289.7" y="1604.6" width="15.4" height="15.4"/><rect x="1291.8" y="1605" width="15.4" height="15.4"/><rect x="1293.9" y="1601.4" width="15.4" height="15.4"/><rect x="1296" y="1598.5" width="15.4" height="15.4"/><rect x="1298.1" y="1596.1" width="15.4" height="15.4"/><rect x="1300.2" y="1595.1" width="15.4" height="15.4"/><rect x="1302.3" y="1594.3" width="15.4" height="15.4"/><rect x="1304.4" y="1592.5" width="15.4" height="15.4"/><rect x="1306.5" y="1589.3" width="15.4" height="15.4"/><rect x="1308.6" y="1587.8" width="15.4" height="15.4"/><rect x="1310.7" y="1583.4" width="15.4" height="15.4"/><rect x="1312.8" y="1582.3" width="15.4" height="15.4"/><rect x="1314.9" y="1576.6" width="15.4" height="15.4"/><rect x="1317" y="1569.8" width="15.4" height="15.4"/><rect x="1319.1" y="1573.9" width="15.4" height="15.4"/><rect x="1321.2" y="1569.8" width="15.4" height="15.4"/><rect x="1323.3" y="1565.8" width="15.4" height="15.4"/><rect x="1325.4" y="1566.2" width="15.4" height="15.4"/><rect x="1327.5" y="1563.2" width="15.4" height="15.4"/><rect x="1329.6" y="1566.8" width="15.4" height="15.4"/><rect x="1331.7" y="1561.1" width="15.4" height="15.4"/><rect x="1333.8" y="1554" width="15.4" height="15.4"/><rect x="1335.9" y="1554.3" width="15.4" height="15.4"/><rect x="1338" y="1548.6" width="15.4" height="15.4"/><rect x="1340.1" y="1549" width="15.4" height="15.4"/><rect x="1342.2" y="1539.5" width="15.4" height="15.4"/><rect x="1344.3" y="1533.9" width="15.4" height="15.4"/><rect x="1346.4" y="1535.4" width="15.4" height="15.4"/><rect x="1348.5" y="1532.2" width="15.4" height="15.4"/><rect x="1350.6" y="1529.8" width="15.4" height="15.4"/><rect x="1352.7" y="1524.2" width="15.4" height="15.4"/><rect x="1354.8" y="1526.4" width="15.4" height="15.4"/><rect x="1356.9" y="1525.6" width="15.4" height="15.4"/><rect x="1359" y="1515.4" width="15.4" height="15.4"/><rect x="1361.1" y="1517.6" width="15.4" height="15.4"/><rect x="1363.2" y="1510.8" width="15.4" height="15.4"/><rect x="1365.3" y="1513" width="15.4" height="15.4"/><rect x="1367.4" y="1506.3" width="15.4" height="15.4"/><rect x="1369.5" y="1502.2" width="15.4" height="15.4"/><rect x="1371.6" y="1501.8" width="15.4" height="15.4"/><rect x="1373.7" y="1497.9" width="15.4" height="15.4"/><rect x="1375.8" y="1492.9" width="15.4" height="15.4"/><rect x="1377.9" y="1492.6" width="15.4" height="15.4"/><rect x="1380" y="1487.5" width="15.4" height="15.4"/><rect x="1382.1" y="1482.3" width="15.4" height="15.4"/><rect x="1384.2" y="1486.6" width="15.4" height="15.4"/><rect x="1386.3" y="1479.2" width="15.4" height="15.4"/><rect x="1388.4" y="1475.9" width="15.4" height="15.4"/><rect x="1390.5" y="1474.8" width="15.4" height="15.4"/><rect x="1392.6" y="1468" width="15.4" height="15.4"/><rect x="1394.7" y="1464.9" width="15.4" height="15.4"/><rect x="1396.8" y="1462.4" width="15.4" height="15.4"/><rect x="1398.9" y="1457.8" width="15.4" height="15.4"/><rect x="1401" y="1454.1" width="15.4" height="15.4"/><rect x="1403.1" y="1451.2" width="15.4" height="15.4"/><rect x="1405.2" y="1443.5" width="15.4" height="15.4"/><rect x="1407.3" y="1440.9" width="15.4" height="15.4"/><rect x="1409.4" y="1437" width="15.4" height="15.4"/><rect x="1411.5" y="1429.8" width="15.4" height="15.4"/><rect x="1413.6" y="1428.4" width="15.4" height="15.4"/><rect x="1415.7" y="1422.5" width="15.4" height="15.4"/><rect x="1417.8" y="1422.6" width="15.4" height="15.4"/><rect x="1419.9" y="1417.8" width="15.4" height="15.4"/><rect x="1422" y="1413.7" width="15.4" height="15.4"/><rect x="1424.1" y="1408.3" width="15.4" height="15.4"/><rect x="1426.2" y="1408.7" width="15.4" height="15.4"/><rect x="1428.3" y="1404.6" width="15.4" height="15.4"/><rect x="1430.4" y="1405.1" width="15.4" height="15.4"/><rect x="1432.5" y="1401.9" width="15.4" height="15.4"/><rect x="1434.6" y="1399.8" width="15.4" height="15.4"/><rect x="1436.7" y="1403.5" width="15.4" height="15.4"/><rect x="1438.8" y="1405.1" width="15.4" height="15.4"/><rect x="1440.9" y="1405.7" width="15.4" height="15.4"/><rect x="1443" y="1412.8" width="15.4" height="15.4"/><rect x="1445.1" y="1413.8" width="15.4" height="15.4"/><rect x="1447.2" y="1416.8" width="15.4" height="15.4"/><rect x="1449.3" y="1415.1" width="15.4" height="15.4"/><rect x="1451.4" y="1407.3" width="15.4" height="15.4"/><rect x="1453.5" y="1409" width="15.4" height="15.4"/><rect x="1455.6" y="1410.9" width="15.4" height="15.4"/><rect x="1457.7" y="1415.6" width="15.4" height="15.4"/><rect x="1459.8" y="1417.2" width="15.4" height="15.4"/><rect x="1461.9" y="1415.8" width="15.4" height="15.4"/><rect x="1464" y="1423.4" width="15.4" height="15.4"/><rect x="1466.1" y="1423.5" width="15.4" height="15.4"/><rect x="1468.2" y="1423.2" width="15.4" height="15.4"/><rect x="1470.3" y="1423.3" width="15.4" height="15.4"/><rect x="1472.4" y="1421.8" width="15.4" height="15.4"/><rect x="1474.5" y="1426.2" width="15.4" height="15.4"/><rect x="1476.6" y="1423" width="15.4" height="15.4"/><rect x="1478.7" y="1421.7" width="15.4" height="15.4"/><rect x="1480.8" y="1432.7" width="15.4" height="15.4"/><rect x="1482.9" y="1432.4" width="15.4" height="15.4"/><rect x="1485" y="1432.9" width="15.4" height="15.4"/><rect x="1487.1" y="1427.2" width="15.4" height="15.4"/><rect x="1489.2" y="1433.4" width="15.4" height="15.4"/><rect x="1491.3" y="1431.3" width="15.4" height="15.4"/><rect x="1493.4" y="1429.3" width="15.4" height="15.4"/><rect x="1495.5" y="1427.1" width="15.4" height="15.4"/><rect x="1497.6" y="1425.9" width="15.4" height="15.4"/><rect x="1499.7" y="1419.6" width="15.4" height="15.4"/><rect x="1501.8" y="1418.1" width="15.4" height="15.4"/><rect x="1503.9" y="1411.7" width="15.4" height="15.4"/><rect x="1506" y="1409.4" width="15.4" height="15.4"/><rect x="1508.1" y="1409.5" width="15.4" height="15.4"/><rect x="1510.2" y="1406.2" width="15.4" height="15.4"/><rect x="1512.3" y="1400.9" width="15.4" height="15.4"/><rect x="1514.4" y="1402.1" width="15.4" height="15.4"/><rect x="1516.5" y="1399.2" width="15.4" height="15.4"/><rect x="1518.6" y="1396.3" width="15.4" height="15.4"/><rect x="1520.7" y="1397" width="15.4" height="15.4"/><rect x="1522.8" y="1393.8" width="15.4" height="15.4"/><rect x="1524.9" y="1389.7" width="15.4" height="15.4"/><rect x="1527" y="1388.4" width="15.4" height="15.4"/><rect x="1529.1" y="1391.2" width="15.4" height="15.4"/><rect x="1531.2" y="1381.6" width="15.4" height="15.4"/><rect x="1533.3" y="1381.4" width="15.4" height="15.4"/><rect x="1535.4" y="1378.9" width="15.4" height="15.4"/><rect x="1537.5" y="1376.4" width="15.4" height="15.4"/><rect x="1539.6" y="1371.2" width="15.4" height="15.4"/><rect x="1541.7" y="1372.3" width="15.4" height="15.4"/><rect x="1543.8" y="1373" width="15.4" height="15.4"/><rect x="1545.9" y="1374.3" width="15.4" height="15.4"/><rect x="1548" y="1371.6" width="15.4" height="15.4"/><rect x="1550.1" y="1370.5" width="15.4" height="15.4"/><rect x="1552.2" y="1374.4" width="15.4" height="15.4"/><rect x="1554.3" y="1374.1" width="15.4" height="15.4"/><rect x="1556.4" y="1371.9" width="15.4" height="15.4"/><rect x="1558.5" y="1368.9" width="15.4" height="15.4"/><rect x="1560.6" y="1369.6" width="15.4" height="15.4"/><rect x="1562.7" y="1367.7" width="15.4" height="15.4"/><rect x="1564.8" y="1367.8" width="15.4" height="15.4"/><rect x="1566.9" y="1362.7" width="15.4" height="15.4"/><rect x="1569" y="1364.3" width="15.4" height="15.4"/><rect x="1571.1" y="1362.9" width="15.4" height="15.4"/><rect x="1573.2" y="1360.7" width="15.4" height="15.4"/><rect x="1575.3" y="1363.6" width="15.4" height="15.4"/><rect x="1577.4" y="1364.2" width="15.4" height="15.4"/><rect x="1579.5" y="1365" width="15.4" height="15.4"/><rect x="1581.6" y="1368.9" width="15.4" height="15.4"/><rect x="1583.7" y="1368.1" width="15.4" height="15.4"/><rect x="1585.8" y="1373.6" width="15.4" height="15.4"/><rect x="1587.9" y="1377.7" width="15.4" height="15.4"/><rect x="1590" y="1380.2" width="15.4" height="15.4"/><rect x="1592.1" y="1383.8" width="15.4" height="15.4"/><rect x="1594.2" y="1380.6" width="15.4" height="15.4"/><rect x="1596.3" y="1380" width="15.4" height="15.4"/><rect x="1598.4" y="1382.8" width="15.4" height="15.4"/><rect x="1600.5" y="1382.4" width="15.4" height="15.4"/><rect x="1602.6" y="1384.7" width="15.4" height="15.4"/><rect x="1604.7" y="1380.9" width="15.4" height="15.4"/><rect x="1606.8" y="1377" width="15.4" height="15.4"/><rect x="1608.9" y="1379.1" width="15.4" height="15.4"/><rect x="1611" y="1374.5" width="15.4" height="15.4"/><rect x="1613.1" y="1371.5" width="15.4" height="15.4"/><rect x="1615.2" y="1377.2" width="15.4" height="15.4"/><rect x="1617.3" y="1370.7" width="15.4" height="15.4"/><rect x="1619.4" y="1369.4" width="15.4" height="15.4"/><rect x="1621.5" y="1367.4" width="15.4" height="15.4"/><rect x="1623.6" y="1368.5" width="15.4" height="15.4"/><rect x="1625.7" y="1364.8" width="15.4" height="15.4"/><rect x="1627.8" y="1366.2" width="15.4" height="15.4"/><rect x="1629.9" y="1361.8" width="15.4" height="15.4"/><rect x="1632" y="1361" width="15.4" height="15.4"/><rect x="1634.1" y="1366.2" width="15.4" height="15.4"/><rect x="1636.2" y="1365.7" width="15.4" height="15.4"/><rect x="1638.3" y="1362.7" width="15.4" height="15.4"/><rect x="1640.4" y="1359.8" width="15.4" height="15.4"/><rect x="1642.5" y="1355.9" width="15.4" height="15.4"/><rect x="1644.6" y="1349.8" width="15.4" height="15.4"/><rect x="1646.7" y="1349.9" width="15.4" height="15.4"/><rect x="1648.8" y="1345.2" width="15.4" height="15.4"/><rect x="1650.9" y="1343.4" width="15.4" height="15.4"/><rect x="1653" y="1342.1" width="15.4" height="15.4"/><rect x="1655.1" y="1342.5" width="15.4" height="15.4"/><rect x="1657.2" y="1341" width="15.4" height="15.4"/><rect x="1659.3" y="1341.3" width="15.4" height="15.4"/><rect x="1661.4" y="1337.6" width="15.4" height="15.4"/><rect x="1663.5" y="1340" width="15.4" height="15.4"/><rect x="1665.6" y="1342" width="15.4" height="15.4"/><rect x="1667.7" y="1335.3" width="15.4" height="15.4"/><rect x="1669.8" y="1334.2" width="15.4" height="15.4"/><rect x="1671.9" y="1333.7" width="15.4" height="15.4"/><rect x="1674" y="1330.9" width="15.4" height="15.4"/><rect x="1676.1" y="1326.5" width="15.4" height="15.4"/><rect x="1678.2" y="1317.9" width="15.4" height="15.4"/><rect x="1680.3" y="1317.6" width="15.4" height="15.4"/><rect x="1682.4" y="1310.9" width="15.4" height="15.4"/><rect x="1684.5" y="1309" width="15.4" height="15.4"/><rect x="1686.6" y="1309.8" width="15.4" height="15.4"/><rect x="1688.7" y="1306.9" width="15.4" height="15.4"/><rect x="1690.8" y="1307.9" width="15.4" height="15.4"/><rect x="1692.9" y="1311.1" width="15.4" height="15.4"/><rect x="1695" y="1305" width="15.4" height="15.4"/><rect x="1697.1" y="1303" width="15.4" height="15.4"/><rect x="1699.2" y="1297.9" width="15.4" height="15.4"/><rect x="1701.3" y="1296.2" width="15.4" height="15.4"/><rect x="1703.4" y="1293.4" width="15.4" height="15.4"/><rect x="1705.5" y="1292.3" width="15.4" height="15.4"/><rect x="1707.6" y="1289.1" width="15.4" height="15.4"/><rect x="1709.7" y="1287.4" width="15.4" height="15.4"/><rect x="1711.8" y="1285.4" width="15.4" height="15.4"/><rect x="1713.9" y="1280.8" width="15.4" height="15.4"/><rect x="1716" y="1276.8" width="15.4" height="15.4"/><rect x="1718.1" y="1273.7" width="15.4" height="15.4"/><rect x="1720.2" y="1274.2" width="15.4" height="15.4"/><rect x="1722.3" y="1270.7" width="15.4" height="15.4"/><rect x="1724.4" y="1269.8" width="15.4" height="15.4"/><rect x="1726.5" y="1266.9" width="15.4" height="15.4"/><rect x="1728.6" y="1261" width="15.4" height="15.4"/><rect x="1730.7" y="1258.9" width="15.4" height="15.4"/><rect x="1732.8" y="1250.1" width="15.4" height="15.4"/><rect x="1734.9" y="1251.4" width="15.4" height="15.4"/><rect x="1737" y="1243" width="15.4" height="15.4"/><rect x="1739.1" y="1233.6" width="15.4" height="15.4"/><rect x="1741.2" y="1225" width="15.4" height="15.4"/><rect x="1743.3" y="1220.9" width="15.4" height="15.4"/><rect x="1745.4" y="1209.2" width="15.4" height="15.4"/><rect x="1747.5" y="1203.7" width="15.4" height="15.4"/><rect x="1749.6" y="1199.1" width="15.4" height="15.4"/><rect x="1751.7" y="1190.3" width="15.4" height="15.4"/><rect x="1753.8" y="1181.6" width="15.4" height="15.4"/><rect x="1755.9" y="1176.7" width="15.4" height="15.4"/><rect x="1758" y="1165.8" width="15.4" height="15.4"/><rect x="1760.1" y="1161.4" width="15.4" height="15.4"/><rect x="1762.2" y="1153.4" width="15.4" height="15.4"/><rect x="1764.3" y="1147" width="15.4" height="15.4"/><rect x="1766.4" y="1145" width="15.4" height="15.4"/><rect x="1768.5" y="1138.9" width="15.4" height="15.4"/><rect x="1770.6" y="1141.6" width="15.4" height="15.4"/><rect x="1772.7" y="1134.4" width="15.4" height="15.4"/><rect x="1774.8" y="1136.7" width="15.4" height="15.4"/><rect x="1776.9" y="1128.1" width="15.4" height="15.4"/><rect x="1779" y="1128.1" width="15.4" height="15.4"/><rect x="1781.1" y="1121.1" width="15.4" height="15.4"/><rect x="1783.2" y="1117.2" width="15.4" height="15.4"/><rect x="1785.3" y="1116.2" width="15.4" height="15.4"/><rect x="1787.4" y="1113.4" width="15.4" height="15.4"/><rect x="1789.5" y="1106" width="15.4" height="15.4"/><rect x="1791.6" y="1107.1" width="15.4" height="15.4"/><rect x="1793.7" y="1099.8" width="15.4" height="15.4"/><rect x="1795.8" y="1098" width="15.4" height="15.4"/><rect x="1797.9" y="1094.8" width="15.4" height="15.4"/>
</g>
<g fill="#fff" stroke="#000" stroke-width="1.9" clip-path="url(#cd)">
<circle cx="1161.5" cy="1177.1" r="8.8"/><circle cx="1163.6" cy="1253" r="8.8"/><circle cx="1165.7" cy="1307.4" r="8.8"/><circle cx="1167.8" cy="1352.8" r="8.8"/><circle cx="1169.9" cy="1391.2" r="8.8"/><circle cx="1172" cy="1438.8" r="8.8"/><circle cx="1174.1" cy="1474" r="8.8"/><circle cx="1176.2" cy="1506.8" r="8.8"/><circle cx="1178.3" cy="1536.9" r="8.8"/><circle cx="1180.4" cy="1563.3" r="8.8"/><circle cx="1182.5" cy="1584.7" r="8.8"/><circle cx="1184.6" cy="1603.5" r="8.8"/><circle cx="1186.7" cy="1623.5" r="8.8"/><circle cx="1188.8" cy="1647.4" r="8.8"/><circle cx="1190.9" cy="1668.1" r="8.8"/><circle cx="1193" cy="1685.1" r="8.8"/><circle cx="1195.1" cy="1699.1" r="8.8"/><circle cx="1197.2" cy="1711.6" r="8.8"/><circle cx="1199.3" cy="1723.6" r="8.8"/><circle cx="1201.4" cy="1736.4" r="8.8"/><circle cx="1203.5" cy="1749.4" r="8.8"/><circle cx="1205.6" cy="1759.9" r="8.8"/><circle cx="1207.7" cy="1768.7" r="8.8"/><circle cx="1209.8" cy="1776.3" r="8.8"/><circle cx="1211.9" cy="1782.3" r="8.8"/><circle cx="1214" cy="1787.3" r="8.8"/><circle cx="1216.1" cy="1792" r="8.8"/><circle cx="1218.2" cy="1795.6" r="8.8"/><circle cx="1220.3" cy="1797.9" r="8.8"/><circle cx="1222.4" cy="1801.2" r="8.8"/><circle cx="1224.5" cy="1803.5" r="8.8"/><circle cx="1226.6" cy="1804.9" r="8.8"/><circle cx="1228.7" cy="1806.3" r="8.8"/><circle cx="1230.8" cy="1807.2" r="8.8"/><circle cx="1232.9" cy="1809.3" r="8.8"/><circle cx="1235" cy="1810.6" r="8.8"/><circle cx="1237.1" cy="1809.8" r="8.8"/><circle cx="1239.2" cy="1810.6" r="8.8"/><circle cx="1241.3" cy="1809.5" r="8.8"/><circle cx="1243.4" cy="1807.7" r="8.8"/><circle cx="1245.5" cy="1808.6" r="8.8"/><circle cx="1247.6" cy="1812.3" r="8.8"/><circle cx="1249.7" cy="1812.1" r="8.8"/><circle cx="1251.8" cy="1814.7" r="8.8"/><circle cx="1253.9" cy="1812.2" r="8.8"/><circle cx="1256" cy="1814.1" r="8.8"/><circle cx="1258.1" cy="1815.2" r="8.8"/><circle cx="1260.2" cy="1814.6" r="8.8"/><circle cx="1262.3" cy="1811.3" r="8.8"/><circle cx="1264.4" cy="1811.5" r="8.8"/><circle cx="1266.5" cy="1811.5" r="8.8"/><circle cx="1268.6" cy="1808.6" r="8.8"/><circle cx="1270.7" cy="1810.6" r="8.8"/><circle cx="1272.8" cy="1811" r="8.8"/><circle cx="1274.9" cy="1807.4" r="8.8"/><circle cx="1277" cy="1811.6" r="8.8"/><circle cx="1279.1" cy="1807" r="8.8"/><circle cx="1281.2" cy="1807.3" r="8.8"/><circle cx="1283.3" cy="1807.5" r="8.8"/><circle cx="1285.4" cy="1805.6" r="8.8"/><circle cx="1287.5" cy="1805.1" r="8.8"/><circle cx="1289.6" cy="1800.7" r="8.8"/><circle cx="1291.7" cy="1799.8" r="8.8"/><circle cx="1293.8" cy="1793.9" r="8.8"/><circle cx="1295.9" cy="1790.7" r="8.8"/><circle cx="1298" cy="1786.4" r="8.8"/><circle cx="1300.1" cy="1781.4" r="8.8"/><circle cx="1302.2" cy="1781.1" r="8.8"/><circle cx="1304.3" cy="1776.8" r="8.8"/><circle cx="1306.4" cy="1777.2" r="8.8"/><circle cx="1308.5" cy="1772" r="8.8"/><circle cx="1310.6" cy="1771.8" r="8.8"/><circle cx="1312.7" cy="1766.5" r="8.8"/><circle cx="1314.8" cy="1763.2" r="8.8"/><circle cx="1316.9" cy="1758.8" r="8.8"/><circle cx="1319" cy="1755.6" r="8.8"/><circle cx="1321.1" cy="1753.6" r="8.8"/><circle cx="1323.2" cy="1751.2" r="8.8"/><circle cx="1325.3" cy="1745.5" r="8.8"/><circle cx="1327.4" cy="1745.1" r="8.8"/><circle cx="1329.5" cy="1746.6" r="8.8"/><circle cx="1331.6" cy="1738.9" r="8.8"/><circle cx="1333.7" cy="1735.8" r="8.8"/><circle cx="1335.8" cy="1731.9" r="8.8"/><circle cx="1337.9" cy="1727.1" r="8.8"/><circle cx="1340" cy="1728.5" r="8.8"/><circle cx="1342.1" cy="1722.5" r="8.8"/><circle cx="1344.2" cy="1719.3" r="8.8"/><circle cx="1346.3" cy="1718.7" r="8.8"/><circle cx="1348.4" cy="1716.8" r="8.8"/><circle cx="1350.5" cy="1707.3" r="8.8"/><circle cx="1352.6" cy="1708.1" r="8.8"/><circle cx="1354.7" cy="1704.3" r="8.8"/><circle cx="1356.8" cy="1701.1" r="8.8"/><circle cx="1358.9" cy="1698.5" r="8.8"/><circle cx="1361" cy="1694.9" r="8.8"/><circle cx="1363.1" cy="1695.5" r="8.8"/><circle cx="1365.2" cy="1691.2" r="8.8"/><circle cx="1367.3" cy="1688" r="8.8"/><circle cx="1369.4" cy="1686.8" r="8.8"/><circle cx="1371.5" cy="1682.9" r="8.8"/><circle cx="1373.6" cy="1678.7" r="8.8"/><circle cx="1375.7" cy="1675.2" r="8.8"/><circle cx="1377.8" cy="1674.8" r="8.8"/><circle cx="1379.9" cy="1669.7" r="8.8"/><circle cx="1382" cy="1666.1" r="8.8"/><circle cx="1384.1" cy="1662.1" r="8.8"/><circle cx="1386.2" cy="1660.6" r="8.8"/><circle cx="1388.3" cy="1656.5" r="8.8"/><circle cx="1390.4" cy="1655.9" r="8.8"/><circle cx="1392.5" cy="1653.4" r="8.8"/><circle cx="1394.6" cy="1646.3" r="8.8"/><circle cx="1396.7" cy="1647.5" r="8.8"/><circle cx="1398.8" cy="1646.1" r="8.8"/><circle cx="1400.9" cy="1642.6" r="8.8"/><circle cx="1403" cy="1638.1" r="8.8"/><circle cx="1405.1" cy="1640.2" r="8.8"/><circle cx="1407.2" cy="1634.5" r="8.8"/><circle cx="1409.3" cy="1631.8" r="8.8"/><circle cx="1411.4" cy="1630.4" r="8.8"/><circle cx="1413.5" cy="1630.6" r="8.8"/><circle cx="1415.6" cy="1630.6" r="8.8"/><circle cx="1417.7" cy="1628.9" r="8.8"/><circle cx="1419.8" cy="1625.1" r="8.8"/><circle cx="1421.9" cy="1620.6" r="8.8"/><circle cx="1424" cy="1619.9" r="8.8"/><circle cx="1426.1" cy="1617.9" r="8.8"/><circle cx="1428.2" cy="1617.9" r="8.8"/><circle cx="1430.3" cy="1613.9" r="8.8"/><circle cx="1432.4" cy="1617" r="8.8"/><circle cx="1434.5" cy="1617.9" r="8.8"/><circle cx="1436.6" cy="1616.6" r="8.8"/><circle cx="1438.7" cy="1618.4" r="8.8"/><circle cx="1440.8" cy="1616.6" r="8.8"/><circle cx="1442.9" cy="1616.5" r="8.8"/><circle cx="1445" cy="1619" r="8.8"/><circle cx="1447.1" cy="1623.6" r="8.8"/><circle cx="1449.2" cy="1625.7" r="8.8"/><circle cx="1451.3" cy="1626.2" r="8.8"/><circle cx="1453.4" cy="1632.8" r="8.8"/><circle cx="1455.5" cy="1633.3" r="8.8"/><circle cx="1457.6" cy="1641.4" r="8.8"/><circle cx="1459.7" cy="1643" r="8.8"/><circle cx="1461.8" cy="1642.9" r="8.8"/><circle cx="1463.9" cy="1646.6" r="8.8"/><circle cx="1466" cy="1645.4" r="8.8"/><circle cx="1468.1" cy="1647.9" r="8.8"/><circle cx="1470.2" cy="1649.7" r="8.8"/><circle cx="1472.3" cy="1654.8" r="8.8"/><circle cx="1474.4" cy="1654.5" r="8.8"/><circle cx="1476.5" cy="1654.3" r="8.8"/><circle cx="1478.6" cy="1653.6" r="8.8"/><circle cx="1480.7" cy="1657.2" r="8.8"/><circle cx="1482.8" cy="1654.3" r="8.8"/><circle cx="1484.9" cy="1655.2" r="8.8"/><circle cx="1487" cy="1660.8" r="8.8"/><circle cx="1489.1" cy="1662.5" r="8.8"/><circle cx="1491.2" cy="1661.1" r="8.8"/><circle cx="1493.3" cy="1657.6" r="8.8"/><circle cx="1495.4" cy="1660" r="8.8"/><circle cx="1497.5" cy="1662.1" r="8.8"/><circle cx="1499.6" cy="1660.4" r="8.8"/><circle cx="1501.7" cy="1662.4" r="8.8"/><circle cx="1503.8" cy="1655.6" r="8.8"/><circle cx="1505.9" cy="1657.7" r="8.8"/><circle cx="1508" cy="1653.1" r="8.8"/><circle cx="1510.1" cy="1654.6" r="8.8"/><circle cx="1512.2" cy="1649.9" r="8.8"/><circle cx="1514.3" cy="1650.3" r="8.8"/><circle cx="1516.4" cy="1645.9" r="8.8"/><circle cx="1518.5" cy="1643.8" r="8.8"/><circle cx="1520.6" cy="1644.5" r="8.8"/><circle cx="1522.7" cy="1646.1" r="8.8"/><circle cx="1524.8" cy="1646.4" r="8.8"/><circle cx="1526.9" cy="1652" r="8.8"/><circle cx="1529" cy="1653.8" r="8.8"/><circle cx="1531.1" cy="1653.4" r="8.8"/><circle cx="1533.2" cy="1652.5" r="8.8"/><circle cx="1535.3" cy="1656.8" r="8.8"/><circle cx="1537.4" cy="1658.7" r="8.8"/><circle cx="1539.5" cy="1665.1" r="8.8"/><circle cx="1541.6" cy="1663.6" r="8.8"/><circle cx="1543.7" cy="1662.4" r="8.8"/><circle cx="1545.8" cy="1657.8" r="8.8"/><circle cx="1547.9" cy="1651.5" r="8.8"/><circle cx="1550" cy="1651.4" r="8.8"/><circle cx="1552.1" cy="1650.2" r="8.8"/><circle cx="1554.2" cy="1653.2" r="8.8"/><circle cx="1556.3" cy="1653.1" r="8.8"/><circle cx="1558.4" cy="1652.2" r="8.8"/><circle cx="1560.5" cy="1653.9" r="8.8"/><circle cx="1562.6" cy="1658.7" r="8.8"/><circle cx="1564.7" cy="1654.7" r="8.8"/><circle cx="1566.8" cy="1655.9" r="8.8"/><circle cx="1568.9" cy="1659" r="8.8"/><circle cx="1571" cy="1660.1" r="8.8"/><circle cx="1573.1" cy="1662.2" r="8.8"/><circle cx="1575.2" cy="1664.9" r="8.8"/><circle cx="1577.3" cy="1666.7" r="8.8"/><circle cx="1579.4" cy="1658.6" r="8.8"/><circle cx="1581.5" cy="1660.2" r="8.8"/><circle cx="1583.6" cy="1658.6" r="8.8"/><circle cx="1585.7" cy="1657.2" r="8.8"/><circle cx="1587.8" cy="1656.6" r="8.8"/><circle cx="1589.9" cy="1656" r="8.8"/><circle cx="1592" cy="1658.1" r="8.8"/><circle cx="1594.1" cy="1654.8" r="8.8"/><circle cx="1596.2" cy="1655" r="8.8"/><circle cx="1598.3" cy="1654.9" r="8.8"/><circle cx="1600.4" cy="1655" r="8.8"/><circle cx="1602.5" cy="1655.1" r="8.8"/><circle cx="1604.6" cy="1658.8" r="8.8"/><circle cx="1606.7" cy="1658.9" r="8.8"/><circle cx="1608.8" cy="1661.4" r="8.8"/><circle cx="1610.9" cy="1663" r="8.8"/><circle cx="1613" cy="1662.8" r="8.8"/><circle cx="1615.1" cy="1664.1" r="8.8"/><circle cx="1617.2" cy="1664" r="8.8"/><circle cx="1619.3" cy="1666.4" r="8.8"/><circle cx="1621.4" cy="1664.7" r="8.8"/><circle cx="1623.5" cy="1664.1" r="8.8"/><circle cx="1625.6" cy="1666.5" r="8.8"/><circle cx="1627.7" cy="1666.8" r="8.8"/><circle cx="1629.8" cy="1662" r="8.8"/><circle cx="1631.9" cy="1667.7" r="8.8"/><circle cx="1634" cy="1663.5" r="8.8"/><circle cx="1636.1" cy="1661.4" r="8.8"/><circle cx="1638.2" cy="1661.5" r="8.8"/><circle cx="1640.3" cy="1657.5" r="8.8"/><circle cx="1642.4" cy="1654.4" r="8.8"/><circle cx="1644.5" cy="1658.5" r="8.8"/><circle cx="1646.6" cy="1651.7" r="8.8"/><circle cx="1648.7" cy="1653.5" r="8.8"/><circle cx="1650.8" cy="1655.5" r="8.8"/><circle cx="1652.9" cy="1652.1" r="8.8"/><circle cx="1655" cy="1654.2" r="8.8"/><circle cx="1657.1" cy="1655.3" r="8.8"/><circle cx="1659.2" cy="1659.1" r="8.8"/><circle cx="1661.3" cy="1652.5" r="8.8"/><circle cx="1663.4" cy="1653.2" r="8.8"/><circle cx="1665.5" cy="1652.7" r="8.8"/><circle cx="1667.6" cy="1649.1" r="8.8"/><circle cx="1669.7" cy="1643.9" r="8.8"/><circle cx="1671.8" cy="1644.3" r="8.8"/><circle cx="1673.9" cy="1641.6" r="8.8"/><circle cx="1676" cy="1640.6" r="8.8"/><circle cx="1678.1" cy="1640.5" r="8.8"/><circle cx="1680.2" cy="1638.6" r="8.8"/><circle cx="1682.3" cy="1635.5" r="8.8"/><circle cx="1684.4" cy="1633.1" r="8.8"/><circle cx="1686.5" cy="1627.9" r="8.8"/><circle cx="1688.6" cy="1627.3" r="8.8"/><circle cx="1690.7" cy="1625.7" r="8.8"/><circle cx="1692.8" cy="1622.4" r="8.8"/><circle cx="1694.9" cy="1621.5" r="8.8"/><circle cx="1697" cy="1618" r="8.8"/><circle cx="1699.1" cy="1620.8" r="8.8"/><circle cx="1701.2" cy="1620.2" r="8.8"/><circle cx="1703.3" cy="1613.5" r="8.8"/><circle cx="1705.4" cy="1613.1" r="8.8"/><circle cx="1707.5" cy="1610" r="8.8"/><circle cx="1709.6" cy="1610.8" r="8.8"/><circle cx="1711.7" cy="1607" r="8.8"/><circle cx="1713.8" cy="1603.7" r="8.8"/><circle cx="1715.9" cy="1600.1" r="8.8"/><circle cx="1718" cy="1596.9" r="8.8"/><circle cx="1720.1" cy="1589.7" r="8.8"/><circle cx="1722.2" cy="1586.9" r="8.8"/><circle cx="1724.3" cy="1578" r="8.8"/><circle cx="1726.4" cy="1574.2" r="8.8"/><circle cx="1728.5" cy="1567.7" r="8.8"/><circle cx="1730.6" cy="1564.4" r="8.8"/><circle cx="1732.7" cy="1558.1" r="8.8"/><circle cx="1734.8" cy="1556.5" r="8.8"/><circle cx="1736.9" cy="1549.3" r="8.8"/><circle cx="1739" cy="1548.8" r="8.8"/><circle cx="1741.1" cy="1543.8" r="8.8"/><circle cx="1743.2" cy="1541.3" r="8.8"/><circle cx="1745.3" cy="1537.9" r="8.8"/><circle cx="1747.4" cy="1536.4" r="8.8"/><circle cx="1749.5" cy="1527.6" r="8.8"/><circle cx="1751.6" cy="1528.8" r="8.8"/><circle cx="1753.7" cy="1521.7" r="8.8"/><circle cx="1755.8" cy="1522.9" r="8.8"/><circle cx="1757.9" cy="1512.6" r="8.8"/><circle cx="1760" cy="1510.2" r="8.8"/><circle cx="1762.1" cy="1504.8" r="8.8"/><circle cx="1764.2" cy="1507.2" r="8.8"/><circle cx="1766.3" cy="1497.9" r="8.8"/><circle cx="1768.4" cy="1496.9" r="8.8"/><circle cx="1770.5" cy="1491.8" r="8.8"/><circle cx="1772.6" cy="1485.3" r="8.8"/><circle cx="1774.7" cy="1484" r="8.8"/><circle cx="1776.8" cy="1481.8" r="8.8"/><circle cx="1778.9" cy="1476.1" r="8.8"/><circle cx="1781" cy="1474.3" r="8.8"/><circle cx="1783.1" cy="1468.1" r="8.8"/><circle cx="1785.2" cy="1465.3" r="8.8"/><circle cx="1787.3" cy="1461.1" r="8.8"/><circle cx="1789.4" cy="1459" r="8.8"/><circle cx="1791.5" cy="1458.3" r="8.8"/><circle cx="1793.6" cy="1451.4" r="8.8"/><circle cx="1795.7" cy="1446.6" r="8.8"/><circle cx="1797.8" cy="1440" r="8.8"/><circle cx="1799.9" cy="1434.2" r="8.8"/><circle cx="1802" cy="1432.5" r="8.8"/><circle cx="1804.1" cy="1421.5" r="8.8"/><circle cx="1806.2" cy="1414.5" r="8.8"/><circle cx="1808.3" cy="1409.1" r="8.8"/><circle cx="1810.4" cy="1404" r="8.8"/><circle cx="1812.5" cy="1405.6" r="8.8"/><circle cx="1814.6" cy="1395" r="8.8"/><circle cx="1816.7" cy="1398.2" r="8.8"/><circle cx="1818.8" cy="1397" r="8.8"/><circle cx="1820.9" cy="1391.7" r="8.8"/><circle cx="1823" cy="1390.4" r="8.8"/><circle cx="1825.1" cy="1389.9" r="8.8"/><circle cx="1827.2" cy="1389.1" r="8.8"/><circle cx="1829.3" cy="1381" r="8.8"/><circle cx="1831.4" cy="1376.6" r="8.8"/><circle cx="1833.5" cy="1378.5" r="8.8"/><circle cx="1835.6" cy="1377" r="8.8"/><circle cx="1837.7" cy="1371.5" r="8.8"/><circle cx="1839.8" cy="1366.3" r="8.8"/><circle cx="1841.9" cy="1372" r="8.8"/><circle cx="1844" cy="1367.5" r="8.8"/><circle cx="1846.1" cy="1368.5" r="8.8"/><circle cx="1848.2" cy="1364.5" r="8.8"/><circle cx="1850.3" cy="1361.8" r="8.8"/><circle cx="1852.4" cy="1359" r="8.8"/><circle cx="1854.5" cy="1359.4" r="8.8"/><circle cx="1856.6" cy="1355.5" r="8.8"/><circle cx="1858.7" cy="1344.5" r="8.8"/><circle cx="1860.8" cy="1342.6" r="8.8"/><circle cx="1862.9" cy="1343.7" r="8.8"/><circle cx="1865" cy="1336.1" r="8.8"/><circle cx="1867.1" cy="1331.3" r="8.8"/><circle cx="1869.2" cy="1331.3" r="8.8"/><circle cx="1871.3" cy="1328.9" r="8.8"/><circle cx="1873.4" cy="1327.2" r="8.8"/><circle cx="1875.5" cy="1325.1" r="8.8"/><circle cx="1877.6" cy="1324.5" r="8.8"/><circle cx="1879.7" cy="1323.6" r="8.8"/><circle cx="1881.8" cy="1324.5" r="8.8"/><circle cx="1883.9" cy="1321.6" r="8.8"/><circle cx="1886" cy="1321.8" r="8.8"/><circle cx="1888.1" cy="1321" r="8.8"/><circle cx="1890.2" cy="1322.5" r="8.8"/><circle cx="1892.3" cy="1319.2" r="8.8"/><circle cx="1894.4" cy="1316.9" r="8.8"/><circle cx="1896.5" cy="1316.9" r="8.8"/><circle cx="1898.6" cy="1315.7" r="8.8"/><circle cx="1900.7" cy="1316.4" r="8.8"/><circle cx="1902.8" cy="1315.3" r="8.8"/><circle cx="1904.9" cy="1318.1" r="8.8"/><circle cx="1907" cy="1318" r="8.8"/><circle cx="1909.1" cy="1316" r="8.8"/><circle cx="1911.2" cy="1315.9" r="8.8"/><circle cx="1913.3" cy="1319.7" r="8.8"/><circle cx="1915.4" cy="1322.1" r="8.8"/><circle cx="1917.5" cy="1324.9" r="8.8"/><circle cx="1919.6" cy="1326.6" r="8.8"/><circle cx="1921.7" cy="1330.9" r="8.8"/><circle cx="1923.8" cy="1340.9" r="8.8"/>
</g>
<line x1="1284.2" y1="1586.5" x2="1284.2" y2="1843" stroke="#00f" stroke-width="6.5" stroke-dasharray="21.3 27.9" stroke-dashoffset="9.9"/>
<line x1="1217.8" y1="1649.1" x2="1330.6" y2="1649.1" stroke="#f00" stroke-width="6"/>
<line x1="1202.4" y1="1809.6" x2="1316" y2="1809.6" stroke="#f00" stroke-width="6"/>
<line x1="1263.8" y1="1677.5" x2="1495" y2="1344.9" stroke="#f00" stroke-width="6"/>
<line x1="1251" y1="1854.7" x2="1488.4" y2="1518" stroke="#f00" stroke-width="6"/>
<rect x="1084" y="1126.2" width="839.5" height="830.5" fill="none" stroke="#000" stroke-width="6"/>
<line x1="1294.1" y1="1956.7" x2="1294.1" y2="1941.2" stroke="#000" stroke-width="6"/>
<line x1="1503.8" y1="1956.7" x2="1503.8" y2="1941.2" stroke="#000" stroke-width="6"/>
<line x1="1713.9" y1="1956.7" x2="1713.9" y2="1941.2" stroke="#000" stroke-width="6"/>
<line x1="1188.6" y1="1956.7" x2="1188.6" y2="1948.7" stroke="#000" stroke-width="6"/>
<line x1="1398.3" y1="1956.7" x2="1398.3" y2="1948.7" stroke="#000" stroke-width="6"/>
<line x1="1608.3" y1="1956.7" x2="1608.3" y2="1948.7" stroke="#000" stroke-width="6"/>
<line x1="1818.8" y1="1956.7" x2="1818.8" y2="1948.7" stroke="#000" stroke-width="6"/>
<g fill="#fff" stroke="#000" stroke-width="1.9">
<rect x="1314.8" y="1191.9" width="15.4" height="15.4"/>
</g>
<g fill="#fff" stroke="#000" stroke-width="1.9">
<circle cx="1321.4" cy="1258.3" r="8.8"/>
</g>
<text class="se" x="1378.8" y="1212.3" font-size="38" textLength="290.4" lengthAdjust="spacingAndGlyphs">With Nitridation</text>
<text class="se" x="1378.8" y="1271" font-size="38" textLength="285" lengthAdjust="spacingAndGlyphs">W/O Nitridation</text>
<text class="sa" x="1096" y="1178.5" font-size="42" textLength="53.6" lengthAdjust="spacingAndGlyphs">(d)</text>
<text class="se" x="1323.3" y="1862.9" font-size="51">E</text>
<text class="se" x="1358.5" y="1879" font-size="31">g</text>
<text class="se" x="1387" y="1862.9" font-size="51" textLength="28.3" lengthAdjust="spacingAndGlyphs">~</text>
<text class="se" x="1430.2" y="1862.9" font-size="51" textLength="167.3" lengthAdjust="spacingAndGlyphs">4.70 eV</text>
<text class="se" x="1083.3" y="2010.3" font-size="45" text-anchor="middle">0</text>
<text class="se" x="1293.6" y="2010.3" font-size="45" text-anchor="middle">5</text>
<text class="se" x="1504" y="2010.3" font-size="45" text-anchor="middle">10</text>
<text class="se" x="1714" y="2010.3" font-size="45" text-anchor="middle">15</text>
<text class="se" x="1925" y="2010.3" font-size="45" text-anchor="middle">20</text>
<text class="sa" x="1198" y="2082" font-size="57" textLength="611.3" lengthAdjust="spacingAndGlyphs">O 1s Loss Energy (eV)</text>
<text class="sa" x="0" y="0" font-size="59" textLength="392.4" lengthAdjust="spacingAndGlyphs" transform="translate(1031.1 1757.7) rotate(-90)">Intensity (a.u.)</text>
</svg>
</body></html>
